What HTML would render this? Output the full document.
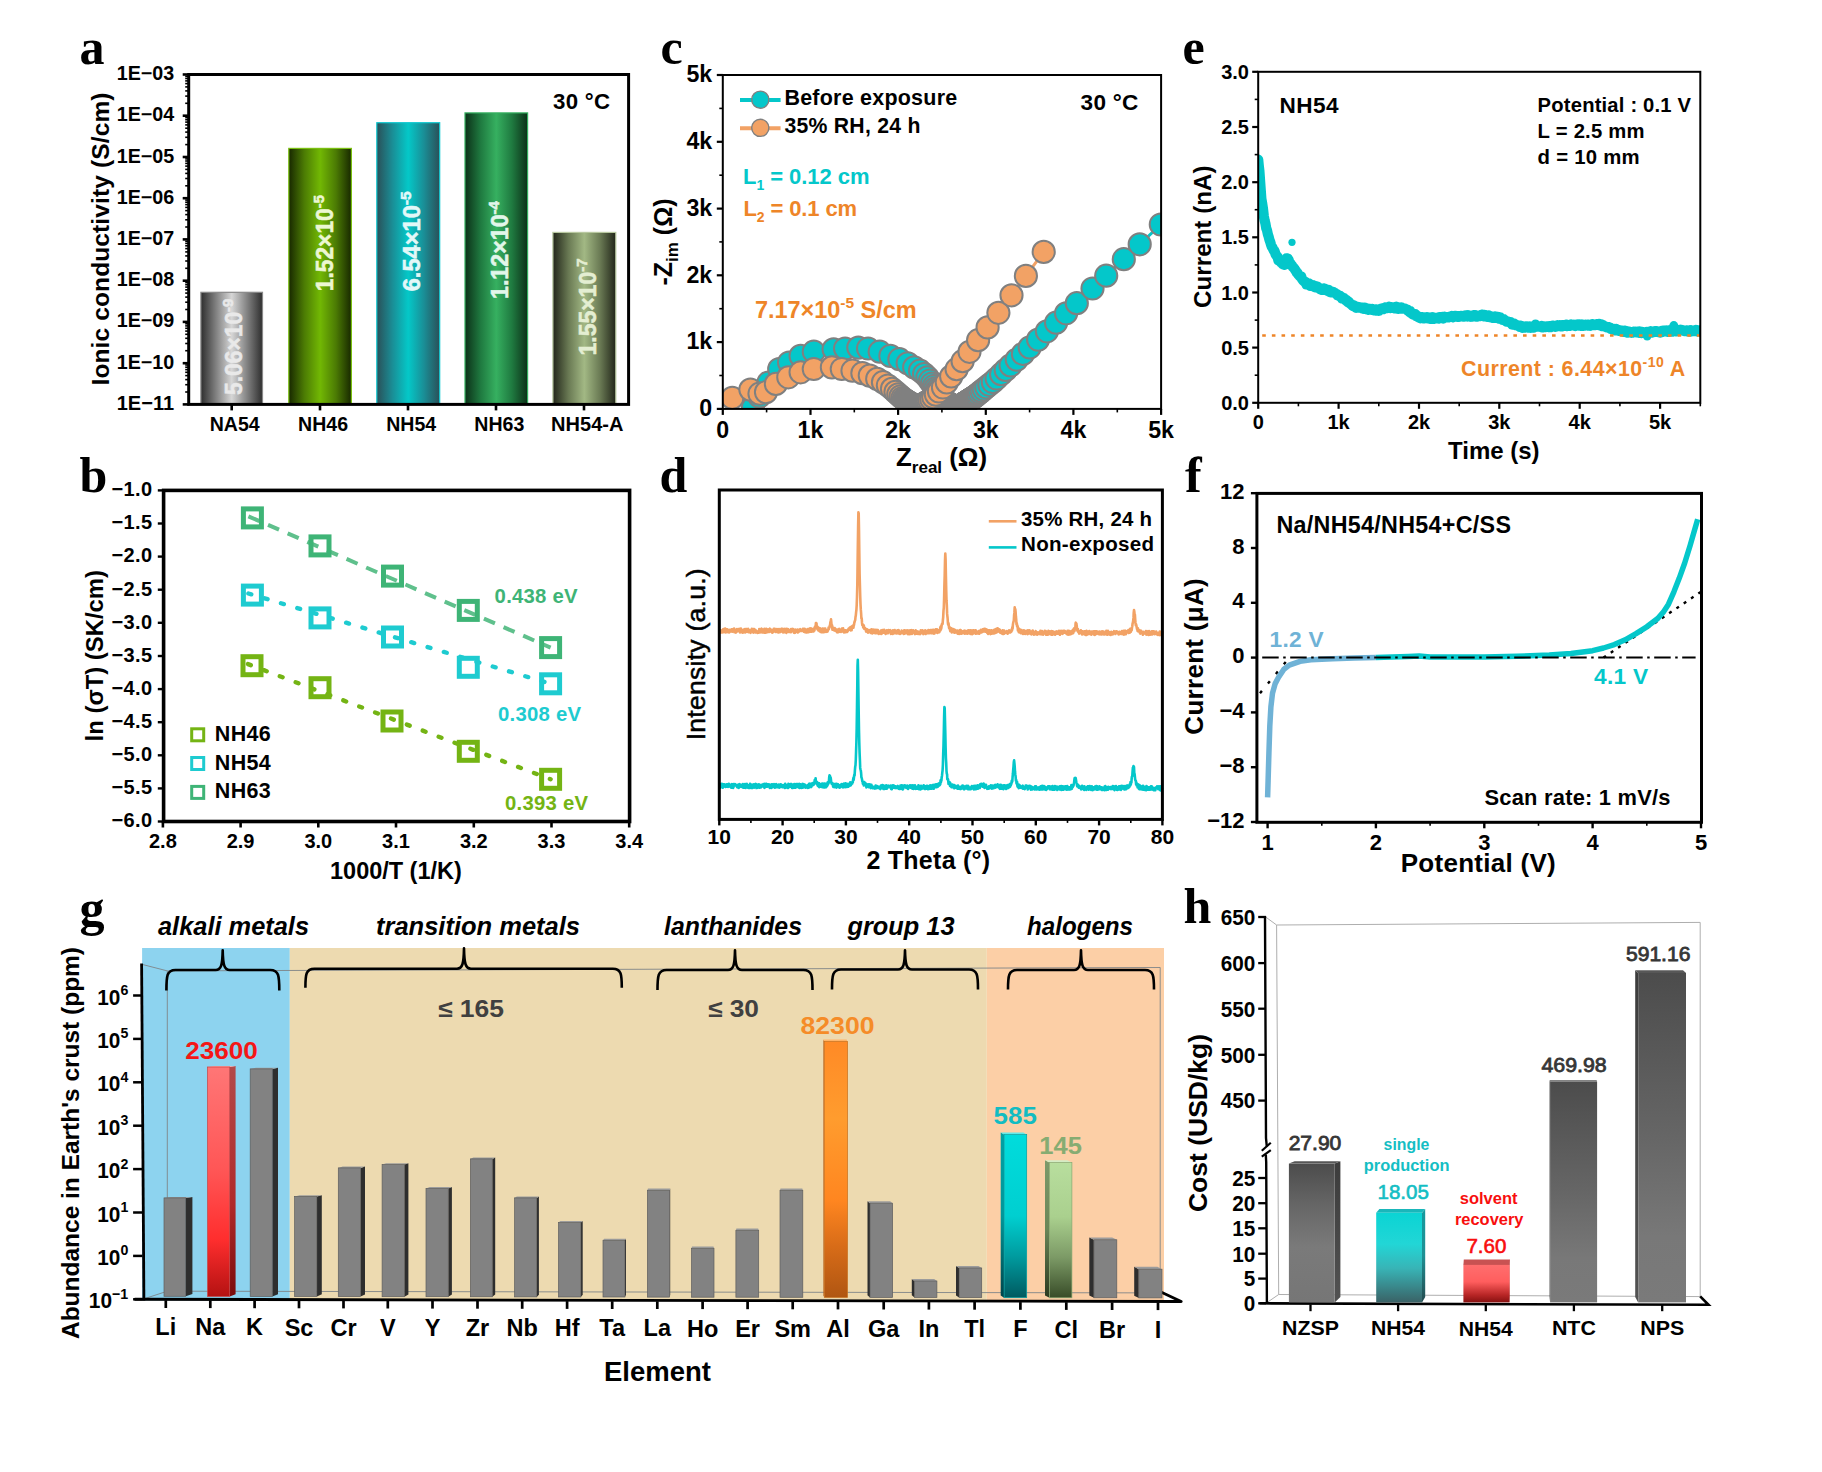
<!DOCTYPE html>
<html lang="en"><head><meta charset="utf-8"><title>Figure</title>
<style>html,body{margin:0;padding:0;background:#fff}svg{display:block}text{font-family:"Liberation Sans",sans-serif}text.ser{font-family:"Liberation Serif",serif}</style></head>
<body>
<svg width="1822" height="1472" viewBox="0 0 1822 1472">
<defs><linearGradient id="ga1" x1="0" y1="0" x2="1" y2="0"><stop offset="0" stop-color="#2e2e2e"/><stop offset="0.5" stop-color="#d6d6d6"/><stop offset="1" stop-color="#2e2e2e"/></linearGradient><linearGradient id="ga2" x1="0" y1="0" x2="1" y2="0"><stop offset="0" stop-color="#182800"/><stop offset="0.25" stop-color="#4c7c04"/><stop offset="0.5" stop-color="#72b804"/><stop offset="0.75" stop-color="#4c7c04"/><stop offset="1" stop-color="#182800"/></linearGradient><linearGradient id="ga3" x1="0" y1="0" x2="1" y2="0"><stop offset="0" stop-color="#2a5058"/><stop offset="0.25" stop-color="#1a8e96"/><stop offset="0.5" stop-color="#04c8c8"/><stop offset="0.75" stop-color="#1a8e96"/><stop offset="1" stop-color="#2a5058"/></linearGradient><linearGradient id="ga4" x1="0" y1="0" x2="1" y2="0"><stop offset="0" stop-color="#0c3018"/><stop offset="0.25" stop-color="#1f7a40"/><stop offset="0.5" stop-color="#36b060"/><stop offset="0.75" stop-color="#1f7a40"/><stop offset="1" stop-color="#0c3018"/></linearGradient><linearGradient id="ga5" x1="0" y1="0" x2="1" y2="0"><stop offset="0" stop-color="#22261a"/><stop offset="0.25" stop-color="#6a7a54"/><stop offset="0.5" stop-color="#a2b884"/><stop offset="0.75" stop-color="#6a7a54"/><stop offset="1" stop-color="#22261a"/></linearGradient><linearGradient id="gna" x1="0" y1="0" x2="0" y2="1"><stop offset="0" stop-color="#ff7676"/><stop offset="0.45" stop-color="#ff5656"/><stop offset="0.75" stop-color="#ff2e2e"/><stop offset="1" stop-color="#b41212"/></linearGradient><linearGradient id="gna2" x1="0" y1="0" x2="0" y2="1"><stop offset="0" stop-color="#b24a4a"/><stop offset="0.6" stop-color="#b02a2a"/><stop offset="1" stop-color="#7a0c0c"/></linearGradient><linearGradient id="gal" x1="0" y1="0" x2="0" y2="1"><stop offset="0" stop-color="#ff8a26"/><stop offset="0.3" stop-color="#ff9c2e"/><stop offset="0.62" stop-color="#ff8620"/><stop offset="0.8" stop-color="#d86c18"/><stop offset="1" stop-color="#b05612"/></linearGradient><linearGradient id="gf" x1="0" y1="0" x2="0" y2="1"><stop offset="0" stop-color="#00dcdc"/><stop offset="0.5" stop-color="#00cfd0"/><stop offset="0.75" stop-color="#009a9e"/><stop offset="1" stop-color="#005a60"/></linearGradient><linearGradient id="gf2" x1="0" y1="0" x2="0" y2="1"><stop offset="0" stop-color="#00a0a4"/><stop offset="0.5" stop-color="#00979a"/><stop offset="1" stop-color="#00444a"/></linearGradient><linearGradient id="gcl" x1="0" y1="0" x2="0" y2="1"><stop offset="0" stop-color="#b8de9e"/><stop offset="0.4" stop-color="#aad08e"/><stop offset="0.7" stop-color="#7c9a66"/><stop offset="1" stop-color="#384c28"/></linearGradient><linearGradient id="gcl2" x1="0" y1="0" x2="0" y2="1"><stop offset="0" stop-color="#7c9a6a"/><stop offset="0.5" stop-color="#6a8658"/><stop offset="1" stop-color="#2c3a20"/></linearGradient><linearGradient id="hg" x1="0" y1="0" x2="0" y2="1"><stop offset="0" stop-color="#4c4c4c"/><stop offset="0.3" stop-color="#666"/><stop offset="0.6" stop-color="#7a7a7a"/><stop offset="1" stop-color="#767676"/></linearGradient><linearGradient id="hg2" x1="0" y1="0" x2="0" y2="1"><stop offset="0" stop-color="#4c4c4c"/><stop offset="0.5" stop-color="#666"/><stop offset="0.8" stop-color="#787878"/><stop offset="1" stop-color="#7a7a7a"/></linearGradient><linearGradient id="hgs" x1="0" y1="0" x2="0" y2="1"><stop offset="0" stop-color="#3c3c3c"/><stop offset="1" stop-color="#525252"/></linearGradient><linearGradient id="hc" x1="0" y1="0" x2="0" y2="1"><stop offset="0" stop-color="#0ad4d4"/><stop offset="0.35" stop-color="#22d6d6"/><stop offset="0.62" stop-color="#38b4b6"/><stop offset="1" stop-color="#3a6266"/></linearGradient><linearGradient id="hcs" x1="0" y1="0" x2="0" y2="1"><stop offset="0" stop-color="#169a9e"/><stop offset="0.5" stop-color="#1e9094"/><stop offset="1" stop-color="#244a4e"/></linearGradient><linearGradient id="hr" x1="0" y1="0" x2="0" y2="1"><stop offset="0" stop-color="#ff6e6e"/><stop offset="0.45" stop-color="#ff5e5e"/><stop offset="0.8" stop-color="#b82626"/><stop offset="1" stop-color="#861010"/></linearGradient></defs>
<rect width="1822" height="1472" fill="#fff"/>
<g id="panel_a">
<text x="79.5" y="64.0" font-size="50" font-weight="bold" fill="#000" class="ser">a</text>
<rect x="200.9" y="292.3" width="61.6" height="112.1" fill="url(#ga1)" stroke="#888" stroke-width="1.2" />
<text x="234.7" y="430.8" font-size="19.56" font-weight="bold" fill="#000" text-anchor="middle" textLength="50.0" lengthAdjust="spacing">NA54</text>
<rect x="288.8" y="148.4" width="62.6" height="256.0" fill="url(#ga2)" stroke="#7ac010" stroke-width="1.2" />
<text x="323.1" y="430.8" font-size="19.56" font-weight="bold" fill="#000" text-anchor="middle" textLength="50.0" lengthAdjust="spacing">NH46</text>
<rect x="376.8" y="122.7" width="62.9" height="281.7" fill="url(#ga3)" stroke="#10c8d0" stroke-width="1.2" />
<text x="411.2" y="430.8" font-size="19.56" font-weight="bold" fill="#000" text-anchor="middle" textLength="50.0" lengthAdjust="spacing">NH54</text>
<rect x="465.0" y="112.9" width="62.6" height="291.5" fill="url(#ga4)" stroke="#35b060" stroke-width="1.2" />
<text x="499.3" y="430.8" font-size="19.56" font-weight="bold" fill="#000" text-anchor="middle" textLength="50.0" lengthAdjust="spacing">NH63</text>
<rect x="552.9" y="232.4" width="62.9" height="172.0" fill="url(#ga5)" stroke="#b8c8a0" stroke-width="1.2" />
<text x="587.3" y="430.8" font-size="20" font-weight="bold" fill="#000" text-anchor="middle" textLength="72.4" lengthAdjust="spacing">NH54-A</text>
<text x="242.3" y="395.0" font-size="23" fill="#e9e9e9" stroke="#e9e9e9" stroke-width="0.55" font-weight="bold" transform="rotate(-90 242.3 395.0)" textLength="96.3" lengthAdjust="spacingAndGlyphs">5.06×10<tspan dy="-9" font-size="15">-9</tspan></text>
<text x="332.6" y="291.3" font-size="23" fill="#ecf7d2" stroke="#ecf7d2" stroke-width="0.55" font-weight="bold" transform="rotate(-90 332.6 291.3)" textLength="96.3" lengthAdjust="spacingAndGlyphs">1.52×10<tspan dy="-9" font-size="15">-5</tspan></text>
<text x="419.9" y="291.3" font-size="23" fill="#e2f8f8" stroke="#e2f8f8" stroke-width="0.55" font-weight="bold" transform="rotate(-90 419.9 291.3)" textLength="100" lengthAdjust="spacingAndGlyphs">6.54×10<tspan dy="-9" font-size="15">-5</tspan></text>
<text x="508.0" y="299.0" font-size="23" fill="#e2f6ea" stroke="#e2f6ea" stroke-width="0.55" font-weight="bold" transform="rotate(-90 508.0 299.0)" textLength="98" lengthAdjust="spacingAndGlyphs">1.12×10<tspan dy="-9" font-size="15">-4</tspan></text>
<text x="596.0" y="355.5" font-size="23" fill="#e4eed2" stroke="#e4eed2" stroke-width="0.55" font-weight="bold" transform="rotate(-90 596.0 355.5)" textLength="97" lengthAdjust="spacingAndGlyphs">1.55×10<tspan dy="-9" font-size="15">-7</tspan></text>
<rect x="188.7" y="74.5" width="439.9" height="329.9" fill="none" stroke="#000" stroke-width="3.0" />
<line x1="182.7" y1="74.5" x2="188.7" y2="74.5" stroke="#000" stroke-width="2.6" />
<text x="174.2" y="80.0" font-size="19.69" font-weight="bold" fill="#000" text-anchor="end" textLength="57.5" lengthAdjust="spacing">1E−03</text>
<line x1="185.2" y1="103.3" x2="188.7" y2="103.3" stroke="#000" stroke-width="1.6" />
<line x1="185.2" y1="96.1" x2="188.7" y2="96.1" stroke="#000" stroke-width="1.6" />
<line x1="185.2" y1="90.9" x2="188.7" y2="90.9" stroke="#000" stroke-width="1.6" />
<line x1="185.2" y1="86.9" x2="188.7" y2="86.9" stroke="#000" stroke-width="1.6" />
<line x1="185.2" y1="83.6" x2="188.7" y2="83.6" stroke="#000" stroke-width="1.6" />
<line x1="185.2" y1="80.9" x2="188.7" y2="80.9" stroke="#000" stroke-width="1.6" />
<line x1="185.2" y1="78.5" x2="188.7" y2="78.5" stroke="#000" stroke-width="1.6" />
<line x1="185.2" y1="76.4" x2="188.7" y2="76.4" stroke="#000" stroke-width="1.6" />
<line x1="182.7" y1="115.7" x2="188.7" y2="115.7" stroke="#000" stroke-width="2.6" />
<text x="174.2" y="121.2" font-size="19.69" font-weight="bold" fill="#000" text-anchor="end" textLength="57.5" lengthAdjust="spacing">1E−04</text>
<line x1="185.2" y1="144.6" x2="188.7" y2="144.6" stroke="#000" stroke-width="1.6" />
<line x1="185.2" y1="137.3" x2="188.7" y2="137.3" stroke="#000" stroke-width="1.6" />
<line x1="185.2" y1="132.1" x2="188.7" y2="132.1" stroke="#000" stroke-width="1.6" />
<line x1="185.2" y1="128.2" x2="188.7" y2="128.2" stroke="#000" stroke-width="1.6" />
<line x1="185.2" y1="124.9" x2="188.7" y2="124.9" stroke="#000" stroke-width="1.6" />
<line x1="185.2" y1="122.1" x2="188.7" y2="122.1" stroke="#000" stroke-width="1.6" />
<line x1="185.2" y1="119.7" x2="188.7" y2="119.7" stroke="#000" stroke-width="1.6" />
<line x1="185.2" y1="117.6" x2="188.7" y2="117.6" stroke="#000" stroke-width="1.6" />
<line x1="182.7" y1="157.0" x2="188.7" y2="157.0" stroke="#000" stroke-width="2.6" />
<text x="174.2" y="162.5" font-size="19.69" font-weight="bold" fill="#000" text-anchor="end" textLength="57.5" lengthAdjust="spacing">1E−05</text>
<line x1="185.2" y1="185.8" x2="188.7" y2="185.8" stroke="#000" stroke-width="1.6" />
<line x1="185.2" y1="178.5" x2="188.7" y2="178.5" stroke="#000" stroke-width="1.6" />
<line x1="185.2" y1="173.4" x2="188.7" y2="173.4" stroke="#000" stroke-width="1.6" />
<line x1="185.2" y1="169.4" x2="188.7" y2="169.4" stroke="#000" stroke-width="1.6" />
<line x1="185.2" y1="166.1" x2="188.7" y2="166.1" stroke="#000" stroke-width="1.6" />
<line x1="185.2" y1="163.4" x2="188.7" y2="163.4" stroke="#000" stroke-width="1.6" />
<line x1="185.2" y1="161.0" x2="188.7" y2="161.0" stroke="#000" stroke-width="1.6" />
<line x1="185.2" y1="158.9" x2="188.7" y2="158.9" stroke="#000" stroke-width="1.6" />
<line x1="182.7" y1="198.2" x2="188.7" y2="198.2" stroke="#000" stroke-width="2.6" />
<text x="174.2" y="203.7" font-size="19.69" font-weight="bold" fill="#000" text-anchor="end" textLength="57.5" lengthAdjust="spacing">1E−06</text>
<line x1="185.2" y1="227.0" x2="188.7" y2="227.0" stroke="#000" stroke-width="1.6" />
<line x1="185.2" y1="219.8" x2="188.7" y2="219.8" stroke="#000" stroke-width="1.6" />
<line x1="185.2" y1="214.6" x2="188.7" y2="214.6" stroke="#000" stroke-width="1.6" />
<line x1="185.2" y1="210.6" x2="188.7" y2="210.6" stroke="#000" stroke-width="1.6" />
<line x1="185.2" y1="207.4" x2="188.7" y2="207.4" stroke="#000" stroke-width="1.6" />
<line x1="185.2" y1="204.6" x2="188.7" y2="204.6" stroke="#000" stroke-width="1.6" />
<line x1="185.2" y1="202.2" x2="188.7" y2="202.2" stroke="#000" stroke-width="1.6" />
<line x1="185.2" y1="200.1" x2="188.7" y2="200.1" stroke="#000" stroke-width="1.6" />
<line x1="182.7" y1="239.4" x2="188.7" y2="239.4" stroke="#000" stroke-width="2.6" />
<text x="174.2" y="244.9" font-size="19.69" font-weight="bold" fill="#000" text-anchor="end" textLength="57.5" lengthAdjust="spacing">1E−07</text>
<line x1="185.2" y1="268.3" x2="188.7" y2="268.3" stroke="#000" stroke-width="1.6" />
<line x1="185.2" y1="261.0" x2="188.7" y2="261.0" stroke="#000" stroke-width="1.6" />
<line x1="185.2" y1="255.9" x2="188.7" y2="255.9" stroke="#000" stroke-width="1.6" />
<line x1="185.2" y1="251.9" x2="188.7" y2="251.9" stroke="#000" stroke-width="1.6" />
<line x1="185.2" y1="248.6" x2="188.7" y2="248.6" stroke="#000" stroke-width="1.6" />
<line x1="185.2" y1="245.8" x2="188.7" y2="245.8" stroke="#000" stroke-width="1.6" />
<line x1="185.2" y1="243.4" x2="188.7" y2="243.4" stroke="#000" stroke-width="1.6" />
<line x1="185.2" y1="241.3" x2="188.7" y2="241.3" stroke="#000" stroke-width="1.6" />
<line x1="182.7" y1="280.7" x2="188.7" y2="280.7" stroke="#000" stroke-width="2.6" />
<text x="174.2" y="286.2" font-size="19.69" font-weight="bold" fill="#000" text-anchor="end" textLength="57.5" lengthAdjust="spacing">1E−08</text>
<line x1="185.2" y1="309.5" x2="188.7" y2="309.5" stroke="#000" stroke-width="1.6" />
<line x1="185.2" y1="302.2" x2="188.7" y2="302.2" stroke="#000" stroke-width="1.6" />
<line x1="185.2" y1="297.1" x2="188.7" y2="297.1" stroke="#000" stroke-width="1.6" />
<line x1="185.2" y1="293.1" x2="188.7" y2="293.1" stroke="#000" stroke-width="1.6" />
<line x1="185.2" y1="289.8" x2="188.7" y2="289.8" stroke="#000" stroke-width="1.6" />
<line x1="185.2" y1="287.1" x2="188.7" y2="287.1" stroke="#000" stroke-width="1.6" />
<line x1="185.2" y1="284.7" x2="188.7" y2="284.7" stroke="#000" stroke-width="1.6" />
<line x1="185.2" y1="282.6" x2="188.7" y2="282.6" stroke="#000" stroke-width="1.6" />
<line x1="182.7" y1="321.9" x2="188.7" y2="321.9" stroke="#000" stroke-width="2.6" />
<text x="174.2" y="327.4" font-size="19.69" font-weight="bold" fill="#000" text-anchor="end" textLength="57.5" lengthAdjust="spacing">1E−09</text>
<line x1="185.2" y1="350.7" x2="188.7" y2="350.7" stroke="#000" stroke-width="1.6" />
<line x1="185.2" y1="343.5" x2="188.7" y2="343.5" stroke="#000" stroke-width="1.6" />
<line x1="185.2" y1="338.3" x2="188.7" y2="338.3" stroke="#000" stroke-width="1.6" />
<line x1="185.2" y1="334.3" x2="188.7" y2="334.3" stroke="#000" stroke-width="1.6" />
<line x1="185.2" y1="331.1" x2="188.7" y2="331.1" stroke="#000" stroke-width="1.6" />
<line x1="185.2" y1="328.3" x2="188.7" y2="328.3" stroke="#000" stroke-width="1.6" />
<line x1="185.2" y1="325.9" x2="188.7" y2="325.9" stroke="#000" stroke-width="1.6" />
<line x1="185.2" y1="323.8" x2="188.7" y2="323.8" stroke="#000" stroke-width="1.6" />
<line x1="182.7" y1="363.2" x2="188.7" y2="363.2" stroke="#000" stroke-width="2.6" />
<text x="174.2" y="368.7" font-size="19.69" font-weight="bold" fill="#000" text-anchor="end" textLength="57.5" lengthAdjust="spacing">1E−10</text>
<line x1="185.2" y1="392.0" x2="188.7" y2="392.0" stroke="#000" stroke-width="1.6" />
<line x1="185.2" y1="384.7" x2="188.7" y2="384.7" stroke="#000" stroke-width="1.6" />
<line x1="185.2" y1="379.6" x2="188.7" y2="379.6" stroke="#000" stroke-width="1.6" />
<line x1="185.2" y1="375.6" x2="188.7" y2="375.6" stroke="#000" stroke-width="1.6" />
<line x1="185.2" y1="372.3" x2="188.7" y2="372.3" stroke="#000" stroke-width="1.6" />
<line x1="185.2" y1="369.6" x2="188.7" y2="369.6" stroke="#000" stroke-width="1.6" />
<line x1="185.2" y1="367.2" x2="188.7" y2="367.2" stroke="#000" stroke-width="1.6" />
<line x1="185.2" y1="365.0" x2="188.7" y2="365.0" stroke="#000" stroke-width="1.6" />
<line x1="182.7" y1="404.4" x2="188.7" y2="404.4" stroke="#000" stroke-width="2.6" />
<text x="174.2" y="409.9" font-size="20" font-weight="bold" fill="#000" text-anchor="end" textLength="57.5" lengthAdjust="spacing">1E−11</text>
<line x1="231.7" y1="404.4" x2="231.7" y2="410.4" stroke="#000" stroke-width="2.6" />
<line x1="320.0" y1="404.4" x2="320.0" y2="410.4" stroke="#000" stroke-width="2.6" />
<line x1="408.0" y1="404.4" x2="408.0" y2="410.4" stroke="#000" stroke-width="2.6" />
<line x1="496.0" y1="404.4" x2="496.0" y2="410.4" stroke="#000" stroke-width="2.6" />
<line x1="584.0" y1="404.4" x2="584.0" y2="410.4" stroke="#000" stroke-width="2.6" />
<text x="108.5" y="239.0" font-size="24.5" font-weight="bold" fill="#000" text-anchor="middle" textLength="293.0" lengthAdjust="spacing" transform="rotate(-90 108.5 239.0)">Ionic conductivity (S/cm)</text>
<text x="553.0" y="109.0" font-size="22.24" font-weight="bold" fill="#000" textLength="57.0" lengthAdjust="spacing">30 °C</text>
</g>
<g id="panel_b">
<text x="79.5" y="492.0" font-size="50" font-weight="bold" fill="#000" class="ser">b</text>
<line x1="248.4" y1="516.3" x2="550.6" y2="647.6" stroke="#5fc08c" stroke-width="4.0" stroke-dasharray="12 9.4" stroke-linecap="butt"/>
<rect x="243.4" y="508.9" width="18.0" height="18.0" fill="none" stroke="#3eb476" stroke-width="5" />
<rect x="311.0" y="536.9" width="18.0" height="18.0" fill="none" stroke="#3eb476" stroke-width="5" />
<rect x="383.5" y="567.1" width="18.0" height="18.0" fill="none" stroke="#3eb476" stroke-width="5" />
<rect x="459.3" y="601.4" width="18.0" height="18.0" fill="none" stroke="#3eb476" stroke-width="5" />
<rect x="541.6" y="638.6" width="18.0" height="18.0" fill="none" stroke="#3eb476" stroke-width="5" />
<line x1="248.4" y1="593.5" x2="550.6" y2="683.8" stroke="#1ecbd0" stroke-width="4.4" stroke-dasharray="3 14" stroke-linecap="round"/>
<rect x="243.4" y="586.1" width="18.0" height="18.0" fill="none" stroke="#1ecbd0" stroke-width="5" />
<rect x="311.0" y="608.9" width="18.0" height="18.0" fill="none" stroke="#1ecbd0" stroke-width="5" />
<rect x="383.5" y="628.0" width="18.0" height="18.0" fill="none" stroke="#1ecbd0" stroke-width="5" />
<rect x="459.3" y="658.3" width="18.0" height="18.0" fill="none" stroke="#1ecbd0" stroke-width="5" />
<rect x="541.6" y="674.8" width="18.0" height="18.0" fill="none" stroke="#1ecbd0" stroke-width="5" />
<line x1="248.0" y1="664.1" x2="550.6" y2="779.3" stroke="#74b414" stroke-width="4.4" stroke-dasharray="3 14" stroke-linecap="round"/>
<rect x="243.0" y="656.7" width="18.0" height="18.0" fill="none" stroke="#74b414" stroke-width="5" />
<rect x="311.0" y="678.7" width="18.0" height="18.0" fill="none" stroke="#74b414" stroke-width="5" />
<rect x="383.0" y="712.0" width="18.0" height="18.0" fill="none" stroke="#74b414" stroke-width="5" />
<rect x="459.3" y="742.3" width="18.0" height="18.0" fill="none" stroke="#74b414" stroke-width="5" />
<rect x="541.6" y="770.3" width="18.0" height="18.0" fill="none" stroke="#74b414" stroke-width="5" />
<rect x="163.6" y="490.4" width="466.0" height="331.1" fill="none" stroke="#000" stroke-width="3.6" />
<line x1="157.8" y1="490.4" x2="163.6" y2="490.4" stroke="#000" stroke-width="2.4" />
<text x="152.0" y="496.2" font-size="20" font-weight="bold" fill="#000" text-anchor="end" textLength="40.5" lengthAdjust="spacing">−1.0</text>
<line x1="157.8" y1="523.5" x2="163.6" y2="523.5" stroke="#000" stroke-width="2.4" />
<text x="152.0" y="529.3" font-size="20" font-weight="bold" fill="#000" text-anchor="end" textLength="40.5" lengthAdjust="spacing">−1.5</text>
<line x1="157.8" y1="556.6" x2="163.6" y2="556.6" stroke="#000" stroke-width="2.4" />
<text x="152.0" y="562.4" font-size="20" font-weight="bold" fill="#000" text-anchor="end" textLength="40.5" lengthAdjust="spacing">−2.0</text>
<line x1="157.8" y1="589.7" x2="163.6" y2="589.7" stroke="#000" stroke-width="2.4" />
<text x="152.0" y="595.5" font-size="20" font-weight="bold" fill="#000" text-anchor="end" textLength="40.5" lengthAdjust="spacing">−2.5</text>
<line x1="157.8" y1="622.8" x2="163.6" y2="622.8" stroke="#000" stroke-width="2.4" />
<text x="152.0" y="628.6" font-size="20" font-weight="bold" fill="#000" text-anchor="end" textLength="40.5" lengthAdjust="spacing">−3.0</text>
<line x1="157.8" y1="656.0" x2="163.6" y2="656.0" stroke="#000" stroke-width="2.4" />
<text x="152.0" y="661.8" font-size="20" font-weight="bold" fill="#000" text-anchor="end" textLength="40.5" lengthAdjust="spacing">−3.5</text>
<line x1="157.8" y1="689.1" x2="163.6" y2="689.1" stroke="#000" stroke-width="2.4" />
<text x="152.0" y="694.9" font-size="20" font-weight="bold" fill="#000" text-anchor="end" textLength="40.5" lengthAdjust="spacing">−4.0</text>
<line x1="157.8" y1="722.2" x2="163.6" y2="722.2" stroke="#000" stroke-width="2.4" />
<text x="152.0" y="728.0" font-size="20" font-weight="bold" fill="#000" text-anchor="end" textLength="40.5" lengthAdjust="spacing">−4.5</text>
<line x1="157.8" y1="755.3" x2="163.6" y2="755.3" stroke="#000" stroke-width="2.4" />
<text x="152.0" y="761.1" font-size="20" font-weight="bold" fill="#000" text-anchor="end" textLength="40.5" lengthAdjust="spacing">−5.0</text>
<line x1="157.8" y1="788.4" x2="163.6" y2="788.4" stroke="#000" stroke-width="2.4" />
<text x="152.0" y="794.2" font-size="20" font-weight="bold" fill="#000" text-anchor="end" textLength="40.5" lengthAdjust="spacing">−5.5</text>
<line x1="157.8" y1="821.5" x2="163.6" y2="821.5" stroke="#000" stroke-width="2.4" />
<text x="152.0" y="827.3" font-size="20" font-weight="bold" fill="#000" text-anchor="end" textLength="40.5" lengthAdjust="spacing">−6.0</text>
<line x1="162.9" y1="821.5" x2="162.9" y2="827.5" stroke="#000" stroke-width="2.6" />
<text x="162.9" y="847.6" font-size="20" font-weight="bold" fill="#000" text-anchor="middle">2.8</text>
<line x1="240.6" y1="821.5" x2="240.6" y2="827.5" stroke="#000" stroke-width="2.6" />
<text x="240.6" y="847.6" font-size="20" font-weight="bold" fill="#000" text-anchor="middle">2.9</text>
<line x1="318.3" y1="821.5" x2="318.3" y2="827.5" stroke="#000" stroke-width="2.6" />
<text x="318.3" y="847.6" font-size="20" font-weight="bold" fill="#000" text-anchor="middle">3.0</text>
<line x1="396.0" y1="821.5" x2="396.0" y2="827.5" stroke="#000" stroke-width="2.6" />
<text x="396.0" y="847.6" font-size="20" font-weight="bold" fill="#000" text-anchor="middle">3.1</text>
<line x1="473.8" y1="821.5" x2="473.8" y2="827.5" stroke="#000" stroke-width="2.6" />
<text x="473.8" y="847.6" font-size="20" font-weight="bold" fill="#000" text-anchor="middle">3.2</text>
<line x1="551.5" y1="821.5" x2="551.5" y2="827.5" stroke="#000" stroke-width="2.6" />
<text x="551.5" y="847.6" font-size="20" font-weight="bold" fill="#000" text-anchor="middle">3.3</text>
<line x1="629.2" y1="821.5" x2="629.2" y2="827.5" stroke="#000" stroke-width="2.6" />
<text x="629.2" y="847.6" font-size="20" font-weight="bold" fill="#000" text-anchor="middle">3.4</text>
<rect x="191.7" y="728.8" width="12.0" height="12.0" fill="none" stroke="#74b414" stroke-width="3" />
<text x="214.8" y="740.8" font-size="21.47" font-weight="bold" fill="#000" textLength="56.0" lengthAdjust="spacing">NH46</text>
<rect x="191.7" y="757.5" width="12.0" height="12.0" fill="none" stroke="#1ecbd0" stroke-width="3" />
<text x="214.8" y="769.5" font-size="21.47" font-weight="bold" fill="#000" textLength="56.0" lengthAdjust="spacing">NH54</text>
<rect x="191.7" y="786.4" width="12.0" height="12.0" fill="none" stroke="#3eb476" stroke-width="3" />
<text x="214.8" y="798.4" font-size="21.47" font-weight="bold" fill="#000" textLength="56.0" lengthAdjust="spacing">NH63</text>
<text x="494.6" y="602.5" font-size="20.33" font-weight="bold" fill="#3eb476" textLength="83.0" lengthAdjust="spacing">0.438 eV</text>
<text x="498.0" y="720.5" font-size="20.33" font-weight="bold" fill="#1ecbd0" textLength="83.0" lengthAdjust="spacing">0.308 eV</text>
<text x="505.0" y="809.5" font-size="20.33" font-weight="bold" fill="#74b414" textLength="83.0" lengthAdjust="spacing">0.393 eV</text>
<text x="103.0" y="655.7" font-size="23.86" font-weight="bold" fill="#000" text-anchor="middle" textLength="171.4" lengthAdjust="spacing" transform="rotate(-90 103.0 655.7)">ln (σT) (SK/cm)</text>
<text x="395.9" y="878.5" font-size="23.5" font-weight="bold" fill="#000" text-anchor="middle" textLength="131.7" lengthAdjust="spacing">1000/T (1/K)</text>
</g>
<g id="panel_c">
<text x="660.5" y="64.0" font-size="50" font-weight="bold" fill="#000" class="ser">c</text>
<clipPath id="clipc"><rect x="722.8" y="75.0" width="438.29999999999995" height="334.2"/></clipPath>
<g clip-path="url(#clipc)">
<path d="M752.9,407.7 L759.5,396.5 L768.5,382.5 L779.2,369.0 L789.1,362.5 L800.6,355.9 L813.8,351.7 L833.6,349.3 L845.1,348.5 L858.3,347.6 L868.1,348.5 L879.7,351.7 L890.4,355.9 L899.4,359.2 L907.7,363.3 L914.2,367.4 L920.0,370.7 L924.1,374.0 L927.4,377.3 L929.9,380.7 L932.0,383.6 L933.8,386.2 L935.3,388.3 L936.7,390.2 L937.8,391.8 L938.9,393.1 L939.8,394.3 L940.6,395.2 L941.3,396.1 L941.9,396.8 L942.4,397.4 L942.8,398.0 L943.2,398.4 L943.5,398.8 L943.7,399.2 L944.0,399.5 L944.3,399.9 L944.6,400.2 L944.9,400.6 L945.2,400.9 L945.4,401.3 L945.7,401.6 L946.0,402.0 L946.4,402.2 L946.8,402.4 L947.2,402.7 L947.6,402.9 L948.0,403.1 L948.3,403.3 L948.7,403.6 L949.1,403.8 L949.5,404.0 L949.9,404.2 L950.3,404.5 L950.7,404.7 L951.1,404.9 L951.5,405.1 L951.9,405.3 L952.2,405.6 L952.6,405.8 L953.0,406.0 L953.5,406.0 L953.9,406.1 L954.4,406.1 L954.8,406.2 L955.3,406.2 L955.7,406.3 L956.2,406.3 L956.6,406.3 L957.1,406.4 L957.5,406.4 L958.0,406.5 L958.4,406.5 L958.9,406.6 L959.6,406.4 L960.0,406.2 L960.4,405.9 L960.8,405.7 L961.1,405.4 L961.5,405.2 L961.9,404.9 L962.3,404.7 L962.6,404.4 L963.0,404.2 L963.4,404.0 L963.8,403.7 L964.2,403.5 L964.5,403.2 L964.9,403.0 L965.3,402.7 L965.7,402.5 L966.1,402.3 L966.4,402.0 L966.8,401.8 L967.2,401.5 L967.6,401.3 L967.9,401.0 L968.3,400.8 L968.7,400.6 L969.1,400.3 L969.5,400.1 L969.8,399.8 L970.2,399.6 L970.7,399.3 L971.2,398.9 L971.8,398.5 L972.5,398.1 L973.4,397.5 L974.3,396.9 L975.4,396.1 L976.6,395.2 L978.0,394.0 L979.7,392.7 L981.6,391.1 L983.8,389.3 L986.3,387.3 L989.3,384.8 L992.8,382.0 L996.6,378.5 L1001.1,374.2 L1005.7,369.9 L1010.6,365.4 L1016.7,359.6 L1022.9,353.9 L1029.7,347.4 L1038.1,339.6 L1046.9,331.3 L1056.1,322.7 L1066.1,313.3 L1076.8,303.2 L1092.5,288.5 L1106.2,275.7 L1123.8,259.2 L1139.7,244.3 L1160.8,224.5" fill="none" stroke="#04c7ca" stroke-width="3" />
<circle cx="752.9" cy="407.7" r="11.1" fill="#04c7ca" stroke="#808080" stroke-width="2"/>
<circle cx="759.5" cy="396.5" r="11.1" fill="#04c7ca" stroke="#808080" stroke-width="2"/>
<circle cx="768.5" cy="382.5" r="11.1" fill="#04c7ca" stroke="#808080" stroke-width="2"/>
<circle cx="779.2" cy="369.0" r="11.1" fill="#04c7ca" stroke="#808080" stroke-width="2"/>
<circle cx="789.1" cy="362.5" r="11.1" fill="#04c7ca" stroke="#808080" stroke-width="2"/>
<circle cx="800.6" cy="355.9" r="11.1" fill="#04c7ca" stroke="#808080" stroke-width="2"/>
<circle cx="813.8" cy="351.7" r="11.1" fill="#04c7ca" stroke="#808080" stroke-width="2"/>
<circle cx="833.6" cy="349.3" r="11.1" fill="#04c7ca" stroke="#808080" stroke-width="2"/>
<circle cx="845.1" cy="348.5" r="11.1" fill="#04c7ca" stroke="#808080" stroke-width="2"/>
<circle cx="858.3" cy="347.6" r="11.1" fill="#04c7ca" stroke="#808080" stroke-width="2"/>
<circle cx="868.1" cy="348.5" r="11.1" fill="#04c7ca" stroke="#808080" stroke-width="2"/>
<circle cx="879.7" cy="351.7" r="11.1" fill="#04c7ca" stroke="#808080" stroke-width="2"/>
<circle cx="890.4" cy="355.9" r="11.1" fill="#04c7ca" stroke="#808080" stroke-width="2"/>
<circle cx="899.4" cy="359.2" r="11.1" fill="#04c7ca" stroke="#808080" stroke-width="2"/>
<circle cx="907.7" cy="363.3" r="11.1" fill="#04c7ca" stroke="#808080" stroke-width="2"/>
<circle cx="914.2" cy="367.4" r="11.1" fill="#04c7ca" stroke="#808080" stroke-width="2"/>
<circle cx="920.0" cy="370.7" r="11.1" fill="#04c7ca" stroke="#808080" stroke-width="2"/>
<circle cx="924.1" cy="374.0" r="11.1" fill="#04c7ca" stroke="#808080" stroke-width="2"/>
<circle cx="927.4" cy="377.3" r="11.1" fill="#04c7ca" stroke="#808080" stroke-width="2"/>
<circle cx="929.9" cy="380.7" r="11.1" fill="#04c7ca" stroke="#808080" stroke-width="2"/>
<circle cx="932.0" cy="383.6" r="11.1" fill="#04c7ca" stroke="#808080" stroke-width="2"/>
<circle cx="933.8" cy="386.2" r="11.1" fill="#04c7ca" stroke="#808080" stroke-width="2"/>
<circle cx="935.3" cy="388.3" r="11.1" fill="#04c7ca" stroke="#808080" stroke-width="2"/>
<circle cx="936.7" cy="390.2" r="11.1" fill="#04c7ca" stroke="#808080" stroke-width="2"/>
<circle cx="937.8" cy="391.8" r="11.1" fill="#04c7ca" stroke="#808080" stroke-width="2"/>
<circle cx="938.9" cy="393.1" r="11.1" fill="#04c7ca" stroke="#808080" stroke-width="2"/>
<circle cx="939.8" cy="394.3" r="11.1" fill="#04c7ca" stroke="#808080" stroke-width="2"/>
<circle cx="940.6" cy="395.2" r="11.1" fill="#04c7ca" stroke="#808080" stroke-width="2"/>
<circle cx="941.3" cy="396.1" r="11.1" fill="#04c7ca" stroke="#808080" stroke-width="2"/>
<circle cx="941.9" cy="396.8" r="11.1" fill="#04c7ca" stroke="#808080" stroke-width="2"/>
<circle cx="942.4" cy="397.4" r="11.1" fill="#04c7ca" stroke="#808080" stroke-width="2"/>
<circle cx="942.8" cy="398.0" r="11.1" fill="#04c7ca" stroke="#808080" stroke-width="2"/>
<circle cx="943.2" cy="398.4" r="11.1" fill="#04c7ca" stroke="#808080" stroke-width="2"/>
<circle cx="943.5" cy="398.8" r="11.1" fill="#04c7ca" stroke="#808080" stroke-width="2"/>
<circle cx="943.7" cy="399.2" r="11.1" fill="#04c7ca" stroke="#808080" stroke-width="2"/>
<circle cx="944.0" cy="399.5" r="11.1" fill="#04c7ca" stroke="#808080" stroke-width="2"/>
<circle cx="944.3" cy="399.9" r="11.1" fill="#04c7ca" stroke="#808080" stroke-width="2"/>
<circle cx="944.6" cy="400.2" r="11.1" fill="#04c7ca" stroke="#808080" stroke-width="2"/>
<circle cx="944.9" cy="400.6" r="11.1" fill="#04c7ca" stroke="#808080" stroke-width="2"/>
<circle cx="945.2" cy="400.9" r="11.1" fill="#04c7ca" stroke="#808080" stroke-width="2"/>
<circle cx="945.4" cy="401.3" r="11.1" fill="#04c7ca" stroke="#808080" stroke-width="2"/>
<circle cx="945.7" cy="401.6" r="11.1" fill="#04c7ca" stroke="#808080" stroke-width="2"/>
<circle cx="946.0" cy="402.0" r="11.1" fill="#04c7ca" stroke="#808080" stroke-width="2"/>
<circle cx="946.4" cy="402.2" r="11.1" fill="#04c7ca" stroke="#808080" stroke-width="2"/>
<circle cx="946.8" cy="402.4" r="11.1" fill="#04c7ca" stroke="#808080" stroke-width="2"/>
<circle cx="947.2" cy="402.7" r="11.1" fill="#04c7ca" stroke="#808080" stroke-width="2"/>
<circle cx="947.6" cy="402.9" r="11.1" fill="#04c7ca" stroke="#808080" stroke-width="2"/>
<circle cx="948.0" cy="403.1" r="11.1" fill="#04c7ca" stroke="#808080" stroke-width="2"/>
<circle cx="948.3" cy="403.3" r="11.1" fill="#04c7ca" stroke="#808080" stroke-width="2"/>
<circle cx="948.7" cy="403.6" r="11.1" fill="#04c7ca" stroke="#808080" stroke-width="2"/>
<circle cx="949.1" cy="403.8" r="11.1" fill="#04c7ca" stroke="#808080" stroke-width="2"/>
<circle cx="949.5" cy="404.0" r="11.1" fill="#04c7ca" stroke="#808080" stroke-width="2"/>
<circle cx="949.9" cy="404.2" r="11.1" fill="#04c7ca" stroke="#808080" stroke-width="2"/>
<circle cx="950.3" cy="404.5" r="11.1" fill="#04c7ca" stroke="#808080" stroke-width="2"/>
<circle cx="950.7" cy="404.7" r="11.1" fill="#04c7ca" stroke="#808080" stroke-width="2"/>
<circle cx="951.1" cy="404.9" r="11.1" fill="#04c7ca" stroke="#808080" stroke-width="2"/>
<circle cx="951.5" cy="405.1" r="11.1" fill="#04c7ca" stroke="#808080" stroke-width="2"/>
<circle cx="951.9" cy="405.3" r="11.1" fill="#04c7ca" stroke="#808080" stroke-width="2"/>
<circle cx="952.2" cy="405.6" r="11.1" fill="#04c7ca" stroke="#808080" stroke-width="2"/>
<circle cx="952.6" cy="405.8" r="11.1" fill="#04c7ca" stroke="#808080" stroke-width="2"/>
<circle cx="953.0" cy="406.0" r="11.1" fill="#04c7ca" stroke="#808080" stroke-width="2"/>
<circle cx="953.5" cy="406.0" r="11.1" fill="#04c7ca" stroke="#808080" stroke-width="2"/>
<circle cx="953.9" cy="406.1" r="11.1" fill="#04c7ca" stroke="#808080" stroke-width="2"/>
<circle cx="954.4" cy="406.1" r="11.1" fill="#04c7ca" stroke="#808080" stroke-width="2"/>
<circle cx="954.8" cy="406.2" r="11.1" fill="#04c7ca" stroke="#808080" stroke-width="2"/>
<circle cx="955.3" cy="406.2" r="11.1" fill="#04c7ca" stroke="#808080" stroke-width="2"/>
<circle cx="955.7" cy="406.3" r="11.1" fill="#04c7ca" stroke="#808080" stroke-width="2"/>
<circle cx="956.2" cy="406.3" r="11.1" fill="#04c7ca" stroke="#808080" stroke-width="2"/>
<circle cx="956.6" cy="406.3" r="11.1" fill="#04c7ca" stroke="#808080" stroke-width="2"/>
<circle cx="957.1" cy="406.4" r="11.1" fill="#04c7ca" stroke="#808080" stroke-width="2"/>
<circle cx="957.5" cy="406.4" r="11.1" fill="#04c7ca" stroke="#808080" stroke-width="2"/>
<circle cx="958.0" cy="406.5" r="11.1" fill="#04c7ca" stroke="#808080" stroke-width="2"/>
<circle cx="958.4" cy="406.5" r="11.1" fill="#04c7ca" stroke="#808080" stroke-width="2"/>
<circle cx="958.9" cy="406.6" r="11.1" fill="#04c7ca" stroke="#808080" stroke-width="2"/>
<circle cx="959.6" cy="406.4" r="11.1" fill="#04c7ca" stroke="#808080" stroke-width="2"/>
<circle cx="960.0" cy="406.2" r="11.1" fill="#04c7ca" stroke="#808080" stroke-width="2"/>
<circle cx="960.4" cy="405.9" r="11.1" fill="#04c7ca" stroke="#808080" stroke-width="2"/>
<circle cx="960.8" cy="405.7" r="11.1" fill="#04c7ca" stroke="#808080" stroke-width="2"/>
<circle cx="961.1" cy="405.4" r="11.1" fill="#04c7ca" stroke="#808080" stroke-width="2"/>
<circle cx="961.5" cy="405.2" r="11.1" fill="#04c7ca" stroke="#808080" stroke-width="2"/>
<circle cx="961.9" cy="404.9" r="11.1" fill="#04c7ca" stroke="#808080" stroke-width="2"/>
<circle cx="962.3" cy="404.7" r="11.1" fill="#04c7ca" stroke="#808080" stroke-width="2"/>
<circle cx="962.6" cy="404.4" r="11.1" fill="#04c7ca" stroke="#808080" stroke-width="2"/>
<circle cx="963.0" cy="404.2" r="11.1" fill="#04c7ca" stroke="#808080" stroke-width="2"/>
<circle cx="963.4" cy="404.0" r="11.1" fill="#04c7ca" stroke="#808080" stroke-width="2"/>
<circle cx="963.8" cy="403.7" r="11.1" fill="#04c7ca" stroke="#808080" stroke-width="2"/>
<circle cx="964.2" cy="403.5" r="11.1" fill="#04c7ca" stroke="#808080" stroke-width="2"/>
<circle cx="964.5" cy="403.2" r="11.1" fill="#04c7ca" stroke="#808080" stroke-width="2"/>
<circle cx="964.9" cy="403.0" r="11.1" fill="#04c7ca" stroke="#808080" stroke-width="2"/>
<circle cx="965.3" cy="402.7" r="11.1" fill="#04c7ca" stroke="#808080" stroke-width="2"/>
<circle cx="965.7" cy="402.5" r="11.1" fill="#04c7ca" stroke="#808080" stroke-width="2"/>
<circle cx="966.1" cy="402.3" r="11.1" fill="#04c7ca" stroke="#808080" stroke-width="2"/>
<circle cx="966.4" cy="402.0" r="11.1" fill="#04c7ca" stroke="#808080" stroke-width="2"/>
<circle cx="966.8" cy="401.8" r="11.1" fill="#04c7ca" stroke="#808080" stroke-width="2"/>
<circle cx="967.2" cy="401.5" r="11.1" fill="#04c7ca" stroke="#808080" stroke-width="2"/>
<circle cx="967.6" cy="401.3" r="11.1" fill="#04c7ca" stroke="#808080" stroke-width="2"/>
<circle cx="967.9" cy="401.0" r="11.1" fill="#04c7ca" stroke="#808080" stroke-width="2"/>
<circle cx="968.3" cy="400.8" r="11.1" fill="#04c7ca" stroke="#808080" stroke-width="2"/>
<circle cx="968.7" cy="400.6" r="11.1" fill="#04c7ca" stroke="#808080" stroke-width="2"/>
<circle cx="969.1" cy="400.3" r="11.1" fill="#04c7ca" stroke="#808080" stroke-width="2"/>
<circle cx="969.5" cy="400.1" r="11.1" fill="#04c7ca" stroke="#808080" stroke-width="2"/>
<circle cx="969.8" cy="399.8" r="11.1" fill="#04c7ca" stroke="#808080" stroke-width="2"/>
<circle cx="970.2" cy="399.6" r="11.1" fill="#04c7ca" stroke="#808080" stroke-width="2"/>
<circle cx="970.7" cy="399.3" r="11.1" fill="#04c7ca" stroke="#808080" stroke-width="2"/>
<circle cx="971.2" cy="398.9" r="11.1" fill="#04c7ca" stroke="#808080" stroke-width="2"/>
<circle cx="971.8" cy="398.5" r="11.1" fill="#04c7ca" stroke="#808080" stroke-width="2"/>
<circle cx="972.5" cy="398.1" r="11.1" fill="#04c7ca" stroke="#808080" stroke-width="2"/>
<circle cx="973.4" cy="397.5" r="11.1" fill="#04c7ca" stroke="#808080" stroke-width="2"/>
<circle cx="974.3" cy="396.9" r="11.1" fill="#04c7ca" stroke="#808080" stroke-width="2"/>
<circle cx="975.4" cy="396.1" r="11.1" fill="#04c7ca" stroke="#808080" stroke-width="2"/>
<circle cx="976.6" cy="395.2" r="11.1" fill="#04c7ca" stroke="#808080" stroke-width="2"/>
<circle cx="978.0" cy="394.0" r="11.1" fill="#04c7ca" stroke="#808080" stroke-width="2"/>
<circle cx="979.7" cy="392.7" r="11.1" fill="#04c7ca" stroke="#808080" stroke-width="2"/>
<circle cx="981.6" cy="391.1" r="11.1" fill="#04c7ca" stroke="#808080" stroke-width="2"/>
<circle cx="983.8" cy="389.3" r="11.1" fill="#04c7ca" stroke="#808080" stroke-width="2"/>
<circle cx="986.3" cy="387.3" r="11.1" fill="#04c7ca" stroke="#808080" stroke-width="2"/>
<circle cx="989.3" cy="384.8" r="11.1" fill="#04c7ca" stroke="#808080" stroke-width="2"/>
<circle cx="992.8" cy="382.0" r="11.1" fill="#04c7ca" stroke="#808080" stroke-width="2"/>
<circle cx="996.6" cy="378.5" r="11.1" fill="#04c7ca" stroke="#808080" stroke-width="2"/>
<circle cx="1001.1" cy="374.2" r="11.1" fill="#04c7ca" stroke="#808080" stroke-width="2"/>
<circle cx="1005.7" cy="369.9" r="11.1" fill="#04c7ca" stroke="#808080" stroke-width="2"/>
<circle cx="1010.6" cy="365.4" r="11.1" fill="#04c7ca" stroke="#808080" stroke-width="2"/>
<circle cx="1016.7" cy="359.6" r="11.1" fill="#04c7ca" stroke="#808080" stroke-width="2"/>
<circle cx="1022.9" cy="353.9" r="11.1" fill="#04c7ca" stroke="#808080" stroke-width="2"/>
<circle cx="1029.7" cy="347.4" r="11.1" fill="#04c7ca" stroke="#808080" stroke-width="2"/>
<circle cx="1038.1" cy="339.6" r="11.1" fill="#04c7ca" stroke="#808080" stroke-width="2"/>
<circle cx="1046.9" cy="331.3" r="11.1" fill="#04c7ca" stroke="#808080" stroke-width="2"/>
<circle cx="1056.1" cy="322.7" r="11.1" fill="#04c7ca" stroke="#808080" stroke-width="2"/>
<circle cx="1066.1" cy="313.3" r="11.1" fill="#04c7ca" stroke="#808080" stroke-width="2"/>
<circle cx="1076.8" cy="303.2" r="11.1" fill="#04c7ca" stroke="#808080" stroke-width="2"/>
<circle cx="1092.5" cy="288.5" r="11.1" fill="#04c7ca" stroke="#808080" stroke-width="2"/>
<circle cx="1106.2" cy="275.7" r="11.1" fill="#04c7ca" stroke="#808080" stroke-width="2"/>
<circle cx="1123.8" cy="259.2" r="11.1" fill="#04c7ca" stroke="#808080" stroke-width="2"/>
<circle cx="1139.7" cy="244.3" r="11.1" fill="#04c7ca" stroke="#808080" stroke-width="2"/>
<circle cx="1160.8" cy="224.5" r="11.1" fill="#04c7ca" stroke="#808080" stroke-width="2"/>
<path d="M732.3,397.9 L750.4,389.6 L759.5,393.7 L766.0,392.1 L775.9,383.9 L788.3,377.3 L800.6,372.3 L813.8,369.0 L831.9,367.4 L841.8,369.0 L852.5,370.7 L862.4,373.2 L869.8,375.6 L877.2,378.9 L883.0,382.2 L887.9,385.5 L892.0,388.8 L895.5,391.9 L898.3,394.4 L900.6,396.4 L902.4,398.0 L903.9,399.1 L905.2,400.0 L906.2,400.7 L907.0,401.3 L907.7,401.7 L908.2,402.1 L908.6,402.4 L909.0,402.6 L909.4,402.9 L909.7,403.1 L910.1,403.4 L910.5,403.6 L910.8,403.9 L911.2,404.1 L911.7,404.2 L912.1,404.3 L912.6,404.4 L913.0,404.5 L913.4,404.6 L913.9,404.7 L914.3,404.8 L914.7,404.9 L915.2,405.0 L915.6,405.1 L916.1,405.2 L916.5,405.3 L916.9,405.5 L917.4,405.6 L917.8,405.7 L918.2,405.8 L918.7,405.9 L919.1,406.0 L919.6,406.1 L920.0,406.2 L920.2,406.1 L920.5,405.9 L920.9,405.6 L921.3,405.4 L921.7,405.2 L922.1,404.9 L922.5,404.7 L922.8,404.5 L923.2,404.2 L923.6,404.0 L924.1,403.7 L924.8,403.3 L925.6,402.8 L926.6,402.2 L927.9,401.4 L929.4,400.5 L931.3,399.2 L933.3,397.2 L935.9,394.6 L939.0,391.5 L943.0,387.5 L946.8,382.4 L951.2,376.4 L956.6,369.2 L962.6,361.2 L969.5,351.8 L978.1,340.2 L987.6,327.4 L998.4,312.8 L1011.5,295.3 L1025.9,275.9 L1043.7,251.9" fill="none" stroke="#f2a265" stroke-width="3" />
<circle cx="732.3" cy="397.9" r="11.1" fill="#f2a265" stroke="#808080" stroke-width="2"/>
<circle cx="750.4" cy="389.6" r="11.1" fill="#f2a265" stroke="#808080" stroke-width="2"/>
<circle cx="759.5" cy="393.7" r="11.1" fill="#f2a265" stroke="#808080" stroke-width="2"/>
<circle cx="766.0" cy="392.1" r="11.1" fill="#f2a265" stroke="#808080" stroke-width="2"/>
<circle cx="775.9" cy="383.9" r="11.1" fill="#f2a265" stroke="#808080" stroke-width="2"/>
<circle cx="788.3" cy="377.3" r="11.1" fill="#f2a265" stroke="#808080" stroke-width="2"/>
<circle cx="800.6" cy="372.3" r="11.1" fill="#f2a265" stroke="#808080" stroke-width="2"/>
<circle cx="813.8" cy="369.0" r="11.1" fill="#f2a265" stroke="#808080" stroke-width="2"/>
<circle cx="831.9" cy="367.4" r="11.1" fill="#f2a265" stroke="#808080" stroke-width="2"/>
<circle cx="841.8" cy="369.0" r="11.1" fill="#f2a265" stroke="#808080" stroke-width="2"/>
<circle cx="852.5" cy="370.7" r="11.1" fill="#f2a265" stroke="#808080" stroke-width="2"/>
<circle cx="862.4" cy="373.2" r="11.1" fill="#f2a265" stroke="#808080" stroke-width="2"/>
<circle cx="869.8" cy="375.6" r="11.1" fill="#f2a265" stroke="#808080" stroke-width="2"/>
<circle cx="877.2" cy="378.9" r="11.1" fill="#f2a265" stroke="#808080" stroke-width="2"/>
<circle cx="883.0" cy="382.2" r="11.1" fill="#f2a265" stroke="#808080" stroke-width="2"/>
<circle cx="887.9" cy="385.5" r="11.1" fill="#f2a265" stroke="#808080" stroke-width="2"/>
<circle cx="892.0" cy="388.8" r="11.1" fill="#f2a265" stroke="#808080" stroke-width="2"/>
<circle cx="895.5" cy="391.9" r="11.1" fill="#f2a265" stroke="#808080" stroke-width="2"/>
<circle cx="898.3" cy="394.4" r="11.1" fill="#f2a265" stroke="#808080" stroke-width="2"/>
<circle cx="900.6" cy="396.4" r="11.1" fill="#f2a265" stroke="#808080" stroke-width="2"/>
<circle cx="902.4" cy="398.0" r="11.1" fill="#f2a265" stroke="#808080" stroke-width="2"/>
<circle cx="903.9" cy="399.1" r="11.1" fill="#f2a265" stroke="#808080" stroke-width="2"/>
<circle cx="905.2" cy="400.0" r="11.1" fill="#f2a265" stroke="#808080" stroke-width="2"/>
<circle cx="906.2" cy="400.7" r="11.1" fill="#f2a265" stroke="#808080" stroke-width="2"/>
<circle cx="907.0" cy="401.3" r="11.1" fill="#f2a265" stroke="#808080" stroke-width="2"/>
<circle cx="907.7" cy="401.7" r="11.1" fill="#f2a265" stroke="#808080" stroke-width="2"/>
<circle cx="908.2" cy="402.1" r="11.1" fill="#f2a265" stroke="#808080" stroke-width="2"/>
<circle cx="908.6" cy="402.4" r="11.1" fill="#f2a265" stroke="#808080" stroke-width="2"/>
<circle cx="909.0" cy="402.6" r="11.1" fill="#f2a265" stroke="#808080" stroke-width="2"/>
<circle cx="909.4" cy="402.9" r="11.1" fill="#f2a265" stroke="#808080" stroke-width="2"/>
<circle cx="909.7" cy="403.1" r="11.1" fill="#f2a265" stroke="#808080" stroke-width="2"/>
<circle cx="910.1" cy="403.4" r="11.1" fill="#f2a265" stroke="#808080" stroke-width="2"/>
<circle cx="910.5" cy="403.6" r="11.1" fill="#f2a265" stroke="#808080" stroke-width="2"/>
<circle cx="910.8" cy="403.9" r="11.1" fill="#f2a265" stroke="#808080" stroke-width="2"/>
<circle cx="911.2" cy="404.1" r="11.1" fill="#f2a265" stroke="#808080" stroke-width="2"/>
<circle cx="911.7" cy="404.2" r="11.1" fill="#f2a265" stroke="#808080" stroke-width="2"/>
<circle cx="912.1" cy="404.3" r="11.1" fill="#f2a265" stroke="#808080" stroke-width="2"/>
<circle cx="912.6" cy="404.4" r="11.1" fill="#f2a265" stroke="#808080" stroke-width="2"/>
<circle cx="913.0" cy="404.5" r="11.1" fill="#f2a265" stroke="#808080" stroke-width="2"/>
<circle cx="913.4" cy="404.6" r="11.1" fill="#f2a265" stroke="#808080" stroke-width="2"/>
<circle cx="913.9" cy="404.7" r="11.1" fill="#f2a265" stroke="#808080" stroke-width="2"/>
<circle cx="914.3" cy="404.8" r="11.1" fill="#f2a265" stroke="#808080" stroke-width="2"/>
<circle cx="914.7" cy="404.9" r="11.1" fill="#f2a265" stroke="#808080" stroke-width="2"/>
<circle cx="915.2" cy="405.0" r="11.1" fill="#f2a265" stroke="#808080" stroke-width="2"/>
<circle cx="915.6" cy="405.1" r="11.1" fill="#f2a265" stroke="#808080" stroke-width="2"/>
<circle cx="916.1" cy="405.2" r="11.1" fill="#f2a265" stroke="#808080" stroke-width="2"/>
<circle cx="916.5" cy="405.3" r="11.1" fill="#f2a265" stroke="#808080" stroke-width="2"/>
<circle cx="916.9" cy="405.5" r="11.1" fill="#f2a265" stroke="#808080" stroke-width="2"/>
<circle cx="917.4" cy="405.6" r="11.1" fill="#f2a265" stroke="#808080" stroke-width="2"/>
<circle cx="917.8" cy="405.7" r="11.1" fill="#f2a265" stroke="#808080" stroke-width="2"/>
<circle cx="918.2" cy="405.8" r="11.1" fill="#f2a265" stroke="#808080" stroke-width="2"/>
<circle cx="918.7" cy="405.9" r="11.1" fill="#f2a265" stroke="#808080" stroke-width="2"/>
<circle cx="919.1" cy="406.0" r="11.1" fill="#f2a265" stroke="#808080" stroke-width="2"/>
<circle cx="919.6" cy="406.1" r="11.1" fill="#f2a265" stroke="#808080" stroke-width="2"/>
<circle cx="920.0" cy="406.2" r="11.1" fill="#f2a265" stroke="#808080" stroke-width="2"/>
<circle cx="920.2" cy="406.1" r="11.1" fill="#f2a265" stroke="#808080" stroke-width="2"/>
<circle cx="920.5" cy="405.9" r="11.1" fill="#f2a265" stroke="#808080" stroke-width="2"/>
<circle cx="920.9" cy="405.6" r="11.1" fill="#f2a265" stroke="#808080" stroke-width="2"/>
<circle cx="921.3" cy="405.4" r="11.1" fill="#f2a265" stroke="#808080" stroke-width="2"/>
<circle cx="921.7" cy="405.2" r="11.1" fill="#f2a265" stroke="#808080" stroke-width="2"/>
<circle cx="922.1" cy="404.9" r="11.1" fill="#f2a265" stroke="#808080" stroke-width="2"/>
<circle cx="922.5" cy="404.7" r="11.1" fill="#f2a265" stroke="#808080" stroke-width="2"/>
<circle cx="922.8" cy="404.5" r="11.1" fill="#f2a265" stroke="#808080" stroke-width="2"/>
<circle cx="923.2" cy="404.2" r="11.1" fill="#f2a265" stroke="#808080" stroke-width="2"/>
<circle cx="923.6" cy="404.0" r="11.1" fill="#f2a265" stroke="#808080" stroke-width="2"/>
<circle cx="924.1" cy="403.7" r="11.1" fill="#f2a265" stroke="#808080" stroke-width="2"/>
<circle cx="924.8" cy="403.3" r="11.1" fill="#f2a265" stroke="#808080" stroke-width="2"/>
<circle cx="925.6" cy="402.8" r="11.1" fill="#f2a265" stroke="#808080" stroke-width="2"/>
<circle cx="926.6" cy="402.2" r="11.1" fill="#f2a265" stroke="#808080" stroke-width="2"/>
<circle cx="927.9" cy="401.4" r="11.1" fill="#f2a265" stroke="#808080" stroke-width="2"/>
<circle cx="929.4" cy="400.5" r="11.1" fill="#f2a265" stroke="#808080" stroke-width="2"/>
<circle cx="931.3" cy="399.2" r="11.1" fill="#f2a265" stroke="#808080" stroke-width="2"/>
<circle cx="933.3" cy="397.2" r="11.1" fill="#f2a265" stroke="#808080" stroke-width="2"/>
<circle cx="935.9" cy="394.6" r="11.1" fill="#f2a265" stroke="#808080" stroke-width="2"/>
<circle cx="939.0" cy="391.5" r="11.1" fill="#f2a265" stroke="#808080" stroke-width="2"/>
<circle cx="943.0" cy="387.5" r="11.1" fill="#f2a265" stroke="#808080" stroke-width="2"/>
<circle cx="946.8" cy="382.4" r="11.1" fill="#f2a265" stroke="#808080" stroke-width="2"/>
<circle cx="951.2" cy="376.4" r="11.1" fill="#f2a265" stroke="#808080" stroke-width="2"/>
<circle cx="956.6" cy="369.2" r="11.1" fill="#f2a265" stroke="#808080" stroke-width="2"/>
<circle cx="962.6" cy="361.2" r="11.1" fill="#f2a265" stroke="#808080" stroke-width="2"/>
<circle cx="969.5" cy="351.8" r="11.1" fill="#f2a265" stroke="#808080" stroke-width="2"/>
<circle cx="978.1" cy="340.2" r="11.1" fill="#f2a265" stroke="#808080" stroke-width="2"/>
<circle cx="987.6" cy="327.4" r="11.1" fill="#f2a265" stroke="#808080" stroke-width="2"/>
<circle cx="998.4" cy="312.8" r="11.1" fill="#f2a265" stroke="#808080" stroke-width="2"/>
<circle cx="1011.5" cy="295.3" r="11.1" fill="#f2a265" stroke="#808080" stroke-width="2"/>
<circle cx="1025.9" cy="275.9" r="11.1" fill="#f2a265" stroke="#808080" stroke-width="2"/>
<circle cx="1043.7" cy="251.9" r="11.1" fill="#f2a265" stroke="#808080" stroke-width="2"/>
</g>
<rect x="722.8" y="75.0" width="438.3" height="333.9" fill="none" stroke="#000" stroke-width="2.0" />
<line x1="722.8" y1="408.9" x2="722.8" y2="414.9" stroke="#000" stroke-width="2.2" />
<line x1="716.8" y1="408.9" x2="722.8" y2="408.9" stroke="#000" stroke-width="2.2" />
<text x="722.8" y="438.1" font-size="23.2" font-weight="bold" fill="#000" text-anchor="middle">0</text>
<text x="712.2" y="416.2" font-size="23.2" font-weight="bold" fill="#000" text-anchor="end">0</text>
<line x1="766.6" y1="408.9" x2="766.6" y2="412.4" stroke="#000" stroke-width="1.6" />
<line x1="719.3" y1="375.5" x2="722.8" y2="375.5" stroke="#000" stroke-width="1.6" />
<line x1="810.5" y1="408.9" x2="810.5" y2="414.9" stroke="#000" stroke-width="2.2" />
<line x1="716.8" y1="342.1" x2="722.8" y2="342.1" stroke="#000" stroke-width="2.2" />
<text x="810.5" y="438.1" font-size="23.2" font-weight="bold" fill="#000" text-anchor="middle">1k</text>
<text x="712.2" y="349.4" font-size="23.2" font-weight="bold" fill="#000" text-anchor="end">1k</text>
<line x1="854.3" y1="408.9" x2="854.3" y2="412.4" stroke="#000" stroke-width="1.6" />
<line x1="719.3" y1="308.7" x2="722.8" y2="308.7" stroke="#000" stroke-width="1.6" />
<line x1="898.1" y1="408.9" x2="898.1" y2="414.9" stroke="#000" stroke-width="2.2" />
<line x1="716.8" y1="275.3" x2="722.8" y2="275.3" stroke="#000" stroke-width="2.2" />
<text x="898.1" y="438.1" font-size="23.2" font-weight="bold" fill="#000" text-anchor="middle">2k</text>
<text x="712.2" y="282.6" font-size="23.2" font-weight="bold" fill="#000" text-anchor="end">2k</text>
<line x1="941.9" y1="408.9" x2="941.9" y2="412.4" stroke="#000" stroke-width="1.6" />
<line x1="719.3" y1="241.9" x2="722.8" y2="241.9" stroke="#000" stroke-width="1.6" />
<line x1="985.8" y1="408.9" x2="985.8" y2="414.9" stroke="#000" stroke-width="2.2" />
<line x1="716.8" y1="208.6" x2="722.8" y2="208.6" stroke="#000" stroke-width="2.2" />
<text x="985.8" y="438.1" font-size="23.2" font-weight="bold" fill="#000" text-anchor="middle">3k</text>
<text x="712.2" y="215.9" font-size="23.2" font-weight="bold" fill="#000" text-anchor="end">3k</text>
<line x1="1029.6" y1="408.9" x2="1029.6" y2="412.4" stroke="#000" stroke-width="1.6" />
<line x1="719.3" y1="175.2" x2="722.8" y2="175.2" stroke="#000" stroke-width="1.6" />
<line x1="1073.4" y1="408.9" x2="1073.4" y2="414.9" stroke="#000" stroke-width="2.2" />
<line x1="716.8" y1="141.8" x2="722.8" y2="141.8" stroke="#000" stroke-width="2.2" />
<text x="1073.4" y="438.1" font-size="23.2" font-weight="bold" fill="#000" text-anchor="middle">4k</text>
<text x="712.2" y="149.1" font-size="23.2" font-weight="bold" fill="#000" text-anchor="end">4k</text>
<line x1="1117.3" y1="408.9" x2="1117.3" y2="412.4" stroke="#000" stroke-width="1.6" />
<line x1="719.3" y1="108.4" x2="722.8" y2="108.4" stroke="#000" stroke-width="1.6" />
<line x1="1161.1" y1="408.9" x2="1161.1" y2="414.9" stroke="#000" stroke-width="2.2" />
<line x1="716.8" y1="75.0" x2="722.8" y2="75.0" stroke="#000" stroke-width="2.2" />
<text x="1161.1" y="438.1" font-size="23.2" font-weight="bold" fill="#000" text-anchor="middle">5k</text>
<text x="712.2" y="82.3" font-size="23.2" font-weight="bold" fill="#000" text-anchor="end">5k</text>
<line x1="740.0" y1="100.1" x2="780.6" y2="100.1" stroke="#04c7ca" stroke-width="4" />
<circle cx="760.3" cy="99.7" r="8.6" fill="#04c7ca" stroke="#808080" stroke-width="1.4"/>
<text x="784.4" y="104.7" font-size="21.47" font-weight="bold" fill="#000" textLength="172.8" lengthAdjust="spacing">Before exposure</text>
<line x1="740.0" y1="128.2" x2="780.6" y2="128.2" stroke="#f2a265" stroke-width="4" />
<circle cx="760.3" cy="127.8" r="8.6" fill="#f2a265" stroke="#808080" stroke-width="1.4"/>
<text x="784.4" y="132.8" font-size="21.23" font-weight="bold" fill="#000" textLength="136.0" lengthAdjust="spacing">35% RH, 24 h</text>
<text x="1080.6" y="109.5" font-size="22.56" font-weight="bold" fill="#000" textLength="57.8" lengthAdjust="spacing">30 °C</text>
<text x="743" y="184" font-size="22" textLength="126.6" font-weight="bold" fill="#04c7ca">L<tspan dy="6" font-size="14">1</tspan><tspan dy="-6"> = 0.12 cm</tspan></text>
<text x="743.5" y="216.3" font-size="22" textLength="113.6" font-weight="bold" fill="#ee8528">L<tspan dy="6" font-size="14">2</tspan><tspan dy="-6"> = 0.1 cm</tspan></text>
<text x="755" y="317.5" font-size="23.5" font-weight="bold" fill="#ee8528" textLength="161.6">7.17×10<tspan dy="-10" font-size="15.5">-5</tspan><tspan dy="10"> S/cm</tspan></text>
<text x="671.5" y="242" font-size="25" font-weight="bold" text-anchor="middle" transform="rotate(-90 671.5 242)">-Z<tspan dy="6" font-size="17">im</tspan><tspan dy="-6"> (Ω)</tspan></text>
<text x="941.6" y="466" font-size="25.8" font-weight="bold" text-anchor="middle">Z<tspan dy="7" font-size="17">real</tspan><tspan dy="-7"> (Ω)</tspan></text>
</g>
<g id="panel_d">
<text x="659.5" y="492.0" font-size="50" font-weight="bold" fill="#000" class="ser">d</text>
<path d="M719.3,631.3 L719.6,632.1 L719.9,630.0 L720.2,632.4 L720.5,630.4 L720.8,631.2 L721.1,632.5 L721.4,630.6 L721.7,632.5 L722.0,630.9 L722.3,632.4 L722.5,632.3 L722.8,630.9 L723.1,629.2 L723.4,632.2 L723.7,631.8 L724.0,630.1 L724.3,628.7 L724.6,630.3 L724.9,631.0 L725.2,628.6 L725.5,632.5 L725.8,629.1 L726.1,631.5 L726.4,632.1 L726.7,632.2 L727.0,631.4 L727.3,629.3 L727.6,632.0 L727.9,630.3 L728.2,630.0 L728.5,631.2 L728.8,630.4 L729.0,632.5 L729.3,632.5 L729.6,631.9 L729.9,629.9 L730.2,630.9 L730.5,631.4 L730.8,630.3 L731.1,630.8 L731.4,631.5 L731.7,629.4 L732.0,629.8 L732.3,631.7 L732.6,630.3 L732.9,630.5 L733.2,629.1 L733.5,629.7 L733.8,631.5 L734.1,628.6 L734.4,632.2 L734.7,631.0 L735.0,629.6 L735.3,632.1 L735.5,630.7 L735.8,632.6 L736.1,629.9 L736.4,629.5 L736.7,630.3 L737.0,629.1 L737.3,631.4 L737.6,629.8 L737.9,630.3 L738.2,630.3 L738.5,630.8 L738.8,629.2 L739.1,628.8 L739.4,630.8 L739.7,630.0 L740.0,632.5 L740.3,629.8 L740.6,630.0 L740.9,628.6 L741.2,629.3 L741.5,631.6 L741.8,631.1 L742.0,630.0 L742.3,632.7 L742.6,630.8 L742.9,632.1 L743.2,632.3 L743.5,632.5 L743.8,629.5 L744.1,632.2 L744.4,631.7 L744.7,631.1 L745.0,629.1 L745.3,632.4 L745.6,630.9 L745.9,630.5 L746.2,629.1 L746.5,629.3 L746.8,629.2 L747.1,631.6 L747.4,631.0 L747.7,631.3 L748.0,629.1 L748.2,628.8 L748.5,632.2 L748.8,632.0 L749.1,631.8 L749.4,631.8 L749.7,630.8 L750.0,630.3 L750.3,631.7 L750.6,632.8 L750.9,631.0 L751.2,631.2 L751.5,630.4 L751.8,628.8 L752.1,629.9 L752.4,630.6 L752.7,630.2 L753.0,630.0 L753.3,632.6 L753.6,629.0 L753.9,629.5 L754.2,629.1 L754.5,629.5 L754.7,631.2 L755.0,631.1 L755.3,632.4 L755.6,630.1 L755.9,632.5 L756.2,632.5 L756.5,631.9 L756.8,632.1 L757.1,631.4 L757.4,632.6 L757.7,632.8 L758.0,632.2 L758.3,632.4 L758.6,631.3 L758.9,632.7 L759.2,629.1 L759.5,630.2 L759.8,632.2 L760.1,631.8 L760.4,631.4 L760.7,631.3 L761.0,632.3 L761.2,629.3 L761.5,628.7 L761.8,630.9 L762.1,630.8 L762.4,632.5 L762.7,632.4 L763.0,631.4 L763.3,631.7 L763.6,629.4 L763.9,632.2 L764.2,632.7 L764.5,628.8 L764.8,630.6 L765.1,632.2 L765.4,630.6 L765.7,632.7 L766.0,630.6 L766.3,628.7 L766.6,629.2 L766.9,629.9 L767.2,631.7 L767.5,631.3 L767.7,632.1 L768.0,629.6 L768.3,630.6 L768.6,629.6 L768.9,631.5 L769.2,631.9 L769.5,629.4 L769.8,628.7 L770.1,629.3 L770.4,629.5 L770.7,629.4 L771.0,629.7 L771.3,631.9 L771.6,630.7 L771.9,631.4 L772.2,632.7 L772.5,632.7 L772.8,631.7 L773.1,631.8 L773.4,630.0 L773.7,628.8 L773.9,631.0 L774.2,628.9 L774.5,628.7 L774.8,628.9 L775.1,631.3 L775.4,631.9 L775.7,631.9 L776.0,632.0 L776.3,632.0 L776.6,630.3 L776.9,629.1 L777.2,629.3 L777.5,630.9 L777.8,630.1 L778.1,629.5 L778.4,632.5 L778.7,630.1 L779.0,629.1 L779.3,629.6 L779.6,629.7 L779.9,630.9 L780.2,632.1 L780.4,629.6 L780.7,631.5 L781.0,629.5 L781.3,628.8 L781.6,631.2 L781.9,631.2 L782.2,628.9 L782.5,629.8 L782.8,632.2 L783.1,632.4 L783.4,632.3 L783.7,629.1 L784.0,629.5 L784.3,632.3 L784.6,629.4 L784.9,628.8 L785.2,630.1 L785.5,631.4 L785.8,630.6 L786.1,632.3 L786.4,632.8 L786.7,628.8 L786.9,630.2 L787.2,630.7 L787.5,629.0 L787.8,631.1 L788.1,629.2 L788.4,629.4 L788.7,632.0 L789.0,631.8 L789.3,631.7 L789.6,631.9 L789.9,630.4 L790.2,631.8 L790.5,631.1 L790.8,632.3 L791.1,629.1 L791.4,631.4 L791.7,631.0 L792.0,630.4 L792.3,629.1 L792.6,631.1 L792.9,629.0 L793.1,630.8 L793.4,630.7 L793.7,630.7 L794.0,632.8 L794.3,631.1 L794.6,632.1 L794.9,632.9 L795.2,629.5 L795.5,632.2 L795.8,630.9 L796.1,629.9 L796.4,630.6 L796.7,631.5 L797.0,630.7 L797.3,630.6 L797.6,629.6 L797.9,632.5 L798.2,630.5 L798.5,631.9 L798.8,631.7 L799.1,629.7 L799.4,630.8 L799.6,630.5 L799.9,629.7 L800.2,629.1 L800.5,631.0 L800.8,630.3 L801.1,630.8 L801.4,630.7 L801.7,630.0 L802.0,631.0 L802.3,630.6 L802.6,630.9 L802.9,628.9 L803.2,629.9 L803.5,629.2 L803.8,628.9 L804.1,631.8 L804.4,630.5 L804.7,628.9 L805.0,629.3 L805.3,632.3 L805.6,632.3 L805.9,631.0 L806.1,632.5 L806.4,631.8 L806.7,632.5 L807.0,630.0 L807.3,629.5 L807.6,629.0 L807.9,632.1 L808.2,629.8 L808.5,630.0 L808.8,632.1 L809.1,629.0 L809.4,628.6 L809.7,631.8 L810.0,628.6 L810.3,630.9 L810.6,630.5 L810.9,628.4 L811.2,629.0 L811.5,631.8 L811.8,630.6 L812.1,630.1 L812.4,630.8 L812.6,631.3 L812.9,630.6 L813.2,628.8 L813.5,631.5 L813.8,629.0 L814.1,629.2 L814.4,630.5 L814.7,628.6 L815.0,626.7 L815.3,626.4 L815.6,627.5 L815.9,623.0 L816.2,623.6 L816.5,623.2 L816.8,627.5 L817.1,627.6 L817.4,629.4 L817.7,626.9 L818.0,629.5 L818.3,630.5 L818.6,629.6 L818.8,627.8 L819.1,628.4 L819.4,630.9 L819.7,631.5 L820.0,628.3 L820.3,629.9 L820.6,629.4 L820.9,632.0 L821.2,632.2 L821.5,629.6 L821.8,630.7 L822.1,632.2 L822.4,628.6 L822.7,629.9 L823.0,629.2 L823.3,632.2 L823.6,628.9 L823.9,632.3 L824.2,628.9 L824.5,630.6 L824.8,631.1 L825.1,630.1 L825.3,628.6 L825.6,631.3 L825.9,631.8 L826.2,630.1 L826.5,631.2 L826.8,631.7 L827.1,631.4 L827.4,631.7 L827.7,630.9 L828.0,630.2 L828.3,629.9 L828.6,627.6 L828.9,629.0 L829.2,627.4 L829.5,627.7 L829.8,625.4 L830.1,624.9 L830.4,621.9 L830.7,621.8 L831.0,619.4 L831.3,622.0 L831.6,625.6 L831.8,626.0 L832.1,625.3 L832.4,629.6 L832.7,627.2 L833.0,629.3 L833.3,629.3 L833.6,628.2 L833.9,630.2 L834.2,629.9 L834.5,629.2 L834.8,628.1 L835.1,630.8 L835.4,628.8 L835.7,629.4 L836.0,629.8 L836.3,630.8 L836.6,631.0 L836.9,632.3 L837.2,632.0 L837.5,632.3 L837.8,629.5 L838.1,631.5 L838.3,631.9 L838.6,632.2 L838.9,629.1 L839.2,628.9 L839.5,629.8 L839.8,631.4 L840.1,631.6 L840.4,631.4 L840.7,630.7 L841.0,631.9 L841.3,630.7 L841.6,631.5 L841.9,628.5 L842.2,628.5 L842.5,630.2 L842.8,631.5 L843.1,628.4 L843.4,631.2 L843.7,631.0 L844.0,632.4 L844.3,630.8 L844.5,630.4 L844.8,630.3 L845.1,631.5 L845.4,630.2 L845.7,632.3 L846.0,631.1 L846.3,631.8 L846.6,630.5 L846.9,632.0 L847.2,632.0 L847.5,630.8 L847.8,631.0 L848.1,629.5 L848.4,629.6 L848.7,628.6 L849.0,628.9 L849.3,628.6 L849.6,627.8 L849.9,629.8 L850.2,629.9 L850.5,627.0 L850.8,630.4 L851.0,627.8 L851.3,628.0 L851.6,630.3 L851.9,626.7 L852.2,626.2 L852.5,627.0 L852.8,626.2 L853.1,625.5 L853.4,627.8 L853.7,625.6 L854.0,625.0 L854.3,622.8 L854.6,622.0 L854.9,620.7 L855.2,620.2 L855.5,617.0 L855.8,615.5 L856.1,612.3 L856.4,610.0 L856.7,605.2 L857.0,596.9 L857.3,584.9 L857.5,570.9 L857.8,548.1 L858.1,527.7 L858.4,512.3 L858.7,513.6 L859.0,530.1 L859.3,552.6 L859.6,573.8 L859.9,584.9 L860.2,595.6 L860.5,604.1 L860.8,609.4 L861.1,613.0 L861.4,618.5 L861.7,618.0 L862.0,622.9 L862.3,625.1 L862.6,625.4 L862.9,624.4 L863.2,627.4 L863.5,625.9 L863.8,625.4 L864.0,627.9 L864.3,628.8 L864.6,628.7 L864.9,628.2 L865.2,628.1 L865.5,629.0 L865.8,629.1 L866.1,631.6 L866.4,631.5 L866.7,631.2 L867.0,629.3 L867.3,631.2 L867.6,630.2 L867.9,632.7 L868.2,632.6 L868.5,631.8 L868.8,630.1 L869.1,630.1 L869.4,630.3 L869.7,631.9 L870.0,631.0 L870.2,631.3 L870.5,631.4 L870.8,632.9 L871.1,629.6 L871.4,632.6 L871.7,629.4 L872.0,629.6 L872.3,633.5 L872.6,631.6 L872.9,630.1 L873.2,629.6 L873.5,631.8 L873.8,632.5 L874.1,632.8 L874.4,629.7 L874.7,632.8 L875.0,631.3 L875.3,633.2 L875.6,631.6 L875.9,629.8 L876.2,633.3 L876.5,630.4 L876.7,631.7 L877.0,630.1 L877.3,630.9 L877.6,632.9 L877.9,630.1 L878.2,631.9 L878.5,633.8 L878.8,633.9 L879.1,631.9 L879.4,632.1 L879.7,632.7 L880.0,633.4 L880.3,632.5 L880.6,632.7 L880.9,630.5 L881.2,634.0 L881.5,630.9 L881.8,630.5 L882.1,633.5 L882.4,630.1 L882.7,631.0 L883.0,630.3 L883.2,632.8 L883.5,632.5 L883.8,632.4 L884.1,629.9 L884.4,631.6 L884.7,632.6 L885.0,632.3 L885.3,632.9 L885.6,633.9 L885.9,633.7 L886.2,630.6 L886.5,632.9 L886.8,630.2 L887.1,633.1 L887.4,633.0 L887.7,632.0 L888.0,633.3 L888.3,632.6 L888.6,630.1 L888.9,630.4 L889.2,630.7 L889.5,631.5 L889.7,630.3 L890.0,630.2 L890.3,631.8 L890.6,631.1 L890.9,633.9 L891.2,631.1 L891.5,632.3 L891.8,631.0 L892.1,631.5 L892.4,633.0 L892.7,634.0 L893.0,630.3 L893.3,633.6 L893.6,632.2 L893.9,632.7 L894.2,632.9 L894.5,631.1 L894.8,630.1 L895.1,633.1 L895.4,631.4 L895.7,632.9 L895.9,631.9 L896.2,632.5 L896.5,633.5 L896.8,633.5 L897.1,633.3 L897.4,630.4 L897.7,632.1 L898.0,633.3 L898.3,630.4 L898.6,630.0 L898.9,632.3 L899.2,633.6 L899.5,633.4 L899.8,633.8 L900.1,632.8 L900.4,633.8 L900.7,633.2 L901.0,633.1 L901.3,631.8 L901.6,630.5 L901.9,631.1 L902.2,632.5 L902.4,632.5 L902.7,632.0 L903.0,632.7 L903.3,632.8 L903.6,634.0 L903.9,633.1 L904.2,630.2 L904.5,633.7 L904.8,632.1 L905.1,631.6 L905.4,630.6 L905.7,633.3 L906.0,633.1 L906.3,633.2 L906.6,632.6 L906.9,632.4 L907.2,630.2 L907.5,630.7 L907.8,630.6 L908.1,634.2 L908.4,634.1 L908.7,631.3 L908.9,630.5 L909.2,632.3 L909.5,631.8 L909.8,634.3 L910.1,632.6 L910.4,630.4 L910.7,630.8 L911.0,630.7 L911.3,630.2 L911.6,633.2 L911.9,633.8 L912.2,633.6 L912.5,632.1 L912.8,631.4 L913.1,630.3 L913.4,631.2 L913.7,631.5 L914.0,631.0 L914.3,632.3 L914.6,631.9 L914.9,634.1 L915.2,631.0 L915.4,633.3 L915.7,630.4 L916.0,631.5 L916.3,633.0 L916.6,633.7 L916.9,633.2 L917.2,631.6 L917.5,631.3 L917.8,633.8 L918.1,634.0 L918.4,632.0 L918.7,631.8 L919.0,632.6 L919.3,633.3 L919.6,631.7 L919.9,634.2 L920.2,633.0 L920.5,632.3 L920.8,630.2 L921.1,631.5 L921.4,630.5 L921.6,632.2 L921.9,633.2 L922.2,633.2 L922.5,630.2 L922.8,631.3 L923.1,632.9 L923.4,634.1 L923.7,632.1 L924.0,631.4 L924.3,632.4 L924.6,633.1 L924.9,631.4 L925.2,630.3 L925.5,633.2 L925.8,634.0 L926.1,632.8 L926.4,632.4 L926.7,631.3 L927.0,633.3 L927.3,630.8 L927.6,631.0 L927.9,632.0 L928.1,633.3 L928.4,630.0 L928.7,632.8 L929.0,630.7 L929.3,633.1 L929.6,633.1 L929.9,630.9 L930.2,632.8 L930.5,630.0 L930.8,631.9 L931.1,633.2 L931.4,633.0 L931.7,632.2 L932.0,631.2 L932.3,629.9 L932.6,633.3 L932.9,632.2 L933.2,633.0 L933.5,629.7 L933.8,633.2 L934.1,633.6 L934.4,633.5 L934.6,632.0 L934.9,629.9 L935.2,629.9 L935.5,630.5 L935.8,629.3 L936.1,629.5 L936.4,632.0 L936.7,632.5 L937.0,629.3 L937.3,630.0 L937.6,632.9 L937.9,630.1 L938.2,631.2 L938.5,631.1 L938.8,631.1 L939.1,631.6 L939.4,632.1 L939.7,630.7 L940.0,630.1 L940.3,627.2 L940.6,630.3 L940.9,626.3 L941.1,628.9 L941.4,627.6 L941.7,624.8 L942.0,623.8 L942.3,624.0 L942.6,623.9 L942.9,619.8 L943.2,617.1 L943.5,610.6 L943.8,607.8 L944.1,598.9 L944.4,585.6 L944.7,575.6 L945.0,561.0 L945.3,553.6 L945.6,559.5 L945.9,575.6 L946.2,589.3 L946.5,600.2 L946.8,604.8 L947.1,613.4 L947.3,615.6 L947.6,618.0 L947.9,622.7 L948.2,624.7 L948.5,623.2 L948.8,625.7 L949.1,628.0 L949.4,626.8 L949.7,629.1 L950.0,629.7 L950.3,631.3 L950.6,628.4 L950.9,628.0 L951.2,629.5 L951.5,628.4 L951.8,632.4 L952.1,631.7 L952.4,630.9 L952.7,629.0 L953.0,629.1 L953.3,631.6 L953.6,632.2 L953.8,631.6 L954.1,631.4 L954.4,629.6 L954.7,632.8 L955.0,630.2 L955.3,630.6 L955.6,630.3 L955.9,630.5 L956.2,631.2 L956.5,632.5 L956.8,632.5 L957.1,632.4 L957.4,630.6 L957.7,633.6 L958.0,633.2 L958.3,630.8 L958.6,633.0 L958.9,633.8 L959.2,633.9 L959.5,631.8 L959.8,632.7 L960.1,630.0 L960.3,630.4 L960.6,630.0 L960.9,633.0 L961.2,633.8 L961.5,633.8 L961.8,632.1 L962.1,631.2 L962.4,632.3 L962.7,633.2 L963.0,632.5 L963.3,631.6 L963.6,631.4 L963.9,631.1 L964.2,630.7 L964.5,631.5 L964.8,633.8 L965.1,630.8 L965.4,633.1 L965.7,631.9 L966.0,632.7 L966.3,631.2 L966.5,633.5 L966.8,633.3 L967.1,633.3 L967.4,633.7 L967.7,630.6 L968.0,631.9 L968.3,633.0 L968.6,632.7 L968.9,630.2 L969.2,632.2 L969.5,633.4 L969.8,630.9 L970.1,631.6 L970.4,630.2 L970.7,633.9 L971.0,632.3 L971.3,630.9 L971.6,630.8 L971.9,630.5 L972.2,634.2 L972.5,633.1 L972.8,633.8 L973.0,633.5 L973.3,630.2 L973.6,631.9 L973.9,630.4 L974.2,632.7 L974.5,630.6 L974.8,632.4 L975.1,633.2 L975.4,631.0 L975.7,630.3 L976.0,633.8 L976.3,631.7 L976.6,631.6 L976.9,633.2 L977.2,632.6 L977.5,633.5 L977.8,633.2 L978.1,632.9 L978.4,631.4 L978.7,631.2 L979.0,633.0 L979.3,633.7 L979.5,632.3 L979.8,630.8 L980.1,632.7 L980.4,632.1 L980.7,632.4 L981.0,629.8 L981.3,630.6 L981.6,632.5 L981.9,632.1 L982.2,630.7 L982.5,629.9 L982.8,629.4 L983.1,631.6 L983.4,631.3 L983.7,629.1 L984.0,630.5 L984.3,631.2 L984.6,631.2 L984.9,628.7 L985.2,631.6 L985.5,630.7 L985.8,631.7 L986.0,631.6 L986.3,629.9 L986.6,629.4 L986.9,632.1 L987.2,632.9 L987.5,630.8 L987.8,633.0 L988.1,633.9 L988.4,630.2 L988.7,632.2 L989.0,630.6 L989.3,632.4 L989.6,630.4 L989.9,632.2 L990.2,633.4 L990.5,634.1 L990.8,631.8 L991.1,631.4 L991.4,630.3 L991.7,633.8 L992.0,631.5 L992.2,632.6 L992.5,632.0 L992.8,633.5 L993.1,632.9 L993.4,631.8 L993.7,630.1 L994.0,633.5 L994.3,631.8 L994.6,630.4 L994.9,629.6 L995.2,632.8 L995.5,632.9 L995.8,629.3 L996.1,629.0 L996.4,630.8 L996.7,632.4 L997.0,628.5 L997.3,630.5 L997.6,628.2 L997.9,629.4 L998.2,628.6 L998.5,631.5 L998.7,629.1 L999.0,631.8 L999.3,631.2 L999.6,629.6 L999.9,629.8 L1000.2,632.7 L1000.5,632.7 L1000.8,632.0 L1001.1,631.6 L1001.4,632.3 L1001.7,633.4 L1002.0,632.9 L1002.3,631.0 L1002.6,630.3 L1002.9,633.9 L1003.2,631.7 L1003.5,630.9 L1003.8,634.0 L1004.1,630.6 L1004.4,633.6 L1004.7,631.6 L1005.0,631.8 L1005.2,631.5 L1005.5,632.8 L1005.8,632.3 L1006.1,631.6 L1006.4,632.2 L1006.7,631.2 L1007.0,632.1 L1007.3,632.1 L1007.6,633.8 L1007.9,631.2 L1008.2,631.7 L1008.5,632.7 L1008.8,630.4 L1009.1,630.3 L1009.4,631.5 L1009.7,632.5 L1010.0,631.2 L1010.3,632.5 L1010.6,632.2 L1010.9,630.7 L1011.2,631.8 L1011.5,630.0 L1011.7,629.2 L1012.0,630.6 L1012.3,627.3 L1012.6,628.7 L1012.9,624.6 L1013.2,622.8 L1013.5,621.7 L1013.8,620.7 L1014.1,615.4 L1014.4,612.4 L1014.7,607.3 L1015.0,610.2 L1015.3,609.1 L1015.6,611.8 L1015.9,616.5 L1016.2,619.3 L1016.5,624.4 L1016.8,623.0 L1017.1,626.5 L1017.4,625.6 L1017.7,626.6 L1017.9,630.5 L1018.2,628.4 L1018.5,628.2 L1018.8,632.2 L1019.1,631.3 L1019.4,629.8 L1019.7,632.5 L1020.0,629.6 L1020.3,632.3 L1020.6,630.2 L1020.9,633.1 L1021.2,631.7 L1021.5,630.0 L1021.8,633.1 L1022.1,632.9 L1022.4,631.9 L1022.7,632.8 L1023.0,634.0 L1023.3,633.4 L1023.6,633.6 L1023.9,630.3 L1024.2,631.5 L1024.4,630.6 L1024.7,633.7 L1025.0,631.1 L1025.3,633.9 L1025.6,632.2 L1025.9,631.8 L1026.2,633.0 L1026.5,630.8 L1026.8,632.2 L1027.1,632.1 L1027.4,630.8 L1027.7,634.1 L1028.0,630.4 L1028.3,631.9 L1028.6,632.9 L1028.9,631.2 L1029.2,633.5 L1029.5,630.4 L1029.8,632.2 L1030.1,633.1 L1030.4,631.4 L1030.7,632.8 L1030.9,633.9 L1031.2,631.5 L1031.5,634.4 L1031.8,631.2 L1032.1,633.6 L1032.4,632.0 L1032.7,630.5 L1033.0,632.2 L1033.3,631.9 L1033.6,633.4 L1033.9,634.7 L1034.2,634.6 L1034.5,634.1 L1034.8,632.1 L1035.1,632.9 L1035.4,632.6 L1035.7,631.0 L1036.0,634.2 L1036.3,633.8 L1036.6,632.0 L1036.9,634.6 L1037.2,634.7 L1037.4,633.2 L1037.7,634.3 L1038.0,633.2 L1038.3,633.8 L1038.6,632.3 L1038.9,632.3 L1039.2,633.9 L1039.5,632.1 L1039.8,632.8 L1040.1,634.2 L1040.4,630.8 L1040.7,633.7 L1041.0,634.1 L1041.3,634.4 L1041.6,632.1 L1041.9,631.1 L1042.2,631.5 L1042.5,633.1 L1042.8,633.7 L1043.1,634.7 L1043.4,632.1 L1043.6,632.4 L1043.9,633.3 L1044.2,632.1 L1044.5,632.9 L1044.8,630.9 L1045.1,631.7 L1045.4,633.8 L1045.7,631.0 L1046.0,634.6 L1046.3,632.6 L1046.6,633.1 L1046.9,633.8 L1047.2,634.6 L1047.5,631.5 L1047.8,634.8 L1048.1,632.5 L1048.4,630.9 L1048.7,634.2 L1049.0,634.0 L1049.3,632.3 L1049.6,632.7 L1049.9,632.1 L1050.1,631.4 L1050.4,634.1 L1050.7,633.5 L1051.0,633.6 L1051.3,634.6 L1051.6,631.1 L1051.9,631.5 L1052.2,631.8 L1052.5,634.8 L1052.8,631.3 L1053.1,631.7 L1053.4,632.9 L1053.7,631.7 L1054.0,632.9 L1054.3,633.9 L1054.6,634.4 L1054.9,633.9 L1055.2,634.7 L1055.5,633.4 L1055.8,631.7 L1056.1,631.9 L1056.4,631.3 L1056.6,631.8 L1056.9,633.7 L1057.2,632.5 L1057.5,633.0 L1057.8,631.5 L1058.1,632.6 L1058.4,633.7 L1058.7,632.1 L1059.0,630.8 L1059.3,633.9 L1059.6,631.1 L1059.9,634.8 L1060.2,633.7 L1060.5,633.8 L1060.8,631.7 L1061.1,630.9 L1061.4,631.7 L1061.7,633.5 L1062.0,631.1 L1062.3,633.4 L1062.6,633.8 L1062.9,631.0 L1063.1,632.2 L1063.4,631.9 L1063.7,632.0 L1064.0,630.7 L1064.3,632.8 L1064.6,631.3 L1064.9,631.9 L1065.2,631.2 L1065.5,632.9 L1065.8,631.7 L1066.1,632.4 L1066.4,633.5 L1066.7,633.9 L1067.0,632.1 L1067.3,634.4 L1067.6,630.9 L1067.9,634.1 L1068.2,634.6 L1068.5,634.2 L1068.8,630.8 L1069.1,633.2 L1069.3,634.0 L1069.6,634.5 L1069.9,634.4 L1070.2,631.6 L1070.5,631.8 L1070.8,631.5 L1071.1,631.3 L1071.4,634.0 L1071.7,631.7 L1072.0,632.6 L1072.3,630.6 L1072.6,630.4 L1072.9,629.9 L1073.2,633.1 L1073.5,629.5 L1073.8,628.9 L1074.1,628.3 L1074.4,631.1 L1074.7,629.8 L1075.0,629.1 L1075.3,628.1 L1075.6,623.4 L1075.8,622.7 L1076.1,623.4 L1076.4,623.5 L1076.7,625.6 L1077.0,628.4 L1077.3,630.3 L1077.6,631.1 L1077.9,629.1 L1078.2,631.9 L1078.5,631.8 L1078.8,631.7 L1079.1,633.6 L1079.4,632.8 L1079.7,632.8 L1080.0,631.1 L1080.3,632.7 L1080.6,633.0 L1080.9,630.4 L1081.2,632.3 L1081.5,630.9 L1081.8,632.0 L1082.1,634.5 L1082.3,632.9 L1082.6,632.8 L1082.9,631.4 L1083.2,633.3 L1083.5,631.8 L1083.8,632.5 L1084.1,633.9 L1084.4,631.2 L1084.7,634.4 L1085.0,631.4 L1085.3,634.1 L1085.6,634.8 L1085.9,634.0 L1086.2,631.7 L1086.5,630.8 L1086.8,634.9 L1087.1,632.8 L1087.4,632.8 L1087.7,631.5 L1088.0,634.1 L1088.3,632.8 L1088.6,633.4 L1088.8,631.4 L1089.1,633.8 L1089.4,631.0 L1089.7,633.7 L1090.0,634.0 L1090.3,632.0 L1090.6,632.8 L1090.9,634.5 L1091.2,632.3 L1091.5,634.6 L1091.8,631.6 L1092.1,632.0 L1092.4,631.6 L1092.7,632.3 L1093.0,633.5 L1093.3,633.3 L1093.6,633.3 L1093.9,631.2 L1094.2,634.6 L1094.5,631.2 L1094.8,634.9 L1095.0,634.1 L1095.3,633.9 L1095.6,631.2 L1095.9,632.9 L1096.2,633.4 L1096.5,631.3 L1096.8,634.0 L1097.1,633.1 L1097.4,632.8 L1097.7,631.8 L1098.0,631.8 L1098.3,632.3 L1098.6,633.5 L1098.9,633.6 L1099.2,634.3 L1099.5,631.5 L1099.8,632.2 L1100.1,631.9 L1100.4,634.3 L1100.7,633.2 L1101.0,631.8 L1101.3,632.6 L1101.5,634.5 L1101.8,633.1 L1102.1,631.3 L1102.4,634.0 L1102.7,634.2 L1103.0,633.7 L1103.3,632.1 L1103.6,631.5 L1103.9,634.4 L1104.2,634.4 L1104.5,634.0 L1104.8,633.6 L1105.1,632.8 L1105.4,634.3 L1105.7,633.6 L1106.0,634.2 L1106.3,630.9 L1106.6,632.0 L1106.9,634.6 L1107.2,631.0 L1107.5,634.6 L1107.8,633.4 L1108.0,630.9 L1108.3,631.7 L1108.6,631.9 L1108.9,633.2 L1109.2,634.2 L1109.5,632.3 L1109.8,634.6 L1110.1,634.1 L1110.4,633.4 L1110.7,634.9 L1111.0,633.3 L1111.3,631.7 L1111.6,632.1 L1111.9,632.9 L1112.2,632.4 L1112.5,633.1 L1112.8,634.4 L1113.1,632.5 L1113.4,633.3 L1113.7,631.9 L1114.0,631.2 L1114.2,633.2 L1114.5,632.6 L1114.8,631.9 L1115.1,633.2 L1115.4,634.0 L1115.7,632.0 L1116.0,631.3 L1116.3,631.7 L1116.6,632.0 L1116.9,631.4 L1117.2,632.1 L1117.5,632.3 L1117.8,633.1 L1118.1,633.6 L1118.4,632.3 L1118.7,634.5 L1119.0,633.2 L1119.3,631.7 L1119.6,631.9 L1119.9,632.3 L1120.2,633.9 L1120.5,633.1 L1120.7,633.0 L1121.0,632.3 L1121.3,633.2 L1121.6,632.0 L1121.9,631.0 L1122.2,634.1 L1122.5,632.1 L1122.8,631.6 L1123.1,633.2 L1123.4,632.7 L1123.7,630.7 L1124.0,634.6 L1124.3,632.5 L1124.6,634.0 L1124.9,631.4 L1125.2,630.7 L1125.5,632.4 L1125.8,634.2 L1126.1,632.1 L1126.4,632.2 L1126.7,631.4 L1127.0,632.2 L1127.2,631.7 L1127.5,630.8 L1127.8,632.0 L1128.1,632.4 L1128.4,630.0 L1128.7,633.0 L1129.0,630.9 L1129.3,631.9 L1129.6,630.2 L1129.9,632.6 L1130.2,628.7 L1130.5,631.1 L1130.8,631.9 L1131.1,630.5 L1131.4,629.3 L1131.7,630.2 L1132.0,627.5 L1132.3,626.2 L1132.6,623.4 L1132.9,622.8 L1133.2,620.6 L1133.5,617.9 L1133.7,612.9 L1134.0,610.1 L1134.3,611.6 L1134.6,614.4 L1134.9,614.6 L1135.2,619.3 L1135.5,622.7 L1135.8,625.3 L1136.1,624.3 L1136.4,625.5 L1136.7,627.3 L1137.0,628.9 L1137.3,629.1 L1137.6,631.1 L1137.9,628.4 L1138.2,631.3 L1138.5,630.4 L1138.8,629.9 L1139.1,630.1 L1139.4,631.8 L1139.7,632.6 L1139.9,631.7 L1140.2,633.6 L1140.5,630.7 L1140.8,632.8 L1141.1,630.8 L1141.4,633.3 L1141.7,632.9 L1142.0,633.5 L1142.3,632.8 L1142.6,633.9 L1142.9,634.7 L1143.2,631.7 L1143.5,633.6 L1143.8,633.7 L1144.1,633.5 L1144.4,632.8 L1144.7,633.1 L1145.0,632.2 L1145.3,632.1 L1145.6,633.4 L1145.9,631.0 L1146.2,631.4 L1146.4,634.7 L1146.7,631.5 L1147.0,631.2 L1147.3,631.7 L1147.6,634.4 L1147.9,631.5 L1148.2,632.4 L1148.5,635.0 L1148.8,635.0 L1149.1,631.1 L1149.4,632.3 L1149.7,634.0 L1150.0,634.7 L1150.3,634.5 L1150.6,634.1 L1150.9,631.8 L1151.2,633.7 L1151.5,634.5 L1151.8,631.3 L1152.1,631.8 L1152.4,634.4 L1152.7,631.4 L1152.9,632.6 L1153.2,631.9 L1153.5,632.3 L1153.8,631.4 L1154.1,631.8 L1154.4,631.6 L1154.7,634.3 L1155.0,632.3 L1155.3,632.9 L1155.6,632.1 L1155.9,633.3 L1156.2,631.5 L1156.5,632.9 L1156.8,634.1 L1157.1,634.2 L1157.4,634.6 L1157.7,633.1 L1158.0,635.0 L1158.3,633.2 L1158.6,634.6 L1158.9,633.1 L1159.2,633.1 L1159.4,632.9 L1159.7,631.6 L1160.0,635.2 L1160.3,631.7 L1160.6,633.3 L1160.9,632.9 L1161.2,632.4 L1161.5,631.7 L1161.8,633.7 L1162.1,633.5 L1162.4,631.2" fill="none" stroke="#f2a265" stroke-width="2.6" stroke-linejoin="round"/>
<path d="M719.3,787.6 L719.6,785.2 L719.9,785.2 L720.2,787.8 L720.5,785.3 L720.8,785.0 L721.1,784.0 L721.4,786.5 L721.7,783.8 L722.0,785.8 L722.3,785.9 L722.5,784.1 L722.8,787.8 L723.1,784.9 L723.4,785.3 L723.7,786.5 L724.0,784.3 L724.3,786.4 L724.6,785.9 L724.9,785.7 L725.2,784.7 L725.5,787.0 L725.8,786.1 L726.1,786.1 L726.4,785.6 L726.7,784.4 L727.0,786.7 L727.3,784.4 L727.6,786.2 L727.9,785.8 L728.2,786.8 L728.5,785.8 L728.8,783.8 L729.0,785.2 L729.3,784.6 L729.6,786.5 L729.9,786.6 L730.2,786.7 L730.5,785.5 L730.8,785.3 L731.1,784.6 L731.4,787.8 L731.7,784.9 L732.0,784.2 L732.3,785.6 L732.6,787.7 L732.9,786.7 L733.2,787.9 L733.5,787.1 L733.8,784.1 L734.1,785.4 L734.4,785.2 L734.7,784.6 L735.0,784.1 L735.3,785.4 L735.5,785.4 L735.8,785.3 L736.1,785.0 L736.4,785.4 L736.7,785.1 L737.0,787.1 L737.3,785.1 L737.6,786.0 L737.9,784.7 L738.2,787.5 L738.5,787.2 L738.8,787.8 L739.1,784.7 L739.4,784.1 L739.7,785.2 L740.0,786.4 L740.3,784.5 L740.6,784.7 L740.9,785.6 L741.2,786.9 L741.5,786.7 L741.8,786.2 L742.0,786.6 L742.3,786.2 L742.6,785.3 L742.9,784.0 L743.2,787.7 L743.5,785.6 L743.8,787.8 L744.1,787.5 L744.4,784.6 L744.7,785.6 L745.0,784.1 L745.3,786.1 L745.6,787.9 L745.9,786.4 L746.2,785.5 L746.5,784.0 L746.8,783.9 L747.1,786.0 L747.4,786.2 L747.7,787.6 L748.0,785.3 L748.2,787.1 L748.5,787.3 L748.8,787.9 L749.1,788.0 L749.4,785.1 L749.7,787.5 L750.0,783.9 L750.3,787.6 L750.6,784.3 L750.9,787.5 L751.2,787.9 L751.5,785.0 L751.8,787.0 L752.1,784.9 L752.4,787.2 L752.7,787.8 L753.0,784.7 L753.3,785.0 L753.6,784.4 L753.9,784.9 L754.2,787.6 L754.5,785.4 L754.7,785.0 L755.0,786.1 L755.3,784.1 L755.6,786.9 L755.9,784.0 L756.2,785.0 L756.5,788.0 L756.8,787.9 L757.1,785.3 L757.4,784.6 L757.7,787.7 L758.0,786.7 L758.3,785.0 L758.6,787.3 L758.9,784.4 L759.2,786.0 L759.5,787.8 L759.8,786.5 L760.1,785.6 L760.4,786.2 L760.7,785.2 L761.0,787.4 L761.2,784.7 L761.5,786.5 L761.8,785.3 L762.1,785.4 L762.4,786.3 L762.7,786.4 L763.0,784.7 L763.3,784.1 L763.6,784.7 L763.9,785.7 L764.2,786.8 L764.5,787.8 L764.8,783.9 L765.1,785.1 L765.4,784.6 L765.7,786.6 L766.0,785.5 L766.3,783.9 L766.6,784.5 L766.9,785.5 L767.2,786.7 L767.5,786.2 L767.7,784.3 L768.0,786.5 L768.3,785.2 L768.6,785.5 L768.9,784.3 L769.2,784.7 L769.5,786.9 L769.8,788.0 L770.1,786.9 L770.4,786.3 L770.7,785.6 L771.0,784.6 L771.3,784.3 L771.6,787.9 L771.9,784.6 L772.2,784.6 L772.5,784.4 L772.8,785.7 L773.1,786.9 L773.4,784.5 L773.7,784.7 L773.9,785.2 L774.2,784.2 L774.5,786.6 L774.8,787.7 L775.1,785.7 L775.4,784.7 L775.7,787.2 L776.0,784.9 L776.3,784.2 L776.6,787.1 L776.9,785.5 L777.2,785.2 L777.5,786.1 L777.8,787.2 L778.1,787.0 L778.4,784.9 L778.7,784.7 L779.0,786.1 L779.3,787.7 L779.6,784.7 L779.9,784.8 L780.2,787.1 L780.4,785.6 L780.7,784.3 L781.0,784.4 L781.3,785.9 L781.6,786.1 L781.9,785.6 L782.2,787.3 L782.5,787.3 L782.8,787.3 L783.1,785.1 L783.4,786.6 L783.7,785.7 L784.0,786.4 L784.3,785.9 L784.6,787.5 L784.9,787.9 L785.2,783.9 L785.5,786.5 L785.8,787.6 L786.1,785.4 L786.4,784.8 L786.7,787.4 L786.9,785.6 L787.2,786.6 L787.5,785.9 L787.8,788.0 L788.1,787.9 L788.4,783.9 L788.7,784.5 L789.0,786.0 L789.3,785.7 L789.6,787.0 L789.9,784.8 L790.2,786.3 L790.5,784.1 L790.8,784.9 L791.1,784.7 L791.4,784.0 L791.7,787.0 L792.0,787.9 L792.3,787.2 L792.6,787.3 L792.9,787.7 L793.1,787.9 L793.4,785.8 L793.7,784.4 L794.0,786.2 L794.3,784.1 L794.6,784.3 L794.9,787.8 L795.2,785.6 L795.5,786.4 L795.8,787.6 L796.1,784.1 L796.4,787.0 L796.7,785.7 L797.0,785.4 L797.3,784.1 L797.6,785.3 L797.9,786.4 L798.2,786.2 L798.5,787.4 L798.8,784.0 L799.1,783.9 L799.4,787.1 L799.6,787.9 L799.9,787.0 L800.2,786.6 L800.5,784.3 L800.8,784.3 L801.1,784.6 L801.4,787.9 L801.7,784.8 L802.0,785.1 L802.3,785.3 L802.6,783.9 L802.9,787.8 L803.2,787.4 L803.5,784.9 L803.8,784.1 L804.1,785.2 L804.4,786.8 L804.7,785.5 L805.0,784.8 L805.3,787.6 L805.6,786.6 L805.9,786.9 L806.1,787.5 L806.4,786.0 L806.7,787.3 L807.0,787.0 L807.3,787.3 L807.6,785.1 L807.9,787.9 L808.2,784.9 L808.5,787.1 L808.8,787.7 L809.1,783.9 L809.4,786.9 L809.7,783.8 L810.0,784.1 L810.3,784.0 L810.6,787.0 L810.9,785.7 L811.2,787.1 L811.5,783.5 L811.8,783.8 L812.1,784.5 L812.4,785.1 L812.6,785.4 L812.9,783.1 L813.2,784.2 L813.5,783.2 L813.8,784.7 L814.1,783.7 L814.4,783.6 L814.7,779.9 L815.0,779.8 L815.3,781.1 L815.6,778.2 L815.9,781.3 L816.2,781.6 L816.5,783.5 L816.8,783.8 L817.1,782.0 L817.4,784.6 L817.7,785.6 L818.0,784.6 L818.3,785.5 L818.6,783.2 L818.8,786.7 L819.1,783.2 L819.4,787.1 L819.7,783.7 L820.0,784.7 L820.3,786.7 L820.6,785.6 L820.9,786.4 L821.2,786.6 L821.5,786.8 L821.8,786.2 L822.1,783.5 L822.4,783.5 L822.7,783.8 L823.0,787.3 L823.3,786.5 L823.6,783.9 L823.9,787.4 L824.2,784.6 L824.5,786.4 L824.8,783.5 L825.1,787.5 L825.3,784.1 L825.6,786.0 L825.9,786.7 L826.2,787.2 L826.5,783.6 L826.8,784.7 L827.1,785.9 L827.4,784.6 L827.7,782.2 L828.0,784.6 L828.3,782.4 L828.6,783.3 L828.9,781.7 L829.2,777.3 L829.5,775.4 L829.8,775.8 L830.1,776.2 L830.4,777.7 L830.7,777.7 L831.0,780.1 L831.3,782.5 L831.6,783.8 L831.8,782.9 L832.1,783.0 L832.4,783.0 L832.7,784.2 L833.0,786.0 L833.3,786.8 L833.6,784.1 L833.9,785.6 L834.2,784.4 L834.5,787.2 L834.8,784.1 L835.1,786.2 L835.4,784.1 L835.7,784.0 L836.0,785.6 L836.3,787.6 L836.6,783.9 L836.9,785.7 L837.2,784.1 L837.5,786.6 L837.8,787.0 L838.1,784.3 L838.3,786.2 L838.6,787.1 L838.9,786.2 L839.2,785.3 L839.5,787.7 L839.8,785.6 L840.1,785.9 L840.4,785.6 L840.7,787.2 L841.0,784.7 L841.3,784.3 L841.6,784.1 L841.9,786.3 L842.2,784.7 L842.5,786.0 L842.8,784.5 L843.1,787.4 L843.4,783.9 L843.7,783.6 L844.0,785.5 L844.3,785.4 L844.5,785.3 L844.8,785.2 L845.1,787.3 L845.4,783.3 L845.7,786.4 L846.0,786.5 L846.3,786.8 L846.6,786.1 L846.9,783.7 L847.2,786.9 L847.5,786.6 L847.8,784.0 L848.1,786.0 L848.4,786.7 L848.7,784.1 L849.0,784.1 L849.3,784.2 L849.6,783.3 L849.9,785.7 L850.2,782.3 L850.5,782.8 L850.8,785.4 L851.0,784.8 L851.3,783.0 L851.6,782.7 L851.9,783.2 L852.2,783.5 L852.5,781.8 L852.8,782.4 L853.1,779.8 L853.4,777.9 L853.7,779.9 L854.0,777.0 L854.3,774.8 L854.6,775.4 L854.9,770.3 L855.2,766.8 L855.5,765.2 L855.8,759.7 L856.1,750.7 L856.4,741.9 L856.7,728.3 L857.0,707.1 L857.3,684.9 L857.5,666.2 L857.8,659.8 L858.1,671.2 L858.4,693.1 L858.7,712.9 L859.0,731.1 L859.3,743.5 L859.6,753.1 L859.9,759.7 L860.2,767.9 L860.5,769.6 L860.8,770.5 L861.1,772.8 L861.4,777.3 L861.7,778.0 L862.0,779.2 L862.3,781.2 L862.6,781.3 L862.9,783.9 L863.2,782.9 L863.5,783.1 L863.8,785.5 L864.0,785.3 L864.3,782.1 L864.6,783.2 L864.9,782.8 L865.2,784.3 L865.5,783.7 L865.8,783.5 L866.1,783.7 L866.4,787.4 L866.7,785.0 L867.0,786.7 L867.3,785.0 L867.6,786.8 L867.9,785.8 L868.2,784.2 L868.5,785.6 L868.8,787.2 L869.1,786.1 L869.4,786.6 L869.7,784.4 L870.0,787.3 L870.2,787.2 L870.5,785.8 L870.8,788.1 L871.1,786.1 L871.4,784.7 L871.7,786.5 L872.0,787.6 L872.3,786.8 L872.6,786.5 L872.9,788.2 L873.2,788.3 L873.5,788.3 L873.8,787.6 L874.1,787.2 L874.4,787.7 L874.7,787.9 L875.0,788.6 L875.3,786.7 L875.6,785.5 L875.9,786.4 L876.2,786.6 L876.5,786.3 L876.7,788.2 L877.0,786.1 L877.3,787.1 L877.6,786.8 L877.9,786.5 L878.2,787.1 L878.5,787.8 L878.8,788.1 L879.1,788.2 L879.4,787.0 L879.7,787.5 L880.0,786.7 L880.3,789.1 L880.6,787.7 L880.9,785.6 L881.2,788.2 L881.5,786.9 L881.8,787.1 L882.1,788.0 L882.4,785.1 L882.7,788.0 L883.0,786.0 L883.2,788.6 L883.5,789.0 L883.8,785.6 L884.1,787.4 L884.4,789.0 L884.7,787.6 L885.0,787.4 L885.3,786.2 L885.6,788.8 L885.9,788.3 L886.2,785.3 L886.5,786.2 L886.8,788.7 L887.1,787.9 L887.4,787.8 L887.7,786.5 L888.0,786.7 L888.3,785.7 L888.6,785.9 L888.9,787.2 L889.2,786.2 L889.5,786.2 L889.7,786.1 L890.0,787.3 L890.3,786.0 L890.6,786.4 L890.9,785.5 L891.2,788.8 L891.5,785.7 L891.8,789.3 L892.1,786.1 L892.4,786.9 L892.7,787.3 L893.0,785.3 L893.3,787.0 L893.6,787.6 L893.9,786.1 L894.2,785.7 L894.5,786.8 L894.8,787.8 L895.1,787.5 L895.4,787.5 L895.7,786.4 L895.9,788.2 L896.2,787.8 L896.5,787.1 L896.8,787.8 L897.1,788.0 L897.4,786.1 L897.7,785.8 L898.0,787.3 L898.3,787.5 L898.6,788.6 L898.9,788.1 L899.2,788.8 L899.5,787.0 L899.8,787.0 L900.1,789.0 L900.4,785.6 L900.7,788.1 L901.0,785.9 L901.3,785.9 L901.6,785.4 L901.9,788.6 L902.2,787.6 L902.4,785.6 L902.7,789.4 L903.0,789.2 L903.3,787.1 L903.6,787.3 L903.9,785.6 L904.2,786.2 L904.5,787.2 L904.8,785.2 L905.1,787.3 L905.4,787.3 L905.7,786.6 L906.0,787.8 L906.3,787.9 L906.6,786.9 L906.9,788.0 L907.2,785.5 L907.5,786.6 L907.8,787.2 L908.1,789.0 L908.4,787.9 L908.7,787.8 L908.9,787.1 L909.2,787.0 L909.5,785.8 L909.8,785.4 L910.1,787.4 L910.4,787.6 L910.7,786.8 L911.0,785.3 L911.3,788.0 L911.6,787.2 L911.9,786.0 L912.2,788.7 L912.5,788.1 L912.8,785.3 L913.1,786.0 L913.4,787.3 L913.7,789.0 L914.0,785.7 L914.3,786.6 L914.6,786.0 L914.9,785.3 L915.2,785.7 L915.4,787.7 L915.7,788.8 L916.0,788.2 L916.3,787.3 L916.6,787.3 L916.9,788.7 L917.2,788.7 L917.5,786.8 L917.8,786.9 L918.1,788.0 L918.4,785.3 L918.7,786.8 L919.0,789.3 L919.3,787.7 L919.6,786.1 L919.9,788.1 L920.2,786.5 L920.5,789.4 L920.8,788.1 L921.1,785.9 L921.4,787.0 L921.6,786.6 L921.9,788.6 L922.2,787.3 L922.5,787.1 L922.8,788.3 L923.1,786.7 L923.4,787.2 L923.7,785.2 L924.0,787.0 L924.3,787.6 L924.6,788.9 L924.9,788.7 L925.2,786.2 L925.5,788.9 L925.8,788.9 L926.1,788.6 L926.4,787.1 L926.7,785.9 L927.0,786.7 L927.3,785.9 L927.6,789.0 L927.9,789.2 L928.1,786.0 L928.4,787.9 L928.7,786.2 L929.0,787.8 L929.3,788.5 L929.6,788.1 L929.9,788.8 L930.2,785.4 L930.5,786.7 L930.8,787.7 L931.1,787.2 L931.4,787.5 L931.7,788.8 L932.0,785.3 L932.3,786.6 L932.6,785.0 L932.9,787.1 L933.2,786.3 L933.5,787.9 L933.8,788.7 L934.1,784.9 L934.4,785.2 L934.6,787.4 L934.9,784.9 L935.2,785.2 L935.5,787.3 L935.8,785.9 L936.1,784.3 L936.4,786.2 L936.7,784.2 L937.0,787.1 L937.3,786.3 L937.6,784.8 L937.9,786.7 L938.2,786.2 L938.5,783.6 L938.8,785.0 L939.1,783.4 L939.4,785.4 L939.7,785.3 L940.0,784.0 L940.3,784.2 L940.6,780.2 L940.9,782.3 L941.1,780.1 L941.4,780.7 L941.7,777.2 L942.0,775.7 L942.3,772.7 L942.6,770.2 L942.9,764.6 L943.2,754.1 L943.5,745.7 L943.8,732.6 L944.1,717.9 L944.4,707.1 L944.7,708.2 L945.0,720.6 L945.3,732.9 L945.6,747.4 L945.9,758.1 L946.2,763.0 L946.5,770.8 L946.8,773.8 L947.1,774.2 L947.3,779.2 L947.6,779.5 L947.9,779.1 L948.2,780.2 L948.5,783.8 L948.8,783.6 L949.1,782.6 L949.4,784.5 L949.7,782.4 L950.0,785.9 L950.3,783.1 L950.6,785.2 L950.9,786.6 L951.2,785.8 L951.5,787.3 L951.8,785.0 L952.1,787.0 L952.4,784.5 L952.7,785.9 L953.0,786.9 L953.3,787.5 L953.6,786.0 L953.8,787.8 L954.1,785.1 L954.4,788.3 L954.7,786.7 L955.0,786.6 L955.3,787.8 L955.6,785.7 L955.9,787.4 L956.2,786.3 L956.5,786.7 L956.8,787.8 L957.1,787.5 L957.4,788.8 L957.7,788.4 L958.0,785.6 L958.3,787.9 L958.6,786.5 L958.9,788.8 L959.2,786.9 L959.5,787.8 L959.8,787.2 L960.1,788.1 L960.3,789.1 L960.6,788.0 L960.9,788.4 L961.2,788.8 L961.5,786.4 L961.8,788.2 L962.1,787.7 L962.4,785.6 L962.7,786.2 L963.0,785.7 L963.3,785.8 L963.6,788.9 L963.9,788.3 L964.2,789.3 L964.5,786.6 L964.8,786.7 L965.1,788.0 L965.4,787.7 L965.7,786.7 L966.0,786.6 L966.3,788.5 L966.5,785.9 L966.8,788.0 L967.1,786.9 L967.4,788.7 L967.7,789.0 L968.0,785.7 L968.3,786.4 L968.6,786.5 L968.9,789.3 L969.2,789.3 L969.5,788.8 L969.8,788.7 L970.1,788.2 L970.4,787.9 L970.7,789.3 L971.0,788.2 L971.3,786.8 L971.6,788.7 L971.9,786.0 L972.2,787.1 L972.5,786.5 L972.8,788.4 L973.0,787.6 L973.3,786.6 L973.6,788.0 L973.9,789.4 L974.2,785.9 L974.5,786.2 L974.8,788.2 L975.1,789.2 L975.4,785.8 L975.7,786.8 L976.0,789.1 L976.3,788.3 L976.6,788.8 L976.9,785.9 L977.2,788.3 L977.5,785.3 L977.8,785.9 L978.1,788.7 L978.4,786.0 L978.7,787.2 L979.0,785.6 L979.3,785.2 L979.5,787.4 L979.8,788.0 L980.1,784.3 L980.4,786.3 L980.7,784.0 L981.0,784.8 L981.3,784.4 L981.6,783.8 L981.9,784.5 L982.2,785.2 L982.5,786.8 L982.8,784.1 L983.1,785.4 L983.4,785.2 L983.7,783.6 L984.0,787.2 L984.3,784.7 L984.6,787.9 L984.9,785.3 L985.2,785.0 L985.5,787.5 L985.8,786.4 L986.0,784.7 L986.3,786.2 L986.6,786.7 L986.9,788.0 L987.2,788.8 L987.5,787.6 L987.8,787.4 L988.1,788.3 L988.4,787.9 L988.7,788.7 L989.0,786.3 L989.3,786.5 L989.6,788.3 L989.9,788.3 L990.2,787.1 L990.5,787.4 L990.8,785.4 L991.1,787.8 L991.4,788.0 L991.7,785.6 L992.0,788.7 L992.2,786.9 L992.5,787.8 L992.8,785.7 L993.1,786.8 L993.4,785.8 L993.7,788.3 L994.0,786.1 L994.3,786.2 L994.6,786.7 L994.9,785.2 L995.2,784.8 L995.5,787.6 L995.8,786.6 L996.1,786.0 L996.4,786.4 L996.7,786.8 L997.0,785.8 L997.3,786.2 L997.6,784.2 L997.9,785.5 L998.2,787.2 L998.5,786.5 L998.7,786.2 L999.0,786.8 L999.3,787.8 L999.6,788.4 L999.9,788.8 L1000.2,784.7 L1000.5,785.8 L1000.8,788.7 L1001.1,786.1 L1001.4,785.0 L1001.7,786.8 L1002.0,788.8 L1002.3,787.2 L1002.6,787.4 L1002.9,788.5 L1003.2,787.0 L1003.5,789.2 L1003.8,785.4 L1004.1,786.6 L1004.4,786.6 L1004.7,785.3 L1005.0,786.5 L1005.2,788.2 L1005.5,788.2 L1005.8,788.6 L1006.1,789.0 L1006.4,785.8 L1006.7,785.5 L1007.0,787.8 L1007.3,788.2 L1007.6,786.2 L1007.9,785.2 L1008.2,784.8 L1008.5,787.9 L1008.8,785.2 L1009.1,784.8 L1009.4,785.0 L1009.7,786.6 L1010.0,786.9 L1010.3,783.9 L1010.6,785.7 L1010.9,785.0 L1011.2,783.7 L1011.5,783.7 L1011.7,780.8 L1012.0,782.1 L1012.3,781.3 L1012.6,777.0 L1012.9,774.0 L1013.2,769.8 L1013.5,766.5 L1013.8,762.2 L1014.1,760.4 L1014.4,763.2 L1014.7,766.3 L1015.0,771.5 L1015.3,774.5 L1015.6,776.3 L1015.9,780.6 L1016.2,779.8 L1016.5,783.4 L1016.8,783.2 L1017.1,781.8 L1017.4,786.1 L1017.7,786.8 L1017.9,785.5 L1018.2,786.9 L1018.5,784.9 L1018.8,788.2 L1019.1,784.8 L1019.4,784.9 L1019.7,785.4 L1020.0,787.0 L1020.3,787.7 L1020.6,786.2 L1020.9,786.9 L1021.2,787.4 L1021.5,787.8 L1021.8,787.4 L1022.1,786.5 L1022.4,785.9 L1022.7,785.6 L1023.0,788.7 L1023.3,788.2 L1023.6,787.6 L1023.9,787.2 L1024.2,788.1 L1024.4,788.7 L1024.7,789.2 L1025.0,788.3 L1025.3,787.7 L1025.6,785.6 L1025.9,785.8 L1026.2,786.0 L1026.5,785.6 L1026.8,785.7 L1027.1,787.1 L1027.4,786.3 L1027.7,789.5 L1028.0,786.9 L1028.3,787.2 L1028.6,788.5 L1028.9,787.4 L1029.2,785.8 L1029.5,787.8 L1029.8,787.1 L1030.1,788.6 L1030.4,788.4 L1030.7,786.1 L1030.9,789.7 L1031.2,789.0 L1031.5,787.0 L1031.8,788.0 L1032.1,789.5 L1032.4,787.1 L1032.7,788.3 L1033.0,787.4 L1033.3,788.1 L1033.6,787.7 L1033.9,787.5 L1034.2,788.2 L1034.5,789.4 L1034.8,789.1 L1035.1,786.2 L1035.4,787.6 L1035.7,789.4 L1036.0,786.3 L1036.3,788.9 L1036.6,789.5 L1036.9,787.7 L1037.2,788.9 L1037.4,787.9 L1037.7,787.6 L1038.0,789.0 L1038.3,787.5 L1038.6,789.5 L1038.9,787.8 L1039.2,787.5 L1039.5,789.6 L1039.8,788.2 L1040.1,789.6 L1040.4,788.1 L1040.7,786.3 L1041.0,787.6 L1041.3,787.0 L1041.6,786.8 L1041.9,789.5 L1042.2,785.8 L1042.5,786.9 L1042.8,789.5 L1043.1,786.5 L1043.4,788.3 L1043.6,789.3 L1043.9,786.0 L1044.2,787.6 L1044.5,786.7 L1044.8,789.4 L1045.1,786.7 L1045.4,789.7 L1045.7,789.0 L1046.0,788.4 L1046.3,789.9 L1046.6,787.5 L1046.9,789.1 L1047.2,788.7 L1047.5,787.0 L1047.8,788.2 L1048.1,786.3 L1048.4,787.4 L1048.7,786.3 L1049.0,787.6 L1049.3,786.2 L1049.6,786.4 L1049.9,789.3 L1050.1,786.9 L1050.4,788.6 L1050.7,786.8 L1051.0,787.2 L1051.3,786.5 L1051.6,789.5 L1051.9,788.5 L1052.2,786.9 L1052.5,786.0 L1052.8,787.0 L1053.1,789.8 L1053.4,787.5 L1053.7,789.6 L1054.0,787.7 L1054.3,786.7 L1054.6,789.6 L1054.9,786.1 L1055.2,787.2 L1055.5,789.0 L1055.8,789.2 L1056.1,788.2 L1056.4,786.5 L1056.6,787.6 L1056.9,789.5 L1057.2,789.9 L1057.5,789.6 L1057.8,786.7 L1058.1,789.2 L1058.4,787.7 L1058.7,788.8 L1059.0,787.1 L1059.3,788.4 L1059.6,789.4 L1059.9,786.3 L1060.2,787.8 L1060.5,787.1 L1060.8,786.6 L1061.1,786.0 L1061.4,790.0 L1061.7,788.6 L1062.0,789.4 L1062.3,787.9 L1062.6,786.3 L1062.9,786.6 L1063.1,789.8 L1063.4,789.2 L1063.7,786.6 L1064.0,787.1 L1064.3,788.3 L1064.6,788.0 L1064.9,789.3 L1065.2,786.4 L1065.5,788.3 L1065.8,786.3 L1066.1,787.4 L1066.4,789.6 L1066.7,788.5 L1067.0,789.0 L1067.3,786.1 L1067.6,787.4 L1067.9,789.7 L1068.2,789.1 L1068.5,788.3 L1068.8,787.8 L1069.1,787.3 L1069.3,788.1 L1069.6,788.2 L1069.9,789.6 L1070.2,787.1 L1070.5,788.1 L1070.8,789.3 L1071.1,787.4 L1071.4,785.0 L1071.7,788.8 L1072.0,788.2 L1072.3,785.8 L1072.6,787.2 L1072.9,786.8 L1073.2,785.4 L1073.5,785.8 L1073.8,783.6 L1074.1,782.7 L1074.4,779.6 L1074.7,778.0 L1075.0,780.8 L1075.3,778.2 L1075.6,777.9 L1075.8,778.7 L1076.1,780.6 L1076.4,782.5 L1076.7,783.5 L1077.0,785.4 L1077.3,786.4 L1077.6,784.7 L1077.9,784.7 L1078.2,784.7 L1078.5,786.1 L1078.8,787.8 L1079.1,786.0 L1079.4,786.2 L1079.7,787.3 L1080.0,786.9 L1080.3,788.1 L1080.6,787.3 L1080.9,788.0 L1081.2,789.5 L1081.5,788.4 L1081.8,788.5 L1082.1,785.7 L1082.3,787.9 L1082.6,788.4 L1082.9,788.9 L1083.2,789.0 L1083.5,788.5 L1083.8,789.4 L1084.1,790.0 L1084.4,786.3 L1084.7,788.1 L1085.0,788.2 L1085.3,787.6 L1085.6,788.8 L1085.9,789.3 L1086.2,789.8 L1086.5,788.8 L1086.8,788.8 L1087.1,787.0 L1087.4,787.8 L1087.7,786.2 L1088.0,788.7 L1088.3,786.2 L1088.6,787.7 L1088.8,789.8 L1089.1,789.4 L1089.4,787.7 L1089.7,786.0 L1090.0,788.6 L1090.3,786.9 L1090.6,788.3 L1090.9,786.5 L1091.2,789.9 L1091.5,788.1 L1091.8,786.4 L1092.1,789.0 L1092.4,789.1 L1092.7,790.1 L1093.0,789.5 L1093.3,789.0 L1093.6,787.2 L1093.9,789.2 L1094.2,788.5 L1094.5,789.3 L1094.8,787.6 L1095.0,786.5 L1095.3,787.5 L1095.6,789.3 L1095.9,787.1 L1096.2,786.1 L1096.5,787.7 L1096.8,789.8 L1097.1,786.8 L1097.4,786.5 L1097.7,788.8 L1098.0,789.6 L1098.3,789.4 L1098.6,787.9 L1098.9,786.5 L1099.2,787.5 L1099.5,786.3 L1099.8,789.3 L1100.1,788.8 L1100.4,787.1 L1100.7,787.5 L1101.0,788.5 L1101.3,787.3 L1101.5,788.8 L1101.8,790.0 L1102.1,788.5 L1102.4,790.0 L1102.7,787.6 L1103.0,788.8 L1103.3,788.1 L1103.6,787.7 L1103.9,789.1 L1104.2,788.3 L1104.5,790.2 L1104.8,786.3 L1105.1,787.8 L1105.4,786.1 L1105.7,790.0 L1106.0,787.6 L1106.3,787.2 L1106.6,788.8 L1106.9,789.8 L1107.2,789.6 L1107.5,789.6 L1107.8,787.0 L1108.0,789.8 L1108.3,786.8 L1108.6,788.4 L1108.9,787.9 L1109.2,787.7 L1109.5,787.9 L1109.8,787.4 L1110.1,787.7 L1110.4,788.8 L1110.7,787.1 L1111.0,789.1 L1111.3,787.2 L1111.6,787.0 L1111.9,786.9 L1112.2,788.9 L1112.5,787.0 L1112.8,786.1 L1113.1,788.3 L1113.4,789.0 L1113.7,788.0 L1114.0,786.2 L1114.2,789.6 L1114.5,790.1 L1114.8,788.2 L1115.1,787.4 L1115.4,786.9 L1115.7,788.6 L1116.0,786.0 L1116.3,789.2 L1116.6,787.0 L1116.9,789.8 L1117.2,790.0 L1117.5,789.6 L1117.8,789.9 L1118.1,788.0 L1118.4,787.8 L1118.7,789.4 L1119.0,786.2 L1119.3,788.6 L1119.6,789.5 L1119.9,789.3 L1120.2,787.0 L1120.5,786.2 L1120.7,789.4 L1121.0,789.9 L1121.3,786.8 L1121.6,789.0 L1121.9,785.9 L1122.2,787.9 L1122.5,787.3 L1122.8,788.5 L1123.1,786.6 L1123.4,788.0 L1123.7,788.5 L1124.0,786.1 L1124.3,789.4 L1124.6,786.7 L1124.9,789.5 L1125.2,787.0 L1125.5,788.0 L1125.8,786.0 L1126.1,789.3 L1126.4,787.1 L1126.7,787.7 L1127.0,785.5 L1127.2,785.3 L1127.5,786.5 L1127.8,788.1 L1128.1,787.8 L1128.4,787.6 L1128.7,786.7 L1129.0,787.4 L1129.3,787.2 L1129.6,784.5 L1129.9,784.6 L1130.2,785.6 L1130.5,782.1 L1130.8,784.6 L1131.1,782.2 L1131.4,782.7 L1131.7,778.1 L1132.0,776.1 L1132.3,776.1 L1132.6,771.1 L1132.9,767.7 L1133.2,767.4 L1133.5,766.1 L1133.7,766.3 L1134.0,767.0 L1134.3,773.2 L1134.6,774.0 L1134.9,776.9 L1135.2,779.6 L1135.5,780.7 L1135.8,780.7 L1136.1,784.5 L1136.4,782.5 L1136.7,785.3 L1137.0,784.0 L1137.3,784.1 L1137.6,787.3 L1137.9,784.7 L1138.2,784.4 L1138.5,787.5 L1138.8,788.8 L1139.1,788.6 L1139.4,785.1 L1139.7,789.3 L1139.9,785.6 L1140.2,788.8 L1140.5,786.5 L1140.8,789.2 L1141.1,789.0 L1141.4,786.9 L1141.7,789.4 L1142.0,788.4 L1142.3,786.0 L1142.6,786.9 L1142.9,786.2 L1143.2,785.8 L1143.5,789.8 L1143.8,789.0 L1144.1,786.7 L1144.4,787.2 L1144.7,789.9 L1145.0,788.0 L1145.3,789.1 L1145.6,788.3 L1145.9,789.7 L1146.2,790.1 L1146.4,786.0 L1146.7,788.9 L1147.0,786.5 L1147.3,789.7 L1147.6,788.2 L1147.9,789.7 L1148.2,788.4 L1148.5,789.5 L1148.8,787.4 L1149.1,789.6 L1149.4,787.2 L1149.7,788.2 L1150.0,789.8 L1150.3,788.8 L1150.6,788.2 L1150.9,786.4 L1151.2,788.8 L1151.5,789.4 L1151.8,786.3 L1152.1,786.6 L1152.4,787.3 L1152.7,789.2 L1152.9,789.6 L1153.2,789.2 L1153.5,790.1 L1153.8,790.2 L1154.1,788.2 L1154.4,788.6 L1154.7,788.0 L1155.0,788.8 L1155.3,790.3 L1155.6,787.5 L1155.9,787.6 L1156.2,788.1 L1156.5,788.1 L1156.8,787.5 L1157.1,786.3 L1157.4,786.7 L1157.7,787.4 L1158.0,788.7 L1158.3,789.1 L1158.6,788.6 L1158.9,786.3 L1159.2,788.8 L1159.4,788.8 L1159.7,788.7 L1160.0,789.8 L1160.3,786.2 L1160.6,790.4 L1160.9,787.9 L1161.2,786.5 L1161.5,789.4 L1161.8,787.9 L1162.1,788.9 L1162.4,789.4" fill="none" stroke="#04c7ca" stroke-width="2.6" stroke-linejoin="round"/>
<rect x="719.3" y="490.0" width="443.1" height="329.4" fill="none" stroke="#000" stroke-width="3.0" />
<line x1="719.3" y1="819.4" x2="719.3" y2="825.4" stroke="#000" stroke-width="2.4" />
<text x="719.3" y="844.1" font-size="21" font-weight="bold" fill="#000" text-anchor="middle">10</text>
<line x1="750.9" y1="819.4" x2="750.9" y2="822.9" stroke="#000" stroke-width="1.6" />
<line x1="782.6" y1="819.4" x2="782.6" y2="825.4" stroke="#000" stroke-width="2.4" />
<text x="782.6" y="844.1" font-size="21" font-weight="bold" fill="#000" text-anchor="middle">20</text>
<line x1="814.2" y1="819.4" x2="814.2" y2="822.9" stroke="#000" stroke-width="1.6" />
<line x1="845.9" y1="819.4" x2="845.9" y2="825.4" stroke="#000" stroke-width="2.4" />
<text x="845.9" y="844.1" font-size="21" font-weight="bold" fill="#000" text-anchor="middle">30</text>
<line x1="877.5" y1="819.4" x2="877.5" y2="822.9" stroke="#000" stroke-width="1.6" />
<line x1="909.2" y1="819.4" x2="909.2" y2="825.4" stroke="#000" stroke-width="2.4" />
<text x="909.2" y="844.1" font-size="21" font-weight="bold" fill="#000" text-anchor="middle">40</text>
<line x1="940.9" y1="819.4" x2="940.9" y2="822.9" stroke="#000" stroke-width="1.6" />
<line x1="972.5" y1="819.4" x2="972.5" y2="825.4" stroke="#000" stroke-width="2.4" />
<text x="972.5" y="844.1" font-size="21" font-weight="bold" fill="#000" text-anchor="middle">50</text>
<line x1="1004.2" y1="819.4" x2="1004.2" y2="822.9" stroke="#000" stroke-width="1.6" />
<line x1="1035.8" y1="819.4" x2="1035.8" y2="825.4" stroke="#000" stroke-width="2.4" />
<text x="1035.8" y="844.1" font-size="21" font-weight="bold" fill="#000" text-anchor="middle">60</text>
<line x1="1067.5" y1="819.4" x2="1067.5" y2="822.9" stroke="#000" stroke-width="1.6" />
<line x1="1099.1" y1="819.4" x2="1099.1" y2="825.4" stroke="#000" stroke-width="2.4" />
<text x="1099.1" y="844.1" font-size="21" font-weight="bold" fill="#000" text-anchor="middle">70</text>
<line x1="1130.8" y1="819.4" x2="1130.8" y2="822.9" stroke="#000" stroke-width="1.6" />
<line x1="1162.4" y1="819.4" x2="1162.4" y2="825.4" stroke="#000" stroke-width="2.4" />
<text x="1162.4" y="844.1" font-size="21" font-weight="bold" fill="#000" text-anchor="middle">80</text>
<line x1="988.8" y1="521.3" x2="1016.5" y2="521.3" stroke="#f2a265" stroke-width="2.6" />
<line x1="988.8" y1="547.4" x2="1016.5" y2="547.4" stroke="#04c7ca" stroke-width="2.6" />
<text x="1021.0" y="526.3" font-size="20.45" font-weight="bold" fill="#000" textLength="131.0" lengthAdjust="spacing">35% RH, 24 h</text>
<text x="1021.0" y="550.9" font-size="20.59" font-weight="bold" fill="#000" textLength="133.0" lengthAdjust="spacing">Non-exposed</text>
<text x="705.0" y="654.3" font-size="26.61" font-weight="normal" fill="#000" text-anchor="middle" textLength="172.0" lengthAdjust="spacing" transform="rotate(-90 705.0 654.3)" stroke="#000" stroke-width="0.5">Intensity (a.u.)</text>
<text x="928.3" y="869.0" font-size="25" font-weight="bold" fill="#000" text-anchor="middle" textLength="123.8" lengthAdjust="spacing">2 Theta (°)</text>
</g>
<g id="panel_e">
<text x="1182.5" y="64.0" font-size="50" font-weight="bold" fill="#000" class="ser">e</text>
<clipPath id="clipe"><rect x="1258.2" y="71.85" width="442.0999999999999" height="330.95000000000005"/></clipPath>
<g clip-path="url(#clipe)">
<path d="M1258.2,159.6 L1258.8,165.7 L1259.4,170.9 L1260.4,185.1 L1261.4,199.0 L1262.2,203.4 L1263.0,208.8 L1263.8,215.9 L1264.6,220.3 L1265.4,223.4 L1266.2,228.1 L1267.0,230.2 L1267.8,234.1 L1268.6,236.5 L1269.5,240.0 L1270.3,242.1 L1271.0,244.6 L1271.7,246.6 L1272.4,247.4 L1273.2,249.3 L1273.9,250.7 L1274.6,251.0 L1275.4,253.9 L1276.1,255.1 L1276.8,256.0 L1277.6,256.9 L1278.3,260.1 L1279.1,260.0 L1279.9,261.2 L1280.7,262.2 L1281.5,262.6 L1282.3,263.7 L1283.1,263.3 L1283.9,264.8 L1284.7,264.8 L1285.5,264.4 L1286.3,262.9 L1287.1,260.0 L1287.9,258.7 L1288.7,260.1 L1289.5,263.0 L1290.4,263.2 L1291.2,264.9 L1292.0,265.6 L1292.8,267.0 L1293.6,267.7 L1294.4,268.6 L1295.2,270.0 L1296.0,271.0 L1296.8,272.6 L1297.6,273.1 L1298.4,274.6 L1299.1,275.3 L1299.9,276.5 L1300.6,276.8 L1301.3,276.7 L1302.0,279.0 L1302.8,280.1 L1303.5,280.9 L1304.2,281.1 L1305.0,282.3 L1305.7,282.2 L1306.4,284.3 L1307.2,284.1 L1307.9,283.7 L1308.6,283.5 L1309.4,285.4 L1310.1,285.9 L1310.8,284.3 L1311.5,286.0 L1312.3,285.5 L1313.0,285.2 L1313.7,285.8 L1314.5,287.0 L1315.2,287.4 L1315.9,286.0 L1316.7,287.4 L1317.4,286.5 L1318.1,288.1 L1318.9,287.6 L1319.6,288.9 L1320.3,289.4 L1321.0,288.7 L1321.8,289.9 L1322.5,288.8 L1323.3,288.5 L1324.0,289.8 L1324.8,288.9 L1325.5,289.4 L1326.3,290.0 L1327.0,290.6 L1327.8,289.9 L1328.5,289.9 L1329.3,291.8 L1330.0,290.9 L1330.8,292.4 L1331.5,292.4 L1332.3,291.6 L1333.1,292.0 L1333.8,292.3 L1334.6,292.8 L1335.3,293.2 L1336.0,293.6 L1336.8,294.2 L1337.5,295.4 L1338.2,295.0 L1338.9,295.4 L1339.7,296.4 L1340.4,296.0 L1341.1,296.6 L1341.9,298.5 L1342.6,298.0 L1343.4,298.6 L1344.1,298.1 L1344.9,299.5 L1345.6,300.4 L1346.4,299.8 L1347.1,301.5 L1347.9,302.1 L1348.6,301.5 L1349.4,303.2 L1350.1,303.4 L1350.9,304.4 L1351.6,304.3 L1352.4,305.6 L1353.2,306.2 L1353.9,305.3 L1354.7,305.9 L1355.4,307.3 L1356.1,308.0 L1356.9,306.7 L1357.6,307.2 L1358.3,307.6 L1359.0,307.2 L1359.8,307.4 L1360.5,307.5 L1361.2,307.7 L1362.0,308.3 L1362.7,307.8 L1363.4,308.1 L1364.2,309.0 L1364.9,307.6 L1365.6,308.8 L1366.4,309.3 L1367.1,308.6 L1367.8,308.5 L1368.5,309.8 L1369.3,308.8 L1370.0,308.8 L1370.7,309.5 L1371.5,310.0 L1372.2,308.9 L1372.9,309.4 L1373.7,309.5 L1374.4,310.5 L1375.1,309.8 L1375.8,310.6 L1376.6,309.3 L1377.3,309.7 L1378.0,310.4 L1378.8,310.9 L1379.5,309.8 L1380.2,309.1 L1381.0,308.6 L1381.7,309.2 L1382.4,308.3 L1383.2,309.2 L1383.9,309.1 L1384.6,307.5 L1385.3,307.4 L1386.1,308.2 L1386.8,307.7 L1387.5,308.0 L1388.3,307.1 L1389.0,306.7 L1389.7,307.1 L1390.5,308.1 L1391.2,307.1 L1391.9,307.2 L1392.7,307.4 L1393.4,307.4 L1394.1,307.4 L1394.8,308.5 L1395.6,307.0 L1396.3,306.7 L1397.0,308.6 L1397.8,308.5 L1398.5,308.8 L1399.2,307.7 L1400.0,308.7 L1400.7,308.7 L1401.4,307.3 L1402.2,308.4 L1402.9,308.6 L1403.6,308.7 L1404.3,308.8 L1405.1,308.7 L1405.8,309.2 L1406.5,309.4 L1407.3,309.5 L1408.0,310.9 L1408.7,310.7 L1409.5,312.2 L1410.2,311.0 L1410.9,313.1 L1411.7,313.2 L1412.4,314.1 L1413.1,314.5 L1413.8,314.9 L1414.6,314.8 L1415.3,314.1 L1416.0,316.0 L1416.8,315.3 L1417.5,316.0 L1418.2,317.2 L1419.0,317.4 L1419.7,317.2 L1420.4,318.3 L1421.2,317.7 L1421.9,317.2 L1422.6,317.1 L1423.3,318.3 L1424.1,317.6 L1424.8,318.3 L1425.5,317.5 L1426.3,317.2 L1427.0,317.9 L1427.7,318.5 L1428.5,317.3 L1429.2,318.6 L1429.9,318.9 L1430.7,318.7 L1431.4,318.8 L1432.1,317.2 L1432.8,318.5 L1433.6,319.0 L1434.3,317.5 L1435.0,318.0 L1435.8,317.9 L1436.5,318.3 L1437.2,318.1 L1438.0,318.1 L1438.7,318.6 L1439.4,317.0 L1440.2,317.0 L1440.9,317.1 L1441.6,317.1 L1442.3,316.9 L1443.1,318.6 L1443.8,318.3 L1444.5,316.7 L1445.3,317.5 L1446.0,317.0 L1446.7,317.0 L1447.5,317.0 L1448.2,317.5 L1448.9,317.3 L1449.7,316.8 L1450.4,316.4 L1451.1,316.6 L1451.8,316.1 L1452.6,316.9 L1453.3,317.2 L1454.0,316.4 L1454.8,315.8 L1455.5,315.9 L1456.2,316.2 L1457.0,316.6 L1457.7,316.9 L1458.4,316.0 L1459.2,316.8 L1459.9,316.4 L1460.6,316.0 L1461.3,315.9 L1462.1,316.1 L1462.8,316.5 L1463.5,315.9 L1464.3,316.5 L1465.0,316.0 L1465.7,315.5 L1466.5,316.1 L1467.2,316.4 L1467.9,315.1 L1468.7,315.8 L1469.4,315.8 L1470.1,316.7 L1470.8,316.8 L1471.6,315.7 L1472.3,316.7 L1473.0,316.5 L1473.8,315.4 L1474.5,315.8 L1475.2,315.1 L1476.0,316.4 L1476.7,316.1 L1477.4,316.6 L1478.2,316.4 L1478.9,316.1 L1479.6,316.2 L1480.3,315.8 L1481.1,314.9 L1481.8,315.9 L1482.5,314.7 L1483.3,314.9 L1484.0,316.3 L1484.7,314.9 L1485.5,315.1 L1486.2,315.2 L1486.9,316.9 L1487.7,315.6 L1488.4,315.4 L1489.1,317.1 L1489.8,315.8 L1490.6,317.3 L1491.3,317.1 L1492.0,317.5 L1492.8,317.9 L1493.5,317.2 L1494.2,317.8 L1495.0,316.3 L1495.7,317.9 L1496.4,317.5 L1497.2,318.0 L1497.9,316.9 L1498.6,318.3 L1499.3,318.7 L1500.1,317.3 L1500.9,318.2 L1501.6,319.0 L1502.4,319.9 L1503.1,319.1 L1503.9,319.3 L1504.6,319.8 L1505.4,320.8 L1506.1,321.5 L1506.9,321.1 L1507.6,321.4 L1508.4,321.8 L1509.1,322.0 L1509.9,322.5 L1510.6,322.2 L1511.4,323.4 L1512.2,324.6 L1512.9,323.7 L1513.7,324.6 L1514.4,323.7 L1515.2,325.0 L1515.9,325.3 L1516.7,325.4 L1517.4,325.3 L1518.2,325.5 L1518.9,326.1 L1519.7,326.8 L1520.4,325.6 L1521.2,325.7 L1522.0,327.2 L1522.7,327.8 L1523.5,327.3 L1524.2,327.1 L1524.9,327.6 L1525.7,326.5 L1526.4,326.7 L1527.1,326.5 L1527.8,327.3 L1528.6,326.7 L1529.3,326.5 L1530.0,327.4 L1530.8,327.9 L1531.5,326.5 L1532.2,327.3 L1533.0,326.7 L1533.7,327.6 L1534.4,327.0 L1535.2,326.4 L1535.9,326.2 L1536.6,325.8 L1537.3,326.7 L1538.1,326.5 L1538.8,326.1 L1539.5,326.4 L1540.3,326.3 L1541.0,327.2 L1541.7,325.9 L1542.5,327.5 L1543.2,326.5 L1543.9,326.7 L1544.7,326.4 L1545.4,327.1 L1546.1,327.0 L1546.8,326.5 L1547.6,326.3 L1548.3,326.7 L1549.0,327.0 L1549.8,326.0 L1550.5,326.6 L1551.2,327.1 L1552.0,326.0 L1552.7,325.5 L1553.4,325.5 L1554.2,326.4 L1554.9,326.3 L1555.6,326.9 L1556.3,326.6 L1557.1,325.4 L1557.8,325.2 L1558.5,325.3 L1559.3,325.2 L1560.0,326.2 L1560.7,326.4 L1561.5,326.5 L1562.2,325.2 L1562.9,326.3 L1563.7,325.2 L1564.4,325.4 L1565.1,326.0 L1565.8,324.7 L1566.6,324.7 L1567.3,326.2 L1568.0,325.1 L1568.8,325.2 L1569.5,325.6 L1570.2,325.8 L1571.0,324.4 L1571.7,325.1 L1572.4,325.3 L1573.2,325.3 L1573.9,324.8 L1574.6,325.5 L1575.3,326.2 L1576.1,325.1 L1576.8,325.4 L1577.5,324.5 L1578.3,324.8 L1579.0,325.6 L1579.7,324.4 L1580.5,326.0 L1581.2,326.0 L1581.9,324.4 L1582.7,326.0 L1583.4,324.9 L1584.1,325.7 L1584.8,325.6 L1585.6,324.7 L1586.3,325.4 L1587.0,325.4 L1587.8,325.6 L1588.5,324.5 L1589.3,325.5 L1590.0,325.8 L1590.8,325.2 L1591.5,324.9 L1592.3,324.0 L1593.0,324.8 L1593.8,324.5 L1594.5,325.2 L1595.3,325.0 L1596.1,324.8 L1596.8,324.0 L1597.6,324.9 L1598.3,324.8 L1599.1,323.9 L1599.8,325.3 L1600.6,325.1 L1601.3,324.3 L1602.1,326.2 L1602.8,324.9 L1603.6,325.5 L1604.3,326.6 L1605.1,326.6 L1605.9,326.8 L1606.6,327.3 L1607.4,327.1 L1608.1,327.1 L1608.9,327.1 L1609.6,327.2 L1610.4,328.8 L1611.1,329.1 L1611.9,329.0 L1612.6,329.5 L1613.3,328.9 L1614.1,328.9 L1614.8,329.3 L1615.5,330.4 L1616.3,328.9 L1617.0,330.0 L1617.7,329.6 L1618.5,330.8 L1619.2,330.1 L1619.9,330.2 L1620.6,330.5 L1621.4,330.9 L1622.1,331.5 L1622.8,330.9 L1623.6,332.0 L1624.3,330.7 L1625.0,331.1 L1625.8,330.9 L1626.5,331.1 L1627.2,332.6 L1628.0,332.7 L1628.7,331.6 L1629.4,331.6 L1630.1,332.0 L1630.9,332.7 L1631.6,332.8 L1632.3,332.7 L1633.1,332.4 L1633.8,331.5 L1634.5,332.0 L1635.3,331.6 L1636.0,332.3 L1636.7,332.3 L1637.5,331.6 L1638.2,331.7 L1638.9,332.8 L1639.6,331.3 L1640.4,332.8 L1641.1,333.0 L1641.8,333.1 L1642.6,332.0 L1643.3,332.3 L1644.0,332.4 L1644.8,332.5 L1645.5,333.2 L1646.2,332.6 L1647.0,331.8 L1647.7,332.9 L1648.4,332.2 L1649.1,332.4 L1649.9,332.7 L1650.6,331.2 L1651.3,332.7 L1652.1,332.5 L1652.8,332.1 L1653.5,332.1 L1654.3,332.0 L1655.0,331.4 L1655.7,332.0 L1656.5,331.0 L1657.2,331.8 L1657.9,332.1 L1658.6,331.6 L1659.4,331.8 L1660.1,332.6 L1660.8,332.4 L1661.6,330.8 L1662.3,332.1 L1663.0,331.7 L1663.8,330.5 L1664.5,331.1 L1665.2,330.8 L1666.0,330.4 L1666.7,331.3 L1667.4,332.0 L1668.1,330.7 L1668.9,331.8 L1669.6,331.4 L1670.3,330.2 L1671.1,331.6 L1671.8,331.0 L1672.5,331.6 L1673.3,331.2 L1674.0,331.2 L1674.7,330.3 L1675.5,331.2 L1676.2,331.4 L1676.9,331.3 L1677.6,330.5 L1678.4,331.1 L1679.1,330.6 L1679.8,329.8 L1680.6,329.7 L1681.3,329.8 L1682.0,330.1 L1682.8,330.0 L1683.5,330.7 L1684.2,331.1 L1685.0,330.8 L1685.7,330.6 L1686.4,331.1 L1687.1,330.4 L1687.9,330.7 L1688.6,331.3 L1689.3,330.6 L1690.1,330.2 L1690.8,331.7 L1691.5,331.3 L1692.3,330.6 L1693.0,330.7 L1693.7,331.0 L1694.5,331.2 L1695.2,330.4 L1695.9,330.0 L1696.6,330.4 L1697.4,331.6 L1698.1,330.3 L1698.8,331.0 L1699.6,330.5 L1700.3,331.1" fill="none" stroke="#04c7ca" stroke-width="10.2" stroke-linejoin="round" stroke-linecap="round"/>
<circle cx="1292.0" cy="242.3" r="3.6" fill="#04c7ca"/>
<circle cx="1286.3" cy="258.3" r="5" fill="#04c7ca"/>
<circle cx="1535.5" cy="323.4" r="4" fill="#04c7ca"/>
<circle cx="1647.2" cy="336.6" r="4" fill="#04c7ca"/>
<circle cx="1673.8" cy="325.6" r="4.5" fill="#04c7ca"/>
</g>
<line x1="1262.2" y1="335.5" x2="1700.3" y2="335.5" stroke="#ee8528" stroke-width="2.7" stroke-dasharray="3.6 6.06"/>
<rect x="1258.2" y="71.8" width="442.1" height="331.0" fill="none" stroke="#000" stroke-width="2.0" />
<line x1="1252.2" y1="402.8" x2="1258.2" y2="402.8" stroke="#000" stroke-width="2.2" />
<text x="1249.0" y="409.8" font-size="20" font-weight="bold" fill="#000" text-anchor="end">0.0</text>
<line x1="1254.7" y1="375.2" x2="1258.2" y2="375.2" stroke="#000" stroke-width="1.6" />
<line x1="1252.2" y1="347.6" x2="1258.2" y2="347.6" stroke="#000" stroke-width="2.2" />
<text x="1249.0" y="354.6" font-size="20" font-weight="bold" fill="#000" text-anchor="end">0.5</text>
<line x1="1254.7" y1="320.1" x2="1258.2" y2="320.1" stroke="#000" stroke-width="1.6" />
<line x1="1252.2" y1="292.5" x2="1258.2" y2="292.5" stroke="#000" stroke-width="2.2" />
<text x="1249.0" y="299.5" font-size="20" font-weight="bold" fill="#000" text-anchor="end">1.0</text>
<line x1="1254.7" y1="264.9" x2="1258.2" y2="264.9" stroke="#000" stroke-width="1.6" />
<line x1="1252.2" y1="237.3" x2="1258.2" y2="237.3" stroke="#000" stroke-width="2.2" />
<text x="1249.0" y="244.3" font-size="20" font-weight="bold" fill="#000" text-anchor="end">1.5</text>
<line x1="1254.7" y1="209.7" x2="1258.2" y2="209.7" stroke="#000" stroke-width="1.6" />
<line x1="1252.2" y1="182.2" x2="1258.2" y2="182.2" stroke="#000" stroke-width="2.2" />
<text x="1249.0" y="189.2" font-size="20" font-weight="bold" fill="#000" text-anchor="end">2.0</text>
<line x1="1254.7" y1="154.6" x2="1258.2" y2="154.6" stroke="#000" stroke-width="1.6" />
<line x1="1252.2" y1="127.0" x2="1258.2" y2="127.0" stroke="#000" stroke-width="2.2" />
<text x="1249.0" y="134.0" font-size="20" font-weight="bold" fill="#000" text-anchor="end">2.5</text>
<line x1="1254.7" y1="99.4" x2="1258.2" y2="99.4" stroke="#000" stroke-width="1.6" />
<line x1="1252.2" y1="71.8" x2="1258.2" y2="71.8" stroke="#000" stroke-width="2.2" />
<text x="1249.0" y="78.8" font-size="20" font-weight="bold" fill="#000" text-anchor="end">3.0</text>
<line x1="1258.2" y1="402.8" x2="1258.2" y2="408.8" stroke="#000" stroke-width="2.2" />
<text x="1258.2" y="428.5" font-size="20" font-weight="bold" fill="#000" text-anchor="middle">0</text>
<line x1="1298.4" y1="402.8" x2="1298.4" y2="406.3" stroke="#000" stroke-width="1.6" />
<line x1="1338.6" y1="402.8" x2="1338.6" y2="408.8" stroke="#000" stroke-width="2.2" />
<text x="1338.6" y="428.5" font-size="20" font-weight="bold" fill="#000" text-anchor="middle">1k</text>
<line x1="1378.8" y1="402.8" x2="1378.8" y2="406.3" stroke="#000" stroke-width="1.6" />
<line x1="1419.0" y1="402.8" x2="1419.0" y2="408.8" stroke="#000" stroke-width="2.2" />
<text x="1419.0" y="428.5" font-size="20" font-weight="bold" fill="#000" text-anchor="middle">2k</text>
<line x1="1459.2" y1="402.8" x2="1459.2" y2="406.3" stroke="#000" stroke-width="1.6" />
<line x1="1499.3" y1="402.8" x2="1499.3" y2="408.8" stroke="#000" stroke-width="2.2" />
<text x="1499.3" y="428.5" font-size="20" font-weight="bold" fill="#000" text-anchor="middle">3k</text>
<line x1="1539.5" y1="402.8" x2="1539.5" y2="406.3" stroke="#000" stroke-width="1.6" />
<line x1="1579.7" y1="402.8" x2="1579.7" y2="408.8" stroke="#000" stroke-width="2.2" />
<text x="1579.7" y="428.5" font-size="20" font-weight="bold" fill="#000" text-anchor="middle">4k</text>
<line x1="1619.9" y1="402.8" x2="1619.9" y2="406.3" stroke="#000" stroke-width="1.6" />
<line x1="1660.1" y1="402.8" x2="1660.1" y2="408.8" stroke="#000" stroke-width="2.2" />
<text x="1660.1" y="428.5" font-size="20" font-weight="bold" fill="#000" text-anchor="middle">5k</text>
<line x1="1700.3" y1="402.8" x2="1700.3" y2="406.3" stroke="#000" stroke-width="1.6" />
<text x="1279.5" y="112.5" font-size="22.62" font-weight="bold" fill="#000" textLength="59.0" lengthAdjust="spacing">NH54</text>
<text x="1537.6" y="112.0" font-size="20.2" font-weight="bold" fill="#000" textLength="153.4" lengthAdjust="spacing">Potential : 0.1 V</text>
<text x="1537.6" y="138.0" font-size="20.26" font-weight="bold" fill="#000" textLength="107.0" lengthAdjust="spacing">L = 2.5 mm</text>
<text x="1537.6" y="164.0" font-size="20.33" font-weight="bold" fill="#000" textLength="102.0" lengthAdjust="spacing">d = 10 mm</text>
<text x="1461" y="376.3" font-size="21.4" font-weight="bold" fill="#ee8528" textLength="224.2" lengthAdjust="spacing">Current : 6.44×10<tspan dy="-9.5" font-size="14">-10</tspan><tspan dy="9.5"> A</tspan></text>
<text x="1211.5" y="236.7" font-size="24.18" font-weight="bold" fill="#000" text-anchor="middle" textLength="142.4" lengthAdjust="spacing" transform="rotate(-90 1211.5 236.7)">Current (nA)</text>
<text x="1493.8" y="458.5" font-size="24" font-weight="bold" fill="#000" text-anchor="middle">Time (s)</text>
</g>
<g id="panel_f">
<text x="1185.0" y="492.0" font-size="50" font-weight="bold" fill="#000" class="ser">f</text>
<line x1="1260.0" y1="693.2" x2="1289.3" y2="657.6" stroke="#000" stroke-width="2.4" stroke-dasharray="3 9.5"/>
<line x1="1603.5" y1="657.6" x2="1701.0" y2="591.8" stroke="#000" stroke-width="2.4" stroke-dasharray="3 5.8"/>
<path d="M1375.9,657.6 L1408.5,656.5 L1419.3,656.0 L1430.1,656.9 L1484.3,656.9 L1516.8,656.2 L1549.3,655.1 L1571.0,653.5 L1592.6,650.7 L1603.5,648.0 L1614.3,644.6 L1625.2,639.8 L1636.0,633.6 L1646.8,626.8 L1657.7,618.5 L1663.1,612.4 L1668.5,604.2 L1673.9,591.8 L1679.3,578.1 L1684.7,563.0 L1690.2,545.2 L1694.5,530.2 L1697.7,519.2" fill="none" stroke="#04c7ca" stroke-width="5.5" stroke-linejoin="round" stroke-linecap="butt"/>
<path d="M1267.6,797.4 L1268.1,780.9 L1268.9,753.5 L1269.8,726.1 L1270.9,706.9 L1272.5,693.2 L1275.2,683.6 L1278.4,677.5 L1283.9,669.2 L1289.3,665.1 L1300.1,661.4 L1310.9,659.8 L1332.6,658.7 L1354.3,658.0 L1375.9,657.6" fill="none" stroke="#6fb2d6" stroke-width="5.5" stroke-linejoin="round" stroke-linecap="butt"/>
<line x1="1262.2" y1="657.6" x2="1695.6" y2="657.6" stroke="#000" stroke-width="2.0" stroke-dasharray="16.5 4.5 2.5 4.5"/>
<rect x="1256.9" y="493.4" width="444.6" height="328.9" fill="none" stroke="#000" stroke-width="3.0" />
<line x1="1250.9" y1="493.2" x2="1256.9" y2="493.2" stroke="#000" stroke-width="2.4" />
<text x="1244.6" y="498.8" font-size="22" font-weight="bold" fill="#000" text-anchor="end">12</text>
<line x1="1250.9" y1="548.0" x2="1256.9" y2="548.0" stroke="#000" stroke-width="2.4" />
<text x="1244.6" y="553.6" font-size="22" font-weight="bold" fill="#000" text-anchor="end">8</text>
<line x1="1250.9" y1="602.8" x2="1256.9" y2="602.8" stroke="#000" stroke-width="2.4" />
<text x="1244.6" y="608.4" font-size="22" font-weight="bold" fill="#000" text-anchor="end">4</text>
<line x1="1250.9" y1="657.6" x2="1256.9" y2="657.6" stroke="#000" stroke-width="2.4" />
<text x="1244.6" y="663.2" font-size="22" font-weight="bold" fill="#000" text-anchor="end">0</text>
<line x1="1250.9" y1="712.4" x2="1256.9" y2="712.4" stroke="#000" stroke-width="2.4" />
<text x="1244.6" y="718.0" font-size="22" font-weight="bold" fill="#000" text-anchor="end">−4</text>
<line x1="1250.9" y1="767.2" x2="1256.9" y2="767.2" stroke="#000" stroke-width="2.4" />
<text x="1244.6" y="772.8" font-size="22" font-weight="bold" fill="#000" text-anchor="end">−8</text>
<line x1="1250.9" y1="822.0" x2="1256.9" y2="822.0" stroke="#000" stroke-width="2.4" />
<text x="1244.6" y="827.6" font-size="22" font-weight="bold" fill="#000" text-anchor="end">−12</text>
<line x1="1267.6" y1="822.3" x2="1267.6" y2="828.3" stroke="#000" stroke-width="2.4" />
<text x="1267.6" y="849.6" font-size="22" font-weight="bold" fill="#000" text-anchor="middle">1</text>
<line x1="1321.8" y1="822.3" x2="1321.8" y2="825.8" stroke="#000" stroke-width="1.6" />
<line x1="1375.9" y1="822.3" x2="1375.9" y2="828.3" stroke="#000" stroke-width="2.4" />
<text x="1375.9" y="849.6" font-size="22" font-weight="bold" fill="#000" text-anchor="middle">2</text>
<line x1="1430.1" y1="822.3" x2="1430.1" y2="825.8" stroke="#000" stroke-width="1.6" />
<line x1="1484.3" y1="822.3" x2="1484.3" y2="828.3" stroke="#000" stroke-width="2.4" />
<text x="1484.3" y="849.6" font-size="22" font-weight="bold" fill="#000" text-anchor="middle">3</text>
<line x1="1538.5" y1="822.3" x2="1538.5" y2="825.8" stroke="#000" stroke-width="1.6" />
<line x1="1592.6" y1="822.3" x2="1592.6" y2="828.3" stroke="#000" stroke-width="2.4" />
<text x="1592.6" y="849.6" font-size="22" font-weight="bold" fill="#000" text-anchor="middle">4</text>
<line x1="1646.8" y1="822.3" x2="1646.8" y2="825.8" stroke="#000" stroke-width="1.6" />
<line x1="1701.0" y1="822.3" x2="1701.0" y2="828.3" stroke="#000" stroke-width="2.4" />
<text x="1701.0" y="849.6" font-size="22" font-weight="bold" fill="#000" text-anchor="middle">5</text>
<text x="1276.4" y="532.5" font-size="23.31" font-weight="bold" fill="#000" textLength="234.6" lengthAdjust="spacing">Na/NH54/NH54+C/SS</text>
<text x="1269.5" y="646.5" font-size="22.67" font-weight="bold" fill="#6fb2d6" textLength="54.0" lengthAdjust="spacing">1.2 V</text>
<text x="1594.0" y="684.2" font-size="22.67" font-weight="bold" fill="#04c7ca" textLength="54.0" lengthAdjust="spacing">4.1 V</text>
<text x="1484.5" y="804.5" font-size="21.87" font-weight="bold" fill="#000" textLength="186.0" lengthAdjust="spacing">Scan rate: 1 mV/s</text>
<text x="1203.4" y="656.5" font-size="26.04" font-weight="bold" fill="#000" text-anchor="middle" textLength="156.4" lengthAdjust="spacing" transform="rotate(-90 1203.4 656.5)">Current (μA)</text>
<text x="1478.2" y="871.5" font-size="26" font-weight="bold" fill="#000" text-anchor="middle" textLength="155.0" lengthAdjust="spacing">Potential (V)</text>
</g>
<g id="panel_g">
<text x="79.5" y="925.0" font-size="50" font-weight="bold" fill="#000" class="ser">g</text>
<rect x="142.1" y="948.0" width="147.7" height="352.4" fill="#8dd3ef" />
<rect x="289.8" y="948.0" width="697.0" height="352.4" fill="#eddab0" />
<rect x="986.8" y="948.0" width="177.2" height="352.4" fill="#fccfa6" />
<path d="M142.1,964.4 L167.3,970.9 L1160.2,967.5 L1160.2,1292.9 L167.3,1291.2 L145.0,1298.5" fill="none" stroke="#7f8488" stroke-width="0.9" />
<line x1="167.3" y1="970.9" x2="167.3" y2="1291.2" stroke="#7f8488" stroke-width="0.9" />
<path d="M141.6,963.5 L143.9,1300.4" fill="none" stroke="#000" stroke-width="2.8" />
<path d="M135.2,1299.3 L1181.2,1301.5 L1162.0,1292.5" fill="none" stroke="#000" stroke-width="2.9" stroke-linejoin="round" stroke-linecap="round"/>
<line x1="133.1" y1="995.5" x2="142.5" y2="995.5" stroke="#000" stroke-width="2.5" />
<text x="128.3" y="1004.5" font-size="22" font-weight="bold" text-anchor="end" textLength="31" lengthAdjust="spacingAndGlyphs">10<tspan dy="-9.5" font-size="15">6</tspan></text>
<line x1="133.1" y1="1038.9" x2="142.5" y2="1038.9" stroke="#000" stroke-width="2.5" />
<text x="128.3" y="1047.9" font-size="22" font-weight="bold" text-anchor="end" textLength="31" lengthAdjust="spacingAndGlyphs">10<tspan dy="-9.5" font-size="15">5</tspan></text>
<line x1="133.1" y1="1082.3" x2="142.5" y2="1082.3" stroke="#000" stroke-width="2.5" />
<text x="128.3" y="1091.3" font-size="22" font-weight="bold" text-anchor="end" textLength="31" lengthAdjust="spacingAndGlyphs">10<tspan dy="-9.5" font-size="15">4</tspan></text>
<line x1="133.1" y1="1125.7" x2="142.5" y2="1125.7" stroke="#000" stroke-width="2.5" />
<text x="128.3" y="1134.7" font-size="22" font-weight="bold" text-anchor="end" textLength="31" lengthAdjust="spacingAndGlyphs">10<tspan dy="-9.5" font-size="15">3</tspan></text>
<line x1="133.1" y1="1169.1" x2="142.5" y2="1169.1" stroke="#000" stroke-width="2.5" />
<text x="128.3" y="1178.1" font-size="22" font-weight="bold" text-anchor="end" textLength="31" lengthAdjust="spacingAndGlyphs">10<tspan dy="-9.5" font-size="15">2</tspan></text>
<line x1="133.1" y1="1212.5" x2="142.5" y2="1212.5" stroke="#000" stroke-width="2.5" />
<text x="128.3" y="1221.5" font-size="22" font-weight="bold" text-anchor="end" textLength="31" lengthAdjust="spacingAndGlyphs">10<tspan dy="-9.5" font-size="15">1</tspan></text>
<line x1="133.1" y1="1255.9" x2="142.5" y2="1255.9" stroke="#000" stroke-width="2.5" />
<text x="128.3" y="1264.9" font-size="22" font-weight="bold" text-anchor="end" textLength="31" lengthAdjust="spacingAndGlyphs">10<tspan dy="-9.5" font-size="15">0</tspan></text>
<line x1="133.1" y1="1299.3" x2="142.5" y2="1299.3" stroke="#000" stroke-width="2.5" />
<text x="128.3" y="1308.3" font-size="22" font-weight="bold" text-anchor="end" textLength="39.5" lengthAdjust="spacingAndGlyphs">10<tspan dy="-9.5" font-size="15">−1</tspan></text>
<path d="M185.7,1197.9 L192.4,1196.9 V1294.1 L185.7,1296.3 Z" fill="#2e2e2e" stroke="none" stroke-width="0" />
<path d="M164.0,1197.9 l6.7,-1.0 H192.4 L185.7,1197.9 Z" fill="#9c9c9c" stroke="none" stroke-width="0" />
<rect x="164.0" y="1197.9" width="21.7" height="98.4" fill="#828282" stroke="#5e5e5e" stroke-width="0.7" />
<line x1="165.8" y1="1300.2" x2="165.8" y2="1308.0" stroke="#000" stroke-width="2.7" />
<text x="165.8" y="1335.1" font-size="23.5" font-weight="bold" fill="#000" text-anchor="middle">Li</text>
<path d="M229.7,1067.0 L235.6,1065.9 V1294.2 L229.7,1296.4 Z" fill="url(#gna2)" stroke="none" stroke-width="0" />
<path d="M207.6,1067.0 l5.9,-1.1 H235.6 L229.7,1067.0 Z" fill="#ffa8a8" stroke="none" stroke-width="0" />
<rect x="207.6" y="1067.0" width="22.1" height="229.4" fill="url(#gna)" stroke="#c84040" stroke-width="0.7" />
<line x1="210.3" y1="1300.3" x2="210.3" y2="1308.1" stroke="#000" stroke-width="2.7" />
<text x="210.3" y="1335.2" font-size="23.5" font-weight="bold" fill="#000" text-anchor="middle">Na</text>
<path d="M272.3,1068.9 L278.0,1067.8 V1294.2 L272.3,1296.4 Z" fill="#2e2e2e" stroke="none" stroke-width="0" />
<path d="M250.2,1068.9 l5.7,-1.1 H278.0 L272.3,1068.9 Z" fill="#9c9c9c" stroke="none" stroke-width="0" />
<rect x="250.2" y="1068.9" width="22.1" height="227.5" fill="#828282" stroke="#5e5e5e" stroke-width="0.7" />
<line x1="254.6" y1="1300.4" x2="254.6" y2="1308.2" stroke="#000" stroke-width="2.7" />
<text x="254.6" y="1335.3" font-size="23.5" font-weight="bold" fill="#000" text-anchor="middle">K</text>
<path d="M316.8,1196.4 L321.8,1195.2 V1294.3 L316.8,1296.5 Z" fill="#2e2e2e" stroke="none" stroke-width="0" />
<path d="M294.6,1196.4 l5.0,-1.2 H321.8 L316.8,1196.4 Z" fill="#9c9c9c" stroke="none" stroke-width="0" />
<rect x="294.6" y="1196.4" width="22.2" height="100.1" fill="#828282" stroke="#5e5e5e" stroke-width="0.7" />
<line x1="299.0" y1="1300.5" x2="299.0" y2="1308.3" stroke="#000" stroke-width="2.7" />
<text x="299.0" y="1335.5" font-size="23.5" font-weight="bold" fill="#000" text-anchor="middle">Sc</text>
<path d="M360.6,1167.9 L365.0,1166.6 V1294.4 L360.6,1296.6 Z" fill="#2e2e2e" stroke="none" stroke-width="0" />
<path d="M338.3,1167.9 l4.4,-1.3 H365.0 L360.6,1167.9 Z" fill="#9c9c9c" stroke="none" stroke-width="0" />
<rect x="338.3" y="1167.9" width="22.3" height="128.7" fill="#828282" stroke="#5e5e5e" stroke-width="0.7" />
<line x1="343.5" y1="1300.6" x2="343.5" y2="1308.4" stroke="#000" stroke-width="2.7" />
<text x="343.5" y="1335.6" font-size="23.5" font-weight="bold" fill="#000" text-anchor="middle">Cr</text>
<path d="M404.4,1164.6 L408.4,1163.3 V1294.5 L404.4,1296.7 Z" fill="#2e2e2e" stroke="none" stroke-width="0" />
<path d="M382.1,1164.6 l4.0,-1.3 H408.4 L404.4,1164.6 Z" fill="#9c9c9c" stroke="none" stroke-width="0" />
<rect x="382.1" y="1164.6" width="22.3" height="132.1" fill="#828282" stroke="#5e5e5e" stroke-width="0.7" />
<line x1="387.8" y1="1300.7" x2="387.8" y2="1308.5" stroke="#000" stroke-width="2.7" />
<text x="387.8" y="1335.7" font-size="23.5" font-weight="bold" fill="#000" text-anchor="middle">V</text>
<path d="M448.3,1188.4 L451.9,1187.0 V1294.5 L448.3,1296.7 Z" fill="#2e2e2e" stroke="none" stroke-width="0" />
<path d="M426.0,1188.4 l3.6,-1.4 H451.9 L448.3,1188.4 Z" fill="#9c9c9c" stroke="none" stroke-width="0" />
<rect x="426.0" y="1188.4" width="22.3" height="108.3" fill="#828282" stroke="#5e5e5e" stroke-width="0.7" />
<line x1="432.5" y1="1300.8" x2="432.5" y2="1308.6" stroke="#000" stroke-width="2.7" />
<text x="432.5" y="1335.8" font-size="23.5" font-weight="bold" fill="#000" text-anchor="middle">Y</text>
<path d="M492.3,1158.9 L495.2,1157.5 V1294.6 L492.3,1296.8 Z" fill="#2e2e2e" stroke="none" stroke-width="0" />
<path d="M470.4,1158.9 l2.9,-1.4 H495.2 L492.3,1158.9 Z" fill="#9c9c9c" stroke="none" stroke-width="0" />
<rect x="470.4" y="1158.9" width="21.9" height="137.9" fill="#828282" stroke="#5e5e5e" stroke-width="0.7" />
<line x1="477.5" y1="1300.9" x2="477.5" y2="1308.7" stroke="#000" stroke-width="2.7" />
<text x="477.5" y="1336.0" font-size="23.5" font-weight="bold" fill="#000" text-anchor="middle">Zr</text>
<path d="M536.7,1197.9 L538.9,1196.4 V1294.7 L536.7,1296.9 Z" fill="#2e2e2e" stroke="none" stroke-width="0" />
<path d="M514.6,1197.9 l2.2,-1.5 H538.9 L536.7,1197.9 Z" fill="#9c9c9c" stroke="none" stroke-width="0" />
<rect x="514.6" y="1197.9" width="22.1" height="99.0" fill="#828282" stroke="#5e5e5e" stroke-width="0.7" />
<line x1="522.2" y1="1301.0" x2="522.2" y2="1308.8" stroke="#000" stroke-width="2.7" />
<text x="522.2" y="1336.1" font-size="23.5" font-weight="bold" fill="#000" text-anchor="middle">Nb</text>
<path d="M580.8,1222.6 L582.7,1221.0 V1294.8 L580.8,1297.0 Z" fill="#2e2e2e" stroke="none" stroke-width="0" />
<path d="M558.5,1222.6 l1.9,-1.6 H582.7 L580.8,1222.6 Z" fill="#9c9c9c" stroke="none" stroke-width="0" />
<rect x="558.5" y="1222.6" width="22.3" height="74.4" fill="#828282" stroke="#5e5e5e" stroke-width="0.7" />
<line x1="567.1" y1="1301.1" x2="567.1" y2="1308.9" stroke="#000" stroke-width="2.7" />
<text x="567.1" y="1336.2" font-size="23.5" font-weight="bold" fill="#000" text-anchor="middle">Hf</text>
<path d="M624.9,1240.3 L626.0,1238.7 V1294.8 L624.9,1297.0 Z" fill="#2e2e2e" stroke="none" stroke-width="0" />
<path d="M603.0,1240.3 l1.1,-1.6 H626.0 L624.9,1240.3 Z" fill="#9c9c9c" stroke="none" stroke-width="0" />
<rect x="603.0" y="1240.3" width="21.9" height="56.7" fill="#828282" stroke="#5e5e5e" stroke-width="0.7" />
<line x1="612.2" y1="1301.2" x2="612.2" y2="1309.0" stroke="#000" stroke-width="2.7" />
<text x="612.2" y="1336.3" font-size="23.5" font-weight="bold" fill="#000" text-anchor="middle">Ta</text>
<path d="M669.6,1190.3 L670.2,1188.6 V1294.9 L669.6,1297.1 Z" fill="#2e2e2e" stroke="none" stroke-width="0" />
<path d="M647.4,1190.3 l0.6,-1.7 H670.2 L669.6,1190.3 Z" fill="#9c9c9c" stroke="none" stroke-width="0" />
<rect x="647.4" y="1190.3" width="22.2" height="106.8" fill="#828282" stroke="#5e5e5e" stroke-width="0.7" />
<line x1="657.3" y1="1301.3" x2="657.3" y2="1309.0" stroke="#000" stroke-width="2.7" />
<text x="657.3" y="1336.4" font-size="23.5" font-weight="bold" fill="#000" text-anchor="middle">La</text>
<path d="M691.5,1248.3 l0.5,-1.8 H713.5 L714.0,1248.3 Z" fill="#9c9c9c" stroke="none" stroke-width="0" />
<rect x="691.5" y="1248.3" width="22.5" height="48.9" fill="#828282" stroke="#5e5e5e" stroke-width="0.7" />
<line x1="702.6" y1="1301.4" x2="702.6" y2="1309.1" stroke="#000" stroke-width="2.7" />
<text x="702.6" y="1336.6" font-size="23.5" font-weight="bold" fill="#000" text-anchor="middle">Ho</text>
<path d="M735.9,1230.3 l0.5,-1.8 H758.2 L758.7,1230.3 Z" fill="#9c9c9c" stroke="none" stroke-width="0" />
<rect x="735.9" y="1230.3" width="22.8" height="66.9" fill="#828282" stroke="#5e5e5e" stroke-width="0.7" />
<line x1="747.6" y1="1301.5" x2="747.6" y2="1309.2" stroke="#000" stroke-width="2.7" />
<text x="747.6" y="1336.7" font-size="23.5" font-weight="bold" fill="#000" text-anchor="middle">Er</text>
<path d="M780.0,1190.3 l0.5,-1.9 H802.3 L802.8,1190.3 Z" fill="#9c9c9c" stroke="none" stroke-width="0" />
<rect x="780.0" y="1190.3" width="22.8" height="107.0" fill="#828282" stroke="#5e5e5e" stroke-width="0.7" />
<line x1="792.7" y1="1301.6" x2="792.7" y2="1309.3" stroke="#000" stroke-width="2.7" />
<text x="792.7" y="1336.8" font-size="23.5" font-weight="bold" fill="#000" text-anchor="middle">Sm</text>
<path d="M824.3,1041.5 L823.4,1039.5 V1295.2 L824.3,1297.4 Z" fill="#b8601c" stroke="none" stroke-width="0" />
<path d="M824.3,1041.5 L823.4,1039.5 H846.6 L847.5,1041.5 Z" fill="#ffb468" stroke="none" stroke-width="0" />
<rect x="824.3" y="1041.5" width="23.2" height="255.9" fill="url(#gal)" stroke="#c8701c" stroke-width="0.7" />
<line x1="838.0" y1="1301.7" x2="838.0" y2="1309.4" stroke="#000" stroke-width="2.7" />
<text x="838.0" y="1336.9" font-size="23.5" font-weight="bold" fill="#000" text-anchor="middle">Al</text>
<path d="M870.0,1203.2 L867.5,1201.2 V1295.3 L870.0,1297.5 Z" fill="#2e2e2e" stroke="none" stroke-width="0" />
<path d="M870.0,1203.2 L867.5,1201.2 H890.1 L892.6,1203.2 Z" fill="#9c9c9c" stroke="none" stroke-width="0" />
<rect x="870.0" y="1203.2" width="22.6" height="94.3" fill="#828282" stroke="#5e5e5e" stroke-width="0.7" />
<line x1="883.7" y1="1301.8" x2="883.7" y2="1309.5" stroke="#000" stroke-width="2.7" />
<text x="883.7" y="1337.1" font-size="23.5" font-weight="bold" fill="#000" text-anchor="middle">Ga</text>
<path d="M914.5,1281.0 L911.8,1278.9 V1295.3 L914.5,1297.5 Z" fill="#2e2e2e" stroke="none" stroke-width="0" />
<path d="M914.5,1281.0 L911.8,1278.9 H934.2 L936.9,1281.0 Z" fill="#9c9c9c" stroke="none" stroke-width="0" />
<rect x="914.5" y="1281.0" width="22.4" height="16.5" fill="#828282" stroke="#5e5e5e" stroke-width="0.7" />
<line x1="928.9" y1="1301.9" x2="928.9" y2="1309.6" stroke="#000" stroke-width="2.7" />
<text x="928.9" y="1337.2" font-size="23.5" font-weight="bold" fill="#000" text-anchor="middle">In</text>
<path d="M959.2,1268.0 L956.0,1265.9 V1295.4 L959.2,1297.6 Z" fill="#2e2e2e" stroke="none" stroke-width="0" />
<path d="M959.2,1268.0 L956.0,1265.9 H978.5 L981.7,1268.0 Z" fill="#9c9c9c" stroke="none" stroke-width="0" />
<rect x="959.2" y="1268.0" width="22.5" height="29.6" fill="#828282" stroke="#5e5e5e" stroke-width="0.7" />
<line x1="974.6" y1="1302.0" x2="974.6" y2="1309.7" stroke="#000" stroke-width="2.7" />
<text x="974.6" y="1337.3" font-size="23.5" font-weight="bold" fill="#000" text-anchor="middle">Tl</text>
<path d="M1004.1,1134.6 L1000.7,1132.4 V1295.5 L1004.1,1297.7 Z" fill="url(#gf2)" stroke="none" stroke-width="0" />
<path d="M1004.1,1134.6 L1000.7,1132.4 H1023.3 L1026.7,1134.6 Z" fill="#60eaea" stroke="none" stroke-width="0" />
<rect x="1004.1" y="1134.6" width="22.6" height="163.1" fill="url(#gf)" stroke="#00a0a4" stroke-width="0.7" />
<line x1="1020.4" y1="1302.1" x2="1020.4" y2="1309.8" stroke="#000" stroke-width="2.7" />
<text x="1020.4" y="1337.4" font-size="23.5" font-weight="bold" fill="#000" text-anchor="middle">F</text>
<path d="M1049.5,1162.5 L1045.0,1160.2 V1295.6 L1049.5,1297.8 Z" fill="url(#gcl2)" stroke="none" stroke-width="0" />
<path d="M1049.5,1162.5 L1045.0,1160.2 H1067.4 L1071.9,1162.5 Z" fill="#d4ecc4" stroke="none" stroke-width="0" />
<rect x="1049.5" y="1162.5" width="22.4" height="135.3" fill="url(#gcl)" stroke="#86a872" stroke-width="0.7" />
<line x1="1066.3" y1="1302.2" x2="1066.3" y2="1309.9" stroke="#000" stroke-width="2.7" />
<text x="1066.3" y="1337.6" font-size="23.5" font-weight="bold" fill="#000" text-anchor="middle">Cl</text>
<path d="M1093.9,1239.8 L1089.3,1237.5 V1295.6 L1093.9,1297.8 Z" fill="#2e2e2e" stroke="none" stroke-width="0" />
<path d="M1093.9,1239.8 L1089.3,1237.5 H1112.2 L1116.8,1239.8 Z" fill="#9c9c9c" stroke="none" stroke-width="0" />
<rect x="1093.9" y="1239.8" width="22.9" height="58.0" fill="#828282" stroke="#5e5e5e" stroke-width="0.7" />
<line x1="1112.1" y1="1302.3" x2="1112.1" y2="1310.0" stroke="#000" stroke-width="2.7" />
<text x="1112.1" y="1337.7" font-size="23.5" font-weight="bold" fill="#000" text-anchor="middle">Br</text>
<path d="M1138.8,1269.2 L1134.2,1266.8 V1295.7 L1138.8,1297.9 Z" fill="#2e2e2e" stroke="none" stroke-width="0" />
<path d="M1138.8,1269.2 L1134.2,1266.8 H1157.4 L1162.0,1269.2 Z" fill="#9c9c9c" stroke="none" stroke-width="0" />
<rect x="1138.8" y="1269.2" width="23.2" height="28.7" fill="#828282" stroke="#5e5e5e" stroke-width="0.7" />
<line x1="1158.0" y1="1302.4" x2="1158.0" y2="1310.1" stroke="#000" stroke-width="2.7" />
<text x="1158.0" y="1337.8" font-size="23.5" font-weight="bold" fill="#000" text-anchor="middle">I</text>
<path d="M166.4,990.5 C166.4,976.0 166.9,970.0 175.4,970.0 L215.7,970.0 C221.2,970.0 222.4,965.0 222.7,950.4 C223.0,965.0 224.2,970.0 229.7,970.0 L270.3,970.0 C278.8,970.0 279.3,976.0 279.3,990.5" fill="none" stroke="#000" stroke-width="2.6" stroke-linejoin="round"/>
<path d="M305.4,987.7 C305.4,974.7 305.9,968.7 314.4,968.7 L457.0,968.7 C462.5,968.7 463.7,963.7 464.0,948.2 C464.3,963.7 465.5,968.7 471.0,968.7 L612.8,968.7 C621.3,968.7 621.8,974.7 621.8,987.7" fill="none" stroke="#000" stroke-width="2.6" stroke-linejoin="round"/>
<path d="M657.5,990.0 C657.5,976.0 658.0,970.0 666.5,970.0 L728.0,970.0 C733.5,970.0 734.7,965.0 735.0,950.4 C735.3,965.0 736.5,970.0 742.0,970.0 L803.5,970.0 C812.0,970.0 812.5,976.0 812.5,990.0" fill="none" stroke="#000" stroke-width="2.6" stroke-linejoin="round"/>
<path d="M832.0,989.5 C832.0,975.5 832.5,969.5 841.0,969.5 L898.0,969.5 C903.5,969.5 904.7,964.5 905.0,950.4 C905.3,964.5 906.5,969.5 912.0,969.5 L969.0,969.5 C977.5,969.5 978.0,975.5 978.0,989.5" fill="none" stroke="#000" stroke-width="2.6" stroke-linejoin="round"/>
<path d="M1008.0,989.5 C1008.0,976.0 1008.5,970.0 1017.0,970.0 L1074.0,970.0 C1079.5,970.0 1080.7,965.0 1081.0,950.4 C1081.3,965.0 1082.5,970.0 1088.0,970.0 L1145.0,970.0 C1153.5,970.0 1154.0,976.0 1154.0,989.5" fill="none" stroke="#000" stroke-width="2.6" stroke-linejoin="round"/>
<text x="233.5" y="935.3" font-size="25.5" font-weight="bold" fill="#000" text-anchor="middle" textLength="151.0" lengthAdjust="spacingAndGlyphs" font-style="italic">alkali metals</text>
<text x="478.0" y="935.3" font-size="25.5" font-weight="bold" fill="#000" text-anchor="middle" textLength="204.0" lengthAdjust="spacingAndGlyphs" font-style="italic">transition metals</text>
<text x="733.0" y="935.3" font-size="25.5" font-weight="bold" fill="#000" text-anchor="middle" textLength="138.0" lengthAdjust="spacingAndGlyphs" font-style="italic">lanthanides</text>
<text x="901.0" y="935.3" font-size="25.5" font-weight="bold" fill="#000" text-anchor="middle" textLength="107.0" lengthAdjust="spacingAndGlyphs" font-style="italic">group 13</text>
<text x="1080.0" y="935.3" font-size="25.5" font-weight="bold" fill="#000" text-anchor="middle" textLength="106.0" lengthAdjust="spacingAndGlyphs" font-style="italic">halogens</text>
<text x="471.0" y="1017.0" font-size="24" font-weight="bold" fill="#404040" text-anchor="middle" textLength="66.0" lengthAdjust="spacingAndGlyphs">≤ 165</text>
<text x="733.5" y="1017.0" font-size="24" font-weight="bold" fill="#404040" text-anchor="middle" textLength="51.0" lengthAdjust="spacingAndGlyphs">≤ 30</text>
<text x="221.5" y="1059.0" font-size="23.5" font-weight="bold" fill="#f41616" text-anchor="middle" textLength="72.7" lengthAdjust="spacingAndGlyphs">23600</text>
<text x="837.5" y="1033.8" font-size="23.5" font-weight="bold" fill="#f58c28" text-anchor="middle" textLength="74.0" lengthAdjust="spacingAndGlyphs">82300</text>
<text x="1015.2" y="1124.0" font-size="24.5" font-weight="bold" fill="#12bcc2" text-anchor="middle" textLength="43.2" lengthAdjust="spacingAndGlyphs">585</text>
<text x="1060.6" y="1153.5" font-size="24.5" font-weight="bold" fill="#86ac72" text-anchor="middle" textLength="42.6" lengthAdjust="spacingAndGlyphs">145</text>
<text x="79.0" y="1143.0" font-size="24.5" font-weight="bold" fill="#000" text-anchor="middle" textLength="392.0" lengthAdjust="spacingAndGlyphs" transform="rotate(-90 79.0 1143.0)">Abundance in Earth's crust (ppm)</text>
<text x="657.5" y="1381.0" font-size="27.5" font-weight="bold" fill="#000" text-anchor="middle">Element</text>
</g>
<g id="panel_h">
<text x="1183.5" y="923.0" font-size="50" font-weight="bold" fill="#000" class="ser">h</text>
<path d="M1265.0,916.5 L1276.6,925.0 L1700.2,922.4 L1700.2,1296.6 L1278.7,1294.5 L1267.2,1302.4" fill="none" stroke="#aeaeae" stroke-width="1" />
<line x1="1276.6" y1="925.0" x2="1278.7" y2="1294.5" stroke="#aeaeae" stroke-width="1" />
<path d="M1265.0,916.0 L1266.0,1138.0 L1266.8,1146.5" fill="none" stroke="#000" stroke-width="2.4" />
<path d="M1265.8,1154.5 L1266.2,1162.0 L1266.9,1304.0" fill="none" stroke="#000" stroke-width="2.4" />
<line x1="1261.8" y1="1150.8" x2="1270.8" y2="1142.8" stroke="#000" stroke-width="2.2" />
<line x1="1261.8" y1="1156.6" x2="1270.8" y2="1150.2" stroke="#000" stroke-width="2.2" />
<path d="M1259.5,1303.3 L1708.5,1304.8 L1700.2,1296.4" fill="none" stroke="#000" stroke-width="2.6" stroke-linejoin="miter"/>
<line x1="1258.2" y1="917.0" x2="1266.0" y2="917.0" stroke="#000" stroke-width="2.3" />
<text x="1255.3" y="924.8" font-size="22.3" font-weight="bold" fill="#000" text-anchor="end" textLength="34.6" lengthAdjust="spacingAndGlyphs">650</text>
<line x1="1258.2" y1="963.1" x2="1266.0" y2="963.1" stroke="#000" stroke-width="2.3" />
<text x="1255.3" y="970.9" font-size="22.3" font-weight="bold" fill="#000" text-anchor="end" textLength="34.6" lengthAdjust="spacingAndGlyphs">600</text>
<line x1="1258.2" y1="1008.7" x2="1266.0" y2="1008.7" stroke="#000" stroke-width="2.3" />
<text x="1255.3" y="1016.5" font-size="22.3" font-weight="bold" fill="#000" text-anchor="end" textLength="34.6" lengthAdjust="spacingAndGlyphs">550</text>
<line x1="1258.2" y1="1054.8" x2="1266.0" y2="1054.8" stroke="#000" stroke-width="2.3" />
<text x="1255.3" y="1062.6" font-size="22.3" font-weight="bold" fill="#000" text-anchor="end" textLength="34.6" lengthAdjust="spacingAndGlyphs">500</text>
<line x1="1258.2" y1="1100.6" x2="1266.0" y2="1100.6" stroke="#000" stroke-width="2.3" />
<text x="1255.3" y="1108.4" font-size="22.3" font-weight="bold" fill="#000" text-anchor="end" textLength="34.6" lengthAdjust="spacingAndGlyphs">450</text>
<line x1="1258.2" y1="1178.0" x2="1266.0" y2="1178.0" stroke="#000" stroke-width="2.3" />
<text x="1255.3" y="1185.8" font-size="22.3" font-weight="bold" fill="#000" text-anchor="end" textLength="23.1" lengthAdjust="spacingAndGlyphs">25</text>
<line x1="1258.2" y1="1203.2" x2="1266.0" y2="1203.2" stroke="#000" stroke-width="2.3" />
<text x="1255.3" y="1211.0" font-size="22.3" font-weight="bold" fill="#000" text-anchor="end" textLength="23.1" lengthAdjust="spacingAndGlyphs">20</text>
<line x1="1258.2" y1="1228.3" x2="1266.0" y2="1228.3" stroke="#000" stroke-width="2.3" />
<text x="1255.3" y="1236.1" font-size="22.3" font-weight="bold" fill="#000" text-anchor="end" textLength="23.1" lengthAdjust="spacingAndGlyphs">15</text>
<line x1="1258.2" y1="1253.7" x2="1266.0" y2="1253.7" stroke="#000" stroke-width="2.3" />
<text x="1255.3" y="1261.5" font-size="22.3" font-weight="bold" fill="#000" text-anchor="end" textLength="23.1" lengthAdjust="spacingAndGlyphs">10</text>
<line x1="1258.2" y1="1278.6" x2="1266.0" y2="1278.6" stroke="#000" stroke-width="2.3" />
<text x="1255.3" y="1286.4" font-size="22.3" font-weight="bold" fill="#000" text-anchor="end" textLength="11.5" lengthAdjust="spacingAndGlyphs">5</text>
<line x1="1258.2" y1="1303.3" x2="1266.0" y2="1303.3" stroke="#000" stroke-width="2.3" />
<text x="1255.3" y="1311.1" font-size="22.3" font-weight="bold" fill="#000" text-anchor="end" textLength="11.5" lengthAdjust="spacingAndGlyphs">0</text>
<path d="M1334.7,1163.6 L1340.4,1161.2 V1297.0 L1334.7,1302.4 Z" fill="url(#hgs)" stroke="none" stroke-width="0" />
<path d="M1288.9,1163.6 l5.7,-2.4 H1340.4 L1334.7,1163.6 Z" fill="#565656" stroke="none" stroke-width="0" />
<rect x="1288.9" y="1163.6" width="45.8" height="138.8" fill="url(#hg)" />
<line x1="1310.5" y1="1304.4" x2="1310.5" y2="1311.2" stroke="#000" stroke-width="2.3" />
<text x="1310.5" y="1334.9" font-size="21" font-weight="bold" fill="#000" text-anchor="middle" textLength="56.8" lengthAdjust="spacingAndGlyphs">NZSP</text>
<path d="M1422.0,1212.7 L1425.2,1208.9 V1297.0 L1422.0,1302.4 Z" fill="url(#hcs)" stroke="none" stroke-width="0" />
<path d="M1376.2,1212.7 l3.2,-3.8 H1425.2 L1422.0,1212.7 Z" fill="#1ab6ba" stroke="none" stroke-width="0" />
<rect x="1376.2" y="1212.7" width="45.8" height="89.7" fill="url(#hc)" />
<line x1="1398.1" y1="1304.4" x2="1398.1" y2="1311.2" stroke="#000" stroke-width="2.3" />
<text x="1398.1" y="1334.9" font-size="21" font-weight="bold" fill="#000" text-anchor="middle" textLength="54.0" lengthAdjust="spacingAndGlyphs">NH54</text>
<path d="M1509.6,1264.9 L1510.0,1259.6 V1297.0 L1509.6,1302.4 Z" fill="#a03030" stroke="none" stroke-width="0" />
<path d="M1463.4,1264.9 l0.4,-5.3 H1510.0 L1509.6,1264.9 Z" fill="#c85252" stroke="none" stroke-width="0" />
<rect x="1463.4" y="1264.9" width="46.2" height="37.5" fill="url(#hr)" />
<line x1="1485.8" y1="1304.4" x2="1485.8" y2="1311.2" stroke="#000" stroke-width="2.3" />
<text x="1485.8" y="1335.7" font-size="21" font-weight="bold" fill="#000" text-anchor="middle" textLength="54.0" lengthAdjust="spacingAndGlyphs">NH54</text>
<path d="M1550.1,1081.6 L1549.6,1080.2 V1297.0 L1550.1,1302.4 Z" fill="#3a3a3a" stroke="none" stroke-width="0" />
<path d="M1550.1,1081.6 L1549.6,1080.2 H1596.6 L1597.1,1081.6 Z" fill="#5a5a5a" stroke="none" stroke-width="0" />
<rect x="1550.1" y="1081.6" width="47.0" height="220.8" fill="url(#hg2)" />
<line x1="1573.9" y1="1304.4" x2="1573.9" y2="1311.2" stroke="#000" stroke-width="2.3" />
<text x="1573.9" y="1335.2" font-size="21" font-weight="bold" fill="#000" text-anchor="middle" textLength="44.0" lengthAdjust="spacingAndGlyphs">NTC</text>
<path d="M1638.2,972.9 L1635.2,970.2 V1297.0 L1638.2,1302.4 Z" fill="url(#hgs)" stroke="none" stroke-width="0" />
<path d="M1638.2,972.9 L1635.2,970.2 H1683.0 L1686.0,972.9 Z" fill="#585858" stroke="none" stroke-width="0" />
<rect x="1638.2" y="972.9" width="47.8" height="329.5" fill="url(#hg2)" />
<line x1="1662.2" y1="1304.4" x2="1662.2" y2="1311.2" stroke="#000" stroke-width="2.3" />
<text x="1662.2" y="1335.2" font-size="21" font-weight="bold" fill="#000" text-anchor="middle" textLength="44.0" lengthAdjust="spacingAndGlyphs">NPS</text>
<text x="1315.0" y="1149.6" font-size="20" font-weight="normal" fill="#363636" text-anchor="middle" textLength="52.7" lengthAdjust="spacingAndGlyphs" stroke="#363636" stroke-width="0.8">27.90</text>
<text x="1574.1" y="1071.8" font-size="20" font-weight="normal" fill="#363636" text-anchor="middle" textLength="65.3" lengthAdjust="spacingAndGlyphs" stroke="#363636" stroke-width="0.8">469.98</text>
<text x="1658.2" y="960.5" font-size="20" font-weight="normal" fill="#363636" text-anchor="middle" textLength="64.5" lengthAdjust="spacingAndGlyphs" stroke="#363636" stroke-width="0.8">591.16</text>
<text x="1406.5" y="1149.6" font-size="15.8" font-weight="bold" fill="#14bec4" text-anchor="middle" textLength="45.8" lengthAdjust="spacingAndGlyphs">single</text>
<text x="1406.6" y="1171.0" font-size="15.8" font-weight="bold" fill="#14bec4" text-anchor="middle" textLength="85.7" lengthAdjust="spacingAndGlyphs">production</text>
<text x="1403.2" y="1199.0" font-size="20" font-weight="normal" fill="#14bec4" text-anchor="middle" textLength="51.5" lengthAdjust="spacingAndGlyphs" stroke="#14bec4" stroke-width="0.6">18.05</text>
<text x="1488.6" y="1204.0" font-size="15.8" font-weight="bold" fill="#f80e0e" text-anchor="middle" textLength="57.7" lengthAdjust="spacingAndGlyphs">solvent</text>
<text x="1489.2" y="1225.4" font-size="15.8" font-weight="bold" fill="#f80e0e" text-anchor="middle" textLength="68.6" lengthAdjust="spacingAndGlyphs">recovery</text>
<text x="1486.4" y="1252.6" font-size="20" font-weight="normal" fill="#f80e0e" text-anchor="middle" textLength="40.0" lengthAdjust="spacingAndGlyphs" stroke="#f80e0e" stroke-width="0.6">7.60</text>
<text x="1207.0" y="1123.0" font-size="25.5" font-weight="bold" fill="#000" text-anchor="middle" textLength="178.0" lengthAdjust="spacingAndGlyphs" transform="rotate(-90 1207.0 1123.0)">Cost (USD/kg)</text>
</g>
</svg>
</body></html>
